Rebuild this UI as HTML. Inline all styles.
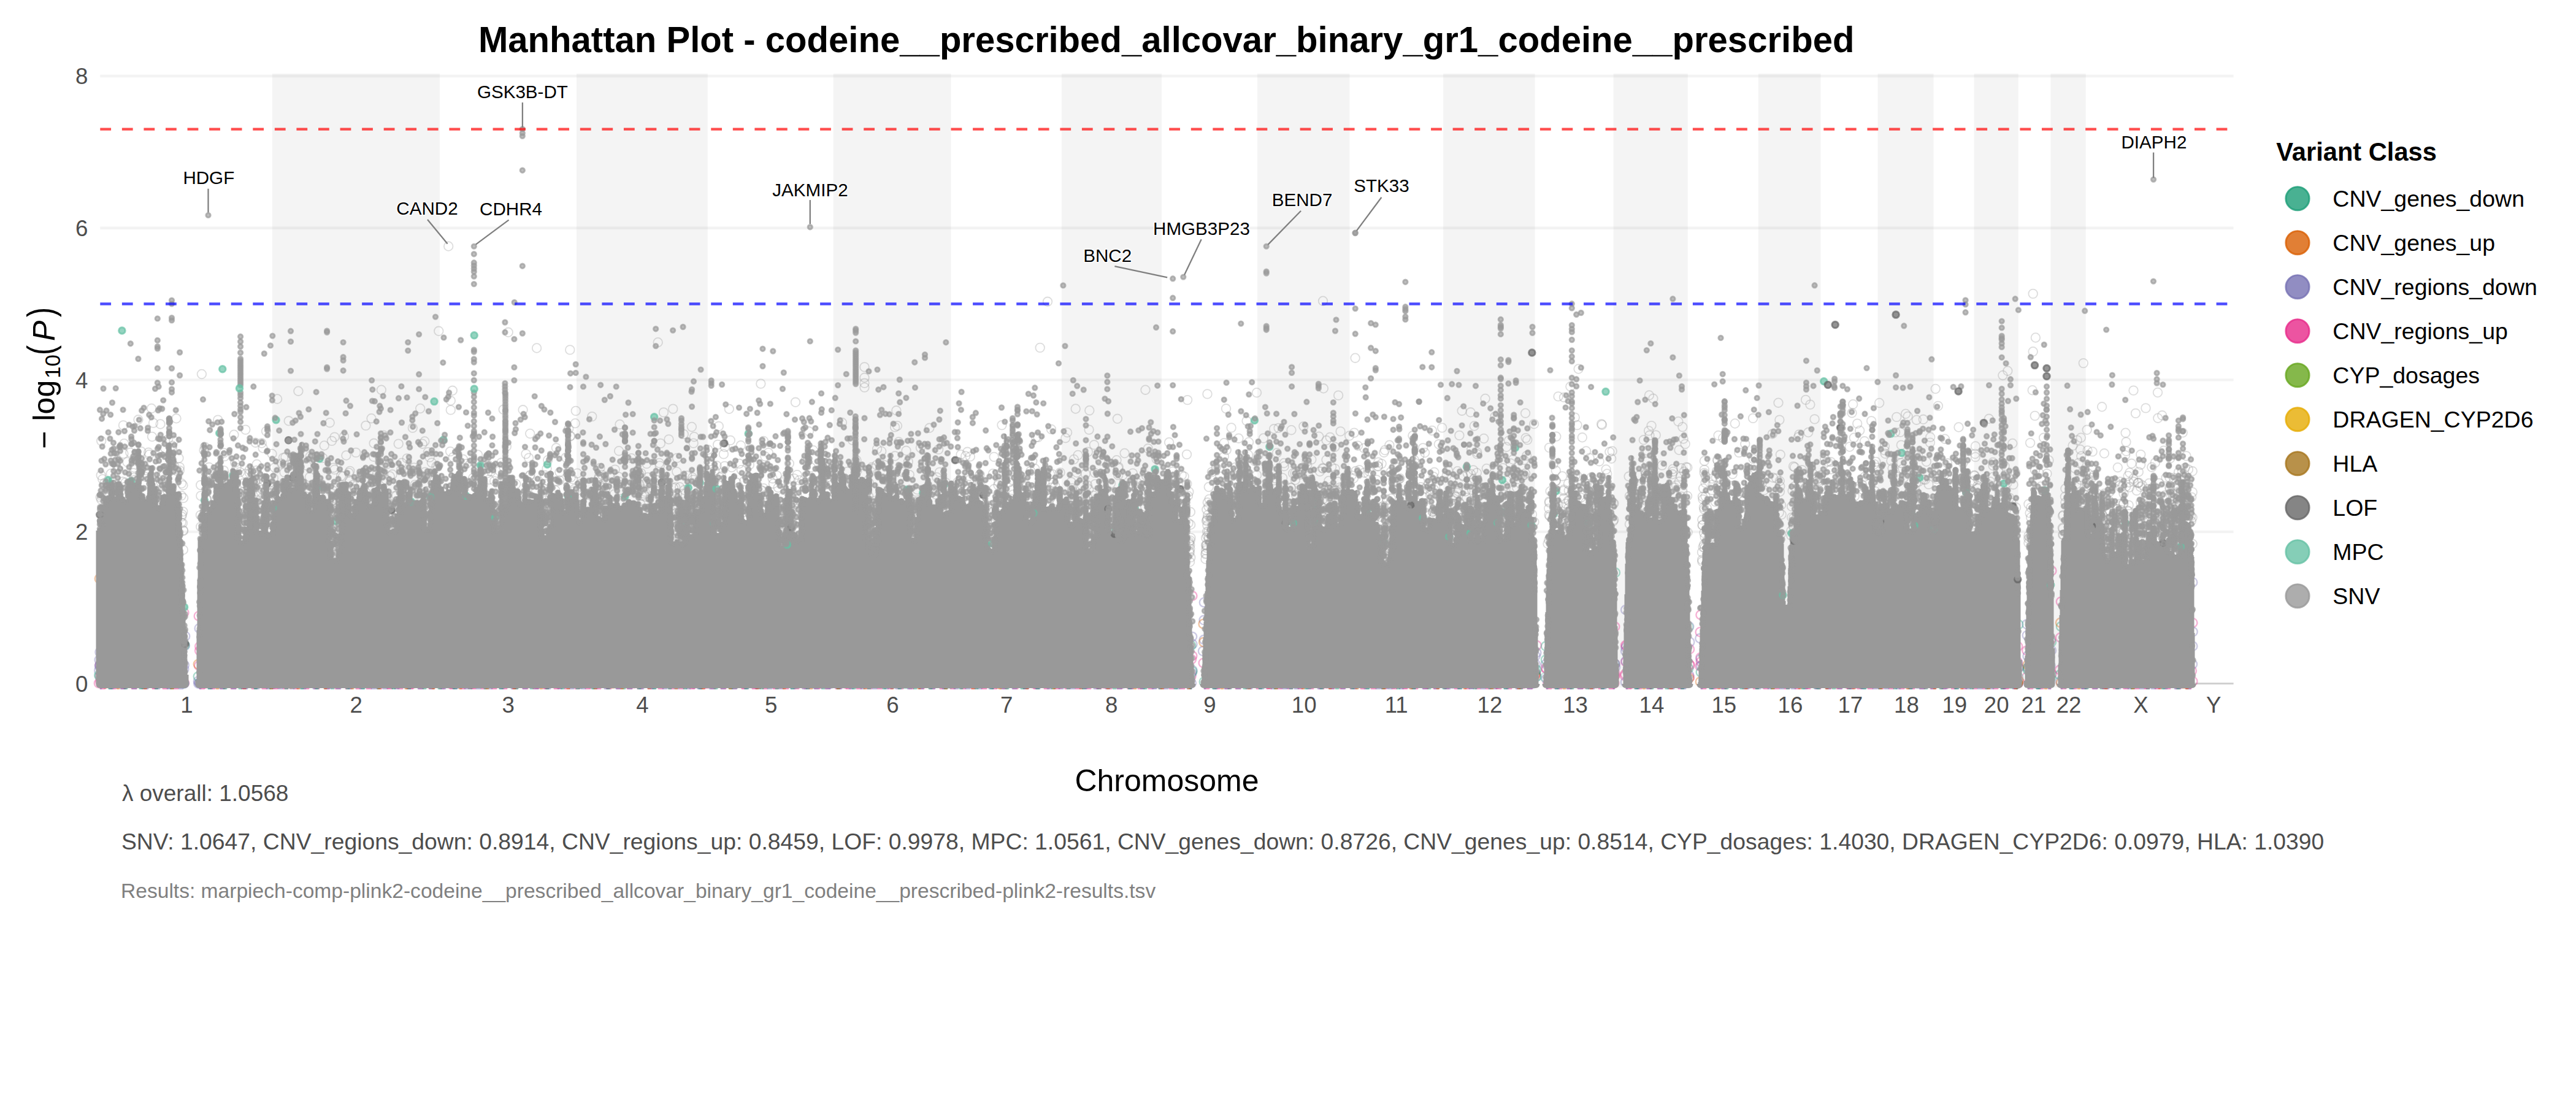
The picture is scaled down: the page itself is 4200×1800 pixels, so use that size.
<!DOCTYPE html>
<html lang="en"><head><meta charset="utf-8"><title>Manhattan Plot - codeine__prescribed_allcovar_binary_gr1_codeine__prescribed</title>
<style>
html,body{margin:0;padding:0;background:#fff}
body{width:4200px;height:1800px;overflow:hidden}
svg{display:block;font-family:"Liberation Sans",sans-serif}
.ax{font-size:36.67px;fill:#4d4d4d}
.gl{font-size:29.6px;fill:#000;text-anchor:middle;stroke:#fff;stroke-width:3px;paint-order:stroke;stroke-linejoin:round}
.lg{font-size:37.5px;fill:#000}
polyline{fill:none;stroke:none}
.s{marker:url(#mS)}.o{marker:url(#mO)}.m{marker:url(#mM)}.l{marker:url(#mL)}
.rp{marker:url(#rp)}.rv{marker:url(#rv)}.rt{marker:url(#rt)}.rg{marker:url(#rg)}.rq{marker:url(#rq)}
</style></head><body>
<svg width="4200" height="1800" viewBox="0 0 4200 1800">
<rect width="4200" height="1800" fill="#fff"/>
<defs><marker id="mS" markerUnits="userSpaceOnUse" markerWidth="24" markerHeight="24" refX="12" refY="12" viewBox="0 0 24 24"><circle cx="12" cy="12" r="3.7" fill="#999" stroke="#999" fill-opacity="0.65" stroke-opacity="0.65" stroke-width="2.95"/></marker><marker id="mO" markerUnits="userSpaceOnUse" markerWidth="24" markerHeight="24" refX="12" refY="12" viewBox="0 0 24 24"><circle cx="12" cy="12" r="7.3" fill="none" stroke="#999" fill-opacity="0" stroke-opacity="0.33" stroke-width="1.8"/></marker><marker id="mM" markerUnits="userSpaceOnUse" markerWidth="24" markerHeight="24" refX="12" refY="12" viewBox="0 0 24 24"><circle cx="12" cy="12" r="5.3" fill="#66C2A5" stroke="#66C2A5" fill-opacity="0.7" stroke-opacity="0.7" stroke-width="2.95"/></marker><marker id="mL" markerUnits="userSpaceOnUse" markerWidth="24" markerHeight="24" refX="12" refY="12" viewBox="0 0 24 24"><circle cx="12" cy="12" r="5.3" fill="#666" stroke="#666" fill-opacity="0.7" stroke-opacity="0.7" stroke-width="2.95"/></marker><marker id="rp" markerUnits="userSpaceOnUse" markerWidth="24" markerHeight="24" refX="12" refY="12" viewBox="0 0 24 24"><circle cx="12" cy="12" r="7.3" fill="none" stroke="#E7298A" fill-opacity="0" stroke-opacity="0.36" stroke-width="2.4"/></marker><marker id="rv" markerUnits="userSpaceOnUse" markerWidth="24" markerHeight="24" refX="12" refY="12" viewBox="0 0 24 24"><circle cx="12" cy="12" r="7.3" fill="none" stroke="#7570B3" fill-opacity="0" stroke-opacity="0.36" stroke-width="2.4"/></marker><marker id="rt" markerUnits="userSpaceOnUse" markerWidth="24" markerHeight="24" refX="12" refY="12" viewBox="0 0 24 24"><circle cx="12" cy="12" r="7.3" fill="none" stroke="#1B9E77" fill-opacity="0" stroke-opacity="0.36" stroke-width="2.4"/></marker><marker id="rg" markerUnits="userSpaceOnUse" markerWidth="24" markerHeight="24" refX="12" refY="12" viewBox="0 0 24 24"><circle cx="12" cy="12" r="7.3" fill="none" stroke="#D95F02" fill-opacity="0" stroke-opacity="0.36" stroke-width="2.4"/></marker><marker id="rq" markerUnits="userSpaceOnUse" markerWidth="24" markerHeight="24" refX="12" refY="12" viewBox="0 0 24 24"><circle cx="12" cy="12" r="7.3" fill="none" stroke="#66C2A5" fill-opacity="0" stroke-opacity="0.36" stroke-width="2.4"/></marker></defs>
<g stroke="#f3f3f3" stroke-width="4.4">
<line x1="163.3" x2="3641.6" y1="867.1" y2="867.1"/>
<line x1="163.3" x2="3641.6" y1="619.4" y2="619.4"/>
<line x1="163.3" x2="3641.6" y1="371.7" y2="371.7"/>
<line x1="163.3" x2="3641.6" y1="124.0" y2="124.0"/>
</g>
<line x1="3575" x2="3641.6" y1="1114.5" y2="1114.5" stroke="#d0d0d0" stroke-width="3.2"/>
<g fill="#808080" fill-opacity=".09">
<rect x="443.9" y="120.0" width="273.0" height="1001.0"/>
<rect x="940" y="120.0" width="213.8" height="1001.0"/>
<rect x="1358.7" y="120.0" width="191.9" height="1001.0"/>
<rect x="1730.9" y="120.0" width="163.0" height="1001.0"/>
<rect x="2050" y="120.0" width="150.4" height="1001.0"/>
<rect x="2353.2" y="120.0" width="149.4" height="1001.0"/>
<rect x="2630.7" y="120.0" width="121.1" height="1001.0"/>
<rect x="2866.9" y="120.0" width="101.5" height="1001.0"/>
<rect x="3061.6" y="120.0" width="90.8" height="1001.0"/>
<rect x="3218.6" y="120.0" width="72.2" height="1001.0"/>
<rect x="3343.4" y="120.0" width="57.3" height="1001.0"/>
</g>
<g stroke-width="3" stroke-opacity=".5" stroke-linecap="round"><line x1="164" x2="300" y1="1122.6" y2="1122.6" stroke="#E7298A" stroke-dasharray="7 10" stroke-dashoffset="0"/><line x1="164" x2="300" y1="1122.6" y2="1122.6" stroke="#7570B3" stroke-dasharray="6 13" stroke-dashoffset="5"/><line x1="164" x2="300" y1="1122.6" y2="1122.6" stroke="#1B9E77" stroke-dasharray="4 21" stroke-dashoffset="11"/><line x1="164" x2="300" y1="1122.6" y2="1122.6" stroke="#D95F02" stroke-dasharray="3 41" stroke-dashoffset="17"/><line x1="326" x2="1942" y1="1122.6" y2="1122.6" stroke="#E7298A" stroke-dasharray="7 10" stroke-dashoffset="0"/><line x1="326" x2="1942" y1="1122.6" y2="1122.6" stroke="#7570B3" stroke-dasharray="6 13" stroke-dashoffset="5"/><line x1="326" x2="1942" y1="1122.6" y2="1122.6" stroke="#1B9E77" stroke-dasharray="4 21" stroke-dashoffset="11"/><line x1="326" x2="1942" y1="1122.6" y2="1122.6" stroke="#D95F02" stroke-dasharray="3 41" stroke-dashoffset="17"/><line x1="1964" x2="2503" y1="1122.6" y2="1122.6" stroke="#E7298A" stroke-dasharray="7 10" stroke-dashoffset="0"/><line x1="1964" x2="2503" y1="1122.6" y2="1122.6" stroke="#7570B3" stroke-dasharray="6 13" stroke-dashoffset="5"/><line x1="1964" x2="2503" y1="1122.6" y2="1122.6" stroke="#1B9E77" stroke-dasharray="4 21" stroke-dashoffset="11"/><line x1="1964" x2="2503" y1="1122.6" y2="1122.6" stroke="#D95F02" stroke-dasharray="3 41" stroke-dashoffset="17"/><line x1="2522" x2="2632" y1="1122.6" y2="1122.6" stroke="#E7298A" stroke-dasharray="7 10" stroke-dashoffset="0"/><line x1="2522" x2="2632" y1="1122.6" y2="1122.6" stroke="#7570B3" stroke-dasharray="6 13" stroke-dashoffset="5"/><line x1="2522" x2="2632" y1="1122.6" y2="1122.6" stroke="#1B9E77" stroke-dasharray="4 21" stroke-dashoffset="11"/><line x1="2522" x2="2632" y1="1122.6" y2="1122.6" stroke="#D95F02" stroke-dasharray="3 41" stroke-dashoffset="17"/><line x1="2652" x2="2753" y1="1122.6" y2="1122.6" stroke="#E7298A" stroke-dasharray="7 10" stroke-dashoffset="0"/><line x1="2652" x2="2753" y1="1122.6" y2="1122.6" stroke="#7570B3" stroke-dasharray="6 13" stroke-dashoffset="5"/><line x1="2652" x2="2753" y1="1122.6" y2="1122.6" stroke="#1B9E77" stroke-dasharray="4 21" stroke-dashoffset="11"/><line x1="2652" x2="2753" y1="1122.6" y2="1122.6" stroke="#D95F02" stroke-dasharray="3 41" stroke-dashoffset="17"/><line x1="2774" x2="3289" y1="1122.6" y2="1122.6" stroke="#E7298A" stroke-dasharray="7 10" stroke-dashoffset="0"/><line x1="2774" x2="3289" y1="1122.6" y2="1122.6" stroke="#7570B3" stroke-dasharray="6 13" stroke-dashoffset="5"/><line x1="2774" x2="3289" y1="1122.6" y2="1122.6" stroke="#1B9E77" stroke-dasharray="4 21" stroke-dashoffset="11"/><line x1="2774" x2="3289" y1="1122.6" y2="1122.6" stroke="#D95F02" stroke-dasharray="3 41" stroke-dashoffset="17"/><line x1="3307" x2="3343" y1="1122.6" y2="1122.6" stroke="#E7298A" stroke-dasharray="7 10" stroke-dashoffset="0"/><line x1="3307" x2="3343" y1="1122.6" y2="1122.6" stroke="#7570B3" stroke-dasharray="6 13" stroke-dashoffset="5"/><line x1="3307" x2="3343" y1="1122.6" y2="1122.6" stroke="#1B9E77" stroke-dasharray="4 21" stroke-dashoffset="11"/><line x1="3307" x2="3343" y1="1122.6" y2="1122.6" stroke="#D95F02" stroke-dasharray="3 41" stroke-dashoffset="17"/><line x1="3361" x2="3573" y1="1122.6" y2="1122.6" stroke="#E7298A" stroke-dasharray="7 10" stroke-dashoffset="0"/><line x1="3361" x2="3573" y1="1122.6" y2="1122.6" stroke="#7570B3" stroke-dasharray="6 13" stroke-dashoffset="5"/><line x1="3361" x2="3573" y1="1122.6" y2="1122.6" stroke="#1B9E77" stroke-dasharray="4 21" stroke-dashoffset="11"/><line x1="3361" x2="3573" y1="1122.6" y2="1122.6" stroke="#D95F02" stroke-dasharray="3 41" stroke-dashoffset="17"/></g><polyline class="rp" points="251,1113.7 171.6,1114 251.1,1114.6 191,1114.2 192,1113.7 202,1114.3 251.4,1113.4 231.7,1113.4 162.7,1084.3 163.4,1111.4 161.1,1114 163,1102.4 300.9,1113.5 300.2,998.9 1435.3,1113.7 672,1114 991.7,1114.5 838.1,1114 1332.3,1113.8 868,1114.2 1801.1,1114.8 633.5,1114.8 910.7,1114.7 454.7,1114.4 396.9,1114.7 1408.9,1114 1703.5,1113.6 667,1114.3 913.9,1113.9 1211.3,1114.4 1152.6,1114.8 493.6,1113.5 1845.1,1114.6 1742.8,1114.1 912.3,1113.9 1262.7,1113.9 1375.6,1113.7 839.2,1114.1 1006,1113.7 344.9,1114.2 470.5,1113.4 975.1,1113.9 1554.8,1113.9 1620.1,1113.8 1033.8,1114.2 368.3,1113.6 1303.9,1113.8 1236.5,1114.1 1677.5,1114.1 1308.8,1114.2 890,1114.7 1601.4,1114 1379,1114.7 1130.5,1114.8 1272.4,1114.4 1726.8,1113.8 1907.8,1113.4 1836.8,1113.7 1261.5,1113.9 980,1113.6 1015.2,1113.8 765.8,1114.8 566.6,1113.7 396.9,1114.3 1606.1,1113.6 1843.6,1113.8 820.4,1113.6 513.2,1113.9 329.2,1113.7 805.6,1113.4 862.3,1113.4 1201.6,1113.9 771.2,1114.4 1670.8,1114.2 1338.1,1114.6 462.9,1113.8 1370.3,1114.5 1768.2,1114.3 445.5,1114.6 876.2,1114.7 425.2,1114.1 1316.6,1113.9 1440.7,1113.3 543.5,1114 1321.6,1113.4 1232.1,1114.7 334.6,1114.6 1207.9,1113.8 483.9,1114.1 961.9,1114.3 732.5,1114.5 1638.3,1113.7 640.3,1113.9 1625,1113.7 591.9,1113.3 1790.9,1114.7 1142.1,1114.2 672.8,1114.8 1010,1114 1685.1,1114.6 1234.7,1113.8 1365.4,1113.7 1318.5,1113.7 1859.1,1114.1 645.7,1114.5 1121.1,1113.9 361.9,1113.4 736.9,1114.4 1729,1114.7 1537.2,1114.1 324.4,1085.4 324,1004.4 325.4,1061.1 325.5,1053.9 1942.3,1102.4 1942.7,1075 1944.2,971.6 1944.1,1069.3 1972.8,1113.4 2005.6,1114.4 2116.3,1113.9 2163.6,1114.5 2297.1,1114 2067,1114.7 2291.9,1114.6 2327.1,1114.7 2272.6,1114.1 2430.1,1113.6 2484.3,1113.6 2068.2,1114.4 2186.4,1114 2251.7,1113.5 2483.6,1114.7 2357.2,1114 2337.7,1113.7 2117.7,1113.9 2439.2,1114.5 2256.7,1113.4 1987.3,1114.2 2288.9,1113.4 2300.7,1113.3 2400.4,1114.7 2383.8,1113.5 2213.8,1113.3 2281.5,1113.9 2004.4,1114.3 2170.5,1114.3 2176.3,1113.5 2441.5,1114.6 1961.9,1080.9 2503.8,1098 2504,1099.3 2505.5,1052.2 2533.2,1114.6 2523.6,1113.5 2586.1,1114.5 2558.2,1114.1 2630.5,1114.3 2602.6,1114.3 2581.6,1114.5 2520.1,1089.3 2521.5,1091.1 2632.2,1103.1 2632.2,1113.9 2632.8,1097 2633.4,1082.6 2633.1,1021.8 2632.9,1101.7 2707.1,1113.8 2694.4,1113.4 2657.4,1113.7 2750.7,1113.8 2659.9,1114.7 2690.6,1114.6 2676.5,1113.8 2651.4,1052.9 2649.5,1099.1 2649,1101.7 2650.3,1052 2650.6,1079 2755.5,1084.5 2754.4,1083 2754.9,1104.2 2754.8,1058.6 3016.8,1114.6 3265.8,1113.9 2832.3,1113.7 3015.5,1113.6 3284.6,1114.6 2870.2,1113.4 3275.4,1114.4 3168.9,1113.9 2997.2,1113.9 3175.4,1114.7 3214.8,1113.6 2967.3,1113.4 2803.3,1114.7 3210,1113.3 3001.8,1113.8 2947.3,1114.1 3268.2,1114.5 3106.8,1114.1 3024.6,1114.8 3140.5,1114.6 2956.9,1113.8 3266.9,1114.8 3104.1,1114.1 3008.7,1113.6 3011.9,1114.7 2902.2,1113.3 2946.4,1114.6 2772.7,1002.5 2772.6,1072.1 2771.9,1030.4 2771.7,1086.3 2773,1079 3289.4,1079 3291.3,1112.9 3290.8,1088.6 3290,1053.9 3304.5,1060.6 3306.2,1089.3 3304.6,1103.5 3345.4,1098.5 3345.2,930.6 3343.8,1042.4 3451.6,1114 3461.5,1114.1 3427.1,1114.7 3521.2,1114.4 3430.2,1114.3 3563.5,1114.3 3519.3,1113.3 3514.4,1114.1 3499.8,1114.8 3360.1,981 3359.3,1039.6 3358.2,1092.3 3575.2,1110.9 3573.7,1093.7 3575.1,1015.4"/><polyline class="rv" points="274.8,1114.5 185.8,1113.9 214.4,1113.6 166.3,1113.6 204.3,1114.4 162.7,1063.3 161.8,1075.9 162.7,1084.4 162.2,1086.2 161.4,1093.3 300.1,1090.7 300.6,1084.3 301.6,1052.8 302,1037.2 300.2,1114.4 1835.6,1113.4 325.6,1113.8 745.1,1114.7 436.4,1114.1 1138.2,1114.4 1356.1,1114.2 701.8,1114.1 934.4,1114.1 1841.5,1114 1926.6,1113.6 1237.6,1114.4 398.9,1114.7 1545.3,1114.3 1453,1114.8 579.4,1114 1652.7,1113.5 1224.1,1114 358.5,1114.1 1688.9,1114.4 1131.2,1114.6 1763.6,1114.7 1058.4,1114 1327.2,1114.6 1618.1,1113.9 1770.9,1114.8 1503.7,1114.1 1003.9,1114.2 1480.2,1113.5 1790.9,1113.5 1725.7,1113.5 1926.2,1114.6 754.6,1113.4 785.8,1113.5 1601.4,1113.5 1352.6,1114.7 1362,1114.1 1070.9,1113.6 1233.4,1114.3 539.8,1114.7 1671.4,1114.5 1886.6,1113.4 446.6,1114.4 1830,1114.7 1500.9,1113.6 1341.1,1114.3 1457,1114.7 1226.9,1113.9 601.9,1114 1862.6,1114.1 1887.9,1113.7 1882.7,1114.7 1862.6,1114.5 1553.5,1113.4 1059.7,1114.4 1572.3,1113.7 324.9,1024.4 324.8,1113.8 323.1,1110.5 323.4,1114.4 1944.3,1050.2 1943.2,1097.6 1943.9,1038 1944.3,1092.8 1942.7,1113.8 2448,1113.5 2252.2,1114.2 2400.3,1114.3 2097.7,1114.3 2036.9,1114.5 2269.6,1113.4 2281.5,1114 2070.3,1113.9 2088.5,1113.9 1998.7,1113.5 2375.1,1113.4 2499.5,1114.6 2093.4,1113.7 2355.4,1114.8 2100.8,1114.7 2485.2,1113.8 2106.1,1114.3 2486.5,1113.7 2368.4,1114.7 2120.7,1114.6 2397.2,1114.7 2261.8,1114.8 2089.1,1114.6 1962.9,1043 1962.8,1011.1 1963.1,982.2 1961.2,1061.6 2503.5,1069.5 2505.1,1102.7 2505.2,1064.3 2503.6,1083.1 2593.3,1113.5 2618.6,1113.5 2579.8,1113.6 2557.2,1113.4 2571.7,1114.1 2625.8,1113.3 2521,1106.8 2520.4,1082.7 2633.1,1082.5 2634,1087.5 2749.9,1113.5 2746.3,1114 2670.2,1113.8 2737.4,1114.6 2650.4,994.3 2650.6,1055.9 2650.1,1112.2 2650.3,1061.8 2650.6,1078.1 2754,1021.6 2755.1,1046.7 2753.9,1100.4 3120.1,1113.9 3205.4,1114.2 2837.6,1113.4 2836.3,1114 2914.7,1114.2 2846.5,1113.8 2890.5,1113.6 3174.7,1114 2904.6,1114.1 3139.3,1113.8 2842.7,1114.4 3091.2,1114.4 2853.4,1114.6 3202.2,1113.4 3204.7,1114.1 2978.7,1114.2 3284.5,1113.8 3276.8,1113.4 3062.6,1114 3268.5,1114.7 3273,1113.6 3290.5,1114.6 2874.5,1114.5 3126.2,1114.7 3035.6,1114.4 3083.8,1113.7 2940.6,1113.5 2773.5,1086.1 2771.6,1040.8 2772.7,1074.4 3290.4,1081.7 3291.5,1088.4 3317.9,1114.3 3305,1035.9 3305.7,1069.7 3304.4,1017.7 3344.8,1060.5 3343.3,1085.3 3416.7,1113.6 3466.3,1114.4 3386,1113.5 3465.2,1113.8 3401.1,1113.4 3541.9,1113.8 3420.1,1114 3556.3,1114.5 3432.7,1113.4 3402.5,1114.3 3395.7,1114.7 3359.3,1110.7 3574.8,1083 3575,949.4 3575.4,1030.1 3575.1,1053.6"/><polyline class="rt" points="242.8,1113.7 232.6,1114.8 229.1,1114.2 161.7,1102 300,1114 301.1,1051.9 739,1114.6 1299.1,1114.4 1363.7,1113.8 1514.2,1113.7 1636.6,1113.4 640,1114.8 1057.1,1113.8 946.5,1114.7 443.1,1113.5 632.7,1113.5 1319.6,1113.8 1476.9,1113.7 648.7,1113.5 1473.4,1114.4 740.9,1113.4 1477.5,1114.6 1746.6,1113.5 1189.6,1114.2 1556.3,1113.9 616.8,1113.4 416.1,1114.2 1670.8,1114.8 1549.9,1114.5 323,1103 1942.1,1052.5 1944.2,1094.7 2272.4,1114.3 2387.8,1113.4 2443.3,1114 1984.5,1113.9 2400,1114.1 2136.7,1114.7 1963,1111.6 2503,1095.2 2505.4,1092.1 2505.1,1103.5 2520.3,1053.6 2520.2,1075.5 2633.7,933.6 2670,1114.4 2753.1,1089.8 3034.9,1113.7 3279.9,1114.7 2960,1114.7 2782.5,1113.3 3034.3,1114.8 3188.9,1114 2984,1113.8 2773,1095.9 3290,1113.9 3291.1,1018.2 3324.5,1114 3321.4,1114.6 3306.3,1088.5 3306.1,1092.4 3344.7,1046.9 3343.3,1106 3367.1,1114.5 3432.9,1113.9 3360.2,1021.5 3358.1,1100.3"/><polyline class="rg" points="172.1,1114.4 162,943.6 701.1,1114.2 1626.6,1114.5 1189.6,1114 1416.3,1113.8 1352.1,1113.3 474.7,1114.7 999.2,1114.5 1238.1,1114.7 442.5,1113.3 593.7,1113.6 323,1083.1 2194.8,1113.6 2069.7,1114.4 2343.4,1113.5 1961.8,1017.2 1962.4,1047 2503,1102.1 2753.9,1106 2987,1114 3290,1114.1 2772.1,1111.6 3291.5,1109.9 3330,1113.7 3305.7,1083.9 3360.2,1113.3 3560.4,1114.5 3359.3,1015.2"/><polyline class="rq" points="161.6,1099.9 1253.3,1114.7 1451.4,1113.4 479.3,1114.7 1010.4,1114.1 977.9,1113.8 1029.5,1113.7 1845.9,1113.5 1916.1,1114.3 703.3,1114.2 1198.8,1114.8 489.7,1113.5 619.2,1113.6 718,1114.1 1741.4,1114.2 409.2,1114 1543.7,1114.3 1566,1114.1 1937.4,1113.4 2016.9,1113.4 2445.7,1113.9 2035.3,1114.8 2059,1114.6 2503.4,1092 2591.8,1114.6 2519.2,1104.2 2632.5,1081.9 2727.8,1113.7 2753.1,1022.3 2843.1,1114.5 3291.3,1104.5 3305,1089.6 3377.4,1113.7 3547,1113.8"/>
<polyline class="o" points="3224.1,792.2 204.5,786.7 2306,759.5 794.8,771.3 1996.4,786.3 1113.8,805 711.4,760.2 688.8,723.7 1966.9,849.3 2601.9,865.1 643.2,808.9 2552.6,821.2 2216.2,766.2 3389.3,754.7 2351.2,697.4 2828.8,690.5 2841.9,817.2 2019.5,714.7 1422.1,896.6 1714,699.9 3124.3,787.3 3550.9,874.8 1970.4,826 420.3,782.1 2403,780.8 3485.6,787.2 1775.9,881.2 2797.9,778.6 3548.5,874.7 3063.3,863.4 1619,852.2 3055.9,757 1127.2,855.4 3429,847.9 3366.9,809.8 2839.3,854.1 1683.3,751.8 2656.9,854.5 218.5,750.6 505.7,744 1051.4,801.6 2258,734 1297,655.8 1753.7,666.5 1757.6,742 366.2,744.1 1745.6,840.2 2182.1,644.6 3486.8,769.4 1969.2,839.7 820.7,667.8 3080.5,812.2 2835.4,737.9 1441.8,758.1 1176.2,776.7 1430.1,732.1 397.1,787.8 1104.2,804.8 3574.6,843.7 2176.6,764.1 1968.4,873.9 2111.4,771.7 2383.8,845 600.7,771.1 643.9,821.3 327.2,790.9 3215.4,786 3453.3,852.7 1597.6,773.8 2337.8,797.9 817.4,754.4 604,813.3 1044.4,822.3 2681.6,767.2 1912.5,791.3 461.9,746.4 3220.2,740 2392.6,771.8 1103.9,746.6 3036.6,798.3 2595.5,852.6 1939.5,901.5 393.6,877.1 906.9,730.3 908.3,784.6 3307.4,821.9 2592.3,873.9 459,755.7 1422,763.9 2267.9,812.8 1614.1,863.4 2176,799.3 2155.2,826.7 2792.9,877.4 1644.8,814.6 2155,834.4 3398.6,806.8 2111.9,782.5 1968.3,845.5 2921.1,825.8 1619.9,851.9 2592.7,838.3 703.8,754.3 3442.5,791.5 3538.1,888.6 2090.3,822.9 1008.8,777.5 3551,900.6 3454.8,792.4 3452.8,829.7 400.4,772.5 3057.9,808.1 2060,714.5 873.9,798.4 2776.6,892 3493.1,791.4 2679.8,717.3 1542.4,794.3 332.5,734.2 885.8,796.6 2571.5,693.1 3064.2,657 3496,852 1715.4,772.9 1775.4,821.2 1939,886.5 2935,787 1546.3,798.2 3214.8,833.4 3538.5,747.3 2282.6,780 3151.2,846 545.6,765.6 2256.8,871.4 2152,768.8 1421.4,761.7 2556.8,816.2 806.1,784.4 1179.9,740.4 1674,793 2525.5,839.6 3455,862.6 3469.6,776 3400.4,771.6 2611.1,691.4 3085.5,763.5 3090.1,704.9 1109.1,860 3115.4,832.7 2552,849.3 385.6,762.6 2169,811.6 1461.4,669.3 2386,851.1 676.3,790.5 3408.8,805.5 693,769.6 572,797.6 2591.7,746.8 3572.8,849.7 2049,640.2 545.1,901.7 3045.5,774.9 542.2,861.5 1737.3,714.2 1051,829.2 1534.4,800 2549.5,854.4 2775.4,915.8 1075.7,759.4 1130.3,782.1 2527,841.8 2501.1,691.3 1829.5,873.3 3435.5,878.9 948.1,812.4 2532.7,756.5 1277.5,834.8 1076.9,722.9 2489.2,743 1576.5,805.5 3379.5,726.6 242.1,737.8 2407.8,771 697.7,737.2 2424.3,799.7 446,779.6 1105.6,842.9 887.1,821.7 1616.9,850.6 981.5,774.2 1103.3,769.1 2014.2,770.9 326.9,839.9 2422,799.9 1611.1,832.9 2159.7,843.8 1321.9,762.1 605.7,812.9 3530.3,833.1 3022.8,713.7 809.8,829.5 2600.1,799.5 2398.1,772.7 1967.2,887.8 3438.5,816.4 2376.4,768.2 1906.1,721.2 1820.6,750.2 3317.8,677.9 429.7,782.9 1170.2,724.9 399.4,841.2 2876.2,799.1 212.3,738 1651.4,806.5 2252.7,832.7 3332.1,713.8 1940.1,916.3 427.9,798.4 2371.6,807.5 1103.2,835.9 1416.1,808.7 2265.4,725.7 2484.9,774.6 1968.5,642.4 639.6,773.5 1527.4,778.1 609.1,744.7 1935.4,788.7 2593.7,892.1 2340.3,794.3 2624.4,736.8 3110.6,678.8 1610.4,853.5 2161.6,838.4 2560.4,630.3 1574.2,743.5 1941.3,908.9 1617.2,852.1 2591.1,856.3 550.1,819.9 2747.6,723.9 2266.9,850.7 2706.7,837.2 2602.4,863.4 3311.2,843.7 1039.7,769 3392.6,821.6 1649.6,798.9 425.6,819.7 2446.8,861.2 542.5,839.3 499.9,759 2695.4,649.8 2594,818.1 2858.1,681.9 2790.8,876 1782.8,808 3068.1,816.9 3136.6,781.7 1348.6,778.4 2969,774.6 550.9,805.4 2183.6,827.3 1273.7,852.6 1811.9,804.3 2547.2,776.4 3121.9,797.6 2261.6,840.1 3147.2,712.7 2795.3,870.9 2224.3,770.7 2683.7,772.7 675.1,762.4 1853.7,840.1 400.3,700.6 2468.5,830.3 1190.8,717.9 1852.9,855.4 3257.6,767.4 2267.3,820.2 2451.6,852.8 3525.8,810.6 1968,848.4 3465.6,705.7 1566.4,787.9 1213,784.8 3503.9,788 425.6,845 3139,782.2 201.5,739.6 1525.9,806.2 3516.5,827.6 568.8,770.7 1240.6,799 672.8,697.6 1417.9,843.3 1678.3,831.4 1828.4,862.3 2799,768 2955.6,772.1 1043.4,796.6 3435.3,856 3527.6,734.7 1966.1,877 1221.9,758 3534.3,838.6 1459.1,696.4 1867.1,826.1 2620.3,772.5 391.4,769.7 1099.4,844.2 3478.5,636.6 734.8,653.3 2460.1,718.4 1565.3,784.5 3554.2,819.4 2775.1,912.7 204.2,793.5 2943.7,795.1 3126.9,741.2 1480.8,752.9 3102.3,764.4 2925.6,793.1 2603.7,887 2264.3,897 2263.3,847.3 1677.8,840.7 3402.5,792.3 1594.6,806.3 3451.8,830.1 578.6,797.3 2397.7,672.3 3475.4,755.8 2136,881.4 486.4,637.7 1970.8,879.4 760.4,756.2 1129.1,778.5 2552.1,853.4 574.8,797.3 2567.7,680.6 3436.5,907.5 2536.8,767.3 1930.7,776.9 862.2,746.6 2325.2,827.1 1423.5,826.7 2845.3,723.7 1966.3,902.5 2791.5,853.7 1299.6,774.1 2274.9,785.5 2156.6,814.2 2243.5,841.6 1760.8,842.6 3501.6,797.2 3066.8,808.5 2261,907.4 3491.3,864.6 2594.6,863.6 1389.9,717.6 564.4,742.5 700.6,745.6 1482.8,774.1 1173.5,778.3 810.7,851.6 3564.7,831.5 3218,783.7 1968.1,866.7 3015.7,728.5 1420.5,837.5 347.4,770.1 3505.8,806 1133.9,819.5 543.6,762.7 561,711.6 3406.8,790.6 3019.5,673.2 1597.3,788.1 1275.5,820.8 2165.1,816.4 237.8,777.6 2078.6,779.9 364.8,767.1 2685.9,752.3 2975.4,748.6 2776.5,814.3 3462.3,821.5 2250.4,842.6 2185.6,703.4 2168.6,712.9 292.9,767.1 3529.8,856.7 1541.7,786.6 1049.4,804.5 2968.1,776.2 2370.6,822 2736.4,687.2 912.2,783.1 596.4,693.9 463.6,770.3 3466.8,735.6 2778.9,751.5 1313.4,750.5 2556.5,836.4 1885.7,748.8 2413.7,864.1 3489.7,793.8 993.4,775.3 416.2,783.8 2257.2,885.4 2258.7,834 3473,867.8 3570.1,837.1 393.2,866.8 1274.6,877.8 2944.1,651.9 2124.7,762.7 1620.7,744.9 3557.9,768.9 1779,829.7 1763.6,791.3 2924,760.4 986.6,797.9 2487.7,714.1 2824.8,773 684.1,802.8 2265.6,841.2 1540,804.2 1620.9,797.1 3448.4,870 3508.4,761.7 1243.2,800.4 3402.7,700.8 2051.6,741.8 3399.5,814.5 2526,817.6 640,855 930.2,710.9 3279.1,819.8 892.4,852.9 3437.5,906.6 2842.7,803.5 3457.2,821.4 526.3,746.6 292.9,761.6 3564.5,743.4 341.3,780.7 2778.7,771.1 1823.3,774.8 635,824.3 2539.9,859.1 1609.7,823.7 1424.6,860.3 2539.2,844.3 3516.1,826.1 1037.1,798.8 2851.2,774.8 3394.9,819.2 3531.7,858 3482,673.9 2924.2,859.7 3216.5,847.6 1244.9,718.9 1723.5,816.4 1090.5,716.4 573.7,825.8 3113.3,807.8 2921.2,843.6 3364.2,871.7 1965.9,889 2176.4,728.7 1130.7,722.6 1011,799 3114.7,832.3 281,731.2 2049.1,774.5 2303.4,710.3 2537.2,828.1 2932,712.7 3462.5,804.9 3157.8,771.9 2484.6,749.9 437,841.5 400.8,849.9 2807.4,757.8 274.1,716 3471.1,906.8 3077.1,809 2985.2,765.2 2809.2,714.2 2791.1,780.4 922.7,745.9 2782.9,828.8 3547.6,874.1 2591.7,886.7 3428.3,840.3 3476.8,855.2 2157.4,763.8 3123.8,742.6 3309.6,836.5 1970.9,875.9 2525.2,880.5 3562.6,816.7 2833.3,806.1 3495.4,897.4 1822.9,762.6 1970.5,866.6 649.7,723.6 1416.7,846.8 298.4,834.1 3503.7,850.9 2673.8,789.8 1100.5,817.2 2779.6,875.8 1055.8,778.1 2778.4,830.5 2740.1,776.9 225.5,684.3 3427.1,663.3 2261.4,815.9 3040.2,777.3 3551.3,889.9 2473.4,795.5 3493.9,907.3 2419.3,715 548.1,903 2565.3,785.5 3502.2,863.8 2255.6,878.6 2398.6,820.1 1852.2,855.9 439.6,834.8 3062.5,812.1 1488.5,860.8 2335.5,784.5 543.8,904 2838.7,815.2 3169.6,774.6 548.9,828.8 1406.3,772.1 2901.4,684.6 3541,804 1680.3,768.1 3337.4,772.3 3487.4,787 1286.9,755.7 3287,827.4 1157.2,752 857.5,740.1 3552.1,840.4 2151.8,796.6 2546,837.6 2899.5,656.7 419.2,808.2 2741.2,809.4 1205.3,755.9 2778.9,765.9 1295.9,821.7 895.8,833.3 2276.7,786 3128.2,785.5 1975.8,769.6 2391.2,811.5 1564.4,785.2 2181.5,785.4 395.4,802 1970.8,794 888.3,775 978.4,763 1747.8,821 295.6,852.1 1212.8,834.5 544.5,839.5 3563.6,805.1 546.2,872.4 2501.5,851 2258.2,884.5 957.4,820.8 1097.2,835.1 1293,817.6 2280.6,781.4 2935.9,785.3 2684.1,792.1 2591.3,791.9 3522.1,878.6 544.2,883.7 3479,785.3 340.6,784.3 888.9,853.3 1773.7,811.4 2368,853 1417.2,870.4 3564.9,846.6 2595.1,892.7 3468.8,871.2 763.2,787 286.4,767.3 3518.4,861.3 2691,830.2 1437.2,735.7 1935,740.9 2470.6,768.8 1002.7,765.6 1356.2,773.4 1633.7,795.6 1785.4,789.5 3059.7,762.4 2378.9,819.4 636.8,841.9 1362.7,765.5 3385.7,789.1 3438.5,886.8 297,838.7 2595.1,892.5 1939.6,899 3392.8,713.6 559,776.7 2274,760.8 1982.8,762 1651,782.8 1101.9,850.1 2676.7,823.4 2577.4,811.4 2105.5,701.2 3056.8,800.8 570.5,767.9 821.1,806.2 552.7,882.7 503.1,795.9 685.2,666 2896.3,779.9 2890.8,778.8 2683,771.9 3494.2,816.9 2751.4,762.2 3123.8,821.8 2260.2,912 1686.8,795.5 2557.7,827.9 418.7,757 1751,749 393.6,863 1544,828.9 3447.7,895.2 2376.2,803.7 3441.5,854.3 556.2,775.9 296.1,788.3 2889.8,707.5 1421.1,866.5 243.2,741.2 2775.9,809.8 930.7,778.4 1097.3,666.6 437.4,854.7 2251.9,827 3318,766.9 2780.5,809.3 3437.8,904 2077.1,699.3 3242.9,682.8 1420.8,891.4 3414.2,775 821.2,808 3490.3,873.4 3364.1,839.8 2985,753.1 170.4,787.6 2525.3,829.1 3529.6,863.7 248,712 2541,822.6 3410.6,779.2 2265.1,875.6 3548.6,847.2 3539.4,895.9 2456.2,728.8 1633,799.5 3517.7,838.3 1001.6,805.8 941.3,771.7 2259.1,859.4 1471.9,769.7 2385.9,842.4 2971.2,797.2 2922.5,800.2 299.2,865.5 1181.5,759.9 2590.5,872 1278.7,782.7 2423.9,805.2 3249.5,759.2 1769.8,772.4 2668.3,807 3518.3,863 550.7,826.3 2558.1,816.7 3574.7,886.8 609.6,722.8 2470.3,848.1 814.5,767.7 2261,910.3 219.9,782.3 3486.6,834.7 1645,815.3 2174.8,800.4 3307.4,873.6 933.9,781.4 2688.1,702.4 443.1,804.7 1853.5,863.8 1298.1,858.9 2323.1,738 2335.9,834.5 1108.3,794.2 3449.4,785.8 2587.4,788.8 545.8,890.8 1221.5,778.2 3264.4,794.6 1381.6,769 2437.6,678.9 2259.6,859.6 2319.8,809.7 1271.8,838.2 2408.5,737.4 1689.3,713 893.2,750.3 1971.6,813.9 1747.8,795.9 2926.1,761.6 2451.9,872.6 2484.9,820.9 3382.8,763.5 1298.8,826.2 1793.8,751.3 542.9,812 1105.7,866.9 250,689.6 2780.5,787.3 1597.7,801.5 1728.5,770.4 1125,854.7 426,803 2133.4,775.4 2728,768.9 2400.1,798.6 2498,838.6 891.6,764.1 1630,827.8 2741.2,763.3 1775,848.7 797.6,782 2594.9,778.1 3496.2,897.4 3310.1,722.1 697.2,800.5 397,869.9 2379.4,709.9 2267.8,769.2 1995.9,744.3 2920.4,873.3 1102.5,865.1 230.3,736.2 2958.6,683.4 3548.4,872.6 2032.6,686.3 2089.9,792.6 738.8,745.4 3286.1,770.7 401.4,833.5 2218.6,825.4 3471.6,843.1 1617.7,881 3456.5,785.3 1821.9,682.8 2398.5,816.7 3225,781.6 3470.9,888.9 2549.7,798.2 570.4,783.3 2207.9,705.6 655,754.8 1867.5,635.7 438.9,865.9 1845.3,792 263.4,773.8 965.3,679.1 3531.6,778.8 2801.6,710 1812.9,846.5 3437.3,855.9 3403.9,780 1276.6,809.6 1301.1,833.2 2796.6,818 504.9,777.7 1989.3,777 2125.4,695.1 2014.1,824.3 2093.8,760.2 3546.7,825.5 2207.1,779.8 697.2,846.2 423.6,860.8 2745.7,768.8 3108.3,769 2369.3,876.7 2807.2,765.6 2257.7,867.3 287.5,682.3 1746.5,785.9 1493.8,831.9 2526,729.9 2366.4,780.8 2751.7,867.7 445.5,790.7 1967.1,889.6 283.5,718.4 2900.7,836 247,666 2489.1,804.8 2743.1,801.4 2090.8,815.9 1680,833.9 1526.2,800.1 889.1,850.6 1853.7,855.7 1054.8,785.2 3435,874.2 2630.1,820.6 202.4,723.2 2168.1,794.7 2805.3,781.4 2778.3,868.9 1165.3,767.5 658.8,802.9 2417.3,796.9 164.7,774.9 3157.5,781.3 3574.7,768.3 822.3,816.3 1616.5,882.9 1775,868.4 1709.5,798.6 3458.7,831.8 635.8,776.5 400.3,849.2 399.5,835.3 1940.4,894.6 2254.1,850.2 2466.7,749.3 1245,796.2 336.7,814.6 3363.8,861.6 895.2,851.1 1260.8,788.5 2153.7,826.3 1616.9,863.8 1273,818.7 2630.1,850 2177.1,803.9 2453.8,792.2 3470,892.7 2336.4,834.6 1940.4,888.5 1544.2,810.1 395,853.8 1519.7,799.5 2923.5,853.8 2744.7,715.5 734.8,668.4 3220.1,854.5 1064.4,817.9 2252.6,756.1 3567.4,812 2571.9,776.6 1101.2,794.4 771.2,779.3 912.4,770 2807.3,768.5 299.1,812 201,693.4 1139.3,823.1 1764.6,822.3 660.9,802.8 2178.2,799.8 1463,694.2 218.8,762.4 1811.1,788.1 1101,824.2 207.5,753.5 772.5,783.8 1830.5,775 3465.1,742.1 1823.8,761.3 3471,897.3 3402.9,787.4 1135,824.1 2591.6,883.8 3268.6,759.7 425.5,817.7 1628.4,786.8 551.2,890.2 1131.8,712.2 3505.3,858 3526.4,861.8 475.9,756.6 3219.7,775.6 2367.9,868.4 1632,826.6 1052.8,809.8 1936.1,652.1 2368.2,824.4 3438.5,889.6 2203.8,775.1 2699.7,709.4 2592.9,871.8 2247,837.2 1200.7,786.8 2692.6,694.1 2325,838.3 2178.1,807.4 2154.7,833.5 2329.4,788.5 2419.5,814.4 418.3,767 864.2,707 2306.1,750.2 812,828.9 2490.3,717.1 438.5,818.1 1303.2,783 2134.4,786.9 340.8,761.9 434,703.1 1999.7,733.7 3486.5,870.1 2962.9,819.4 1098.8,827.9 1070.4,782.5 2904.7,839 3550.1,887.5 3327.2,793.1 3438.9,846 2579.8,713.3 3393.3,743.7 3455.6,848.5 2402.9,841.4 2105.1,795.7 2945.6,777.4 1965.4,903.4 3471.2,786.6 3447.8,829.4 2689.5,709.8 426.6,812 3124.8,684.7 1074.9,755 1781.5,863.6 2938.1,766.3 3574.7,802.4 3552.2,840.4 3517.7,830 1713.5,808 2824.4,792.1 296.1,842.2 1530.2,732.9 2456.4,783.6 654,766.1 2370.2,821.5 2247.1,833 1416.7,787.1 3094.4,777.3 338.8,778.8 2104.4,794.8 2679.6,825.4 2413.4,851.8 3215.5,856.3 2399.1,732.4 3363,841.3 1925.8,815.6 1854.5,787.3 1168.9,852.3 3058.5,752.9 3562.8,762.6 3051.2,686.4 2258.4,866.9 3477.9,883.2 3411.6,736.4 1778.3,868.9 1299.7,864 3072.4,734.1 1266.7,775.4 3450.3,858.4 2413.8,876.9 3531.2,826.2 1926.8,774.6 336,813 3245,785.2 395.3,870.8 605.5,682.2 3135.8,683.8 987.3,782.5 267.4,800 1868.9,861.4 927.3,699.1 1941.4,876.9 1171.8,694.9 1867.4,867 1773.9,736.8 864.6,774.8 675.4,795.8 825.9,728 713.8,760.1 2256.4,737.7 1531.9,769.9 1869,775.8 1326,734.2 3197.5,806 938.8,669.9 3552.3,801.1 2255.5,874.4 1644.8,786.8 543.8,880.9 1846.9,771.6 1108,877.6 1205.1,794.2 3543.9,778.9 1911.8,769 3516.4,845.9 1014.2,802.6 1249,806.5 2924.3,844.5 1772.9,791.1 3492.8,827.9 1192.9,762 2331.8,806.6 2692.8,814.4 3200.6,754.8 1216.2,811 1067.2,786.6 1775.3,797.6 2261.1,898.1 3515.5,878.2 1208.7,766.1 3506.1,815.2 3171,715.7 2616.7,797.6 692.4,719.5 1869,865.1 2688.9,644.5 3546.5,841.7 2247.4,832.4 3462,820.7 1777.3,822.8 2737.8,785.1 3101.7,810.1 3520.3,787.8 694.6,814.2 3432.4,880.4 2247.2,753.6 1276.5,786.5 3461.3,851.2 2444.9,741.4 1747.1,804.5 3506.3,837.2 2101.6,821.2 3423.5,829.9 262.3,786.1 3546.2,858.9 1295.5,833 327.2,858.9 2181.4,802.8 2150.4,711.7 3311.3,827.6 1302.3,865.9 3073,727.6 3403.6,734.5 1593.4,782.6 1967.3,830.8 3449.2,863.3 630.9,756.7 1046.7,808.1 1477.5,734.8 2779.2,893.3 2421.6,650 2371.8,871.8 694.5,805.1 2924.1,857.4 199.9,785.3 1779,864.8 2334.9,702 1128.9,840.4 3363.3,871.9 2538.2,853 2487.1,673.7 2631.4,847.5 1168.6,759.3 1580,776.2 889.5,816 2468.7,798.7 3537.3,778.4 2735.4,821.6 2537.3,711.7 3438.9,898.3 3438.9,872.4 3470.1,895 3545.2,891.4 3549.3,823.1 2799.7,770.1 1294.6,780.1 575.1,790.8 1008.8,784.8 2743.3,696.1 2540.6,646.4 327.4,808.4 1922.1,824.6 2131.3,758.2 3452.8,762.2 2592,891 1995.8,722.2 3097.4,740.6 2452.7,841.4 1426,816.6 2337.2,777.2 2452.8,828.4 3568.5,782.6 548,840.3 1621.5,832.3 3276.6,811.7 2259.8,910.7 2679.8,828.4 1273.4,854.6 1488.8,866.6 3472.3,770.7 3199.8,780 640.9,835.8 1864.8,812.6 165.4,808.4 2486.4,802.7 1278.2,885.4 426.7,722.5 2414.4,826.3 1273,857.3 2604.2,825.8 1299.9,853.6 2274.9,798.7 1114.8,707.9 549.9,885.8 180.7,772.2 3147,721.6 1459.2,743.5 1937.6,852.9 543.5,896.4 1566.6,741.1 3117.1,854.1 3545.5,882 2902.3,792.9 2537.5,830.7 1769.3,812.1 297.9,852.9 3392.5,782.2 1633.5,693.1 2904,823.5 1069.6,800.9 3495,904.4 383.2,754.6 547.2,877.3 2552.9,844.3 862.9,786.5 2585.7,818.7 2966.9,779.2 2232.6,768.7 552.4,826.6 1674.3,815.9 2184.8,794.6 1422,876.9 407.2,771.8 734.1,736.1 3281.3,723 3461.1,843.8 1259.6,780.2 3439.9,801.6 2137.1,782.5 3063.3,848.8 1424.2,838.5 1940.7,881.2 1054.3,756.1 3431.2,804.6 975.6,780.9 1127.9,696 3340.6,750.5 163.6,810.6 2316.6,794.1 1415.9,852.1 3518.3,681.7 1120.4,775.5 936.8,797.4 3433.7,854.2 3454.1,848.7 2260,902.2 3539.3,889 1138.6,822.3 3063.7,858.9 663.7,747.4 550.1,885.2 368.1,775.4 641.6,839.8 546.5,890.6 3438.8,872.9 1745.5,828.1 3488.4,855.4 1775.6,700.6 2403.2,866.2 3573.2,810.6 2607.6,752.2 3100,754.9 2686,734.8 976.2,820.7 2675.8,812 381.5,708.7 218.1,778.7 2656.9,808.9 2119.9,773.9 3107.1,674.7 3448,865.4 1128.3,836.9 1869.8,794.8 3486,787.8 2370.9,873.2 2130.3,753.2 608.5,780.1 2246.5,759.7 1009.1,735.2 2604.2,802.7 2449.2,860.1 3309.4,876.1 2791.1,799 905.3,799.2 2775.3,847.3 2183.4,836.8 2337.9,833 3436.6,886 1098.1,795.7 3551.3,822.5 2345.8,724.3 452.1,650.5 167.2,781.2 946.3,841.5 3478.7,892.3 3436,906.9 2091.2,779.2 3104.3,778.7 887.8,797 3491.2,836.6 3572,841.7 3477.1,849.6 420.4,801.6 2590.7,885.2 2257.2,888.6 2258,906.2 897.3,810.5 3467.9,890.3 2046.3,752.1 2777.1,796.3 3029.1,793.6 2778.1,888 2377.2,796.5 3513.9,754.4 1622.7,846.9 3552.1,769.9 2162.6,718 3544.6,878.5 821.2,761.5 3126.3,808.7 465.4,745.3 298.8,896.4 2266.3,885.9 551.8,886.9 3152,817.1 2726.7,773.3 3537.2,795.5 1922.6,802.9 2423.8,764 443.5,740 3471,833.7 2325.5,836.3 1188.8,666.8 3447.5,895.9 895.5,852 2408.1,740.3 2527.6,801 3437.7,909.9 237.2,766.6 2979.7,752.9 3525.2,860.5 1618.9,772.2 2383.6,669.7 2138.4,749.2 3218.8,775 3471.2,858.3 2780.7,776.3 1941.2,855.5 1293,824.6 2523.5,886.5 642.8,855 797.1,759.2 470.7,686.3 2084.6,697.9 1999,666.3 1490.7,817.9 3434.5,903.5 3140.9,752.8 2709.9,758.6 1968.8,819.3 3495.8,844.6 1938.4,801.9 355.3,684.6 3505.8,855.9 2920.4,865.2 540.5,836.6 3538.3,796.8 2358.7,775.2 1717.5,786.7 2470.5,836.3 1397.7,767.3 1154.5,733.3 2007.6,697.4 3249.5,777.6 3513.3,844.5 2320.1,730.4 1613.4,829.5 3547.4,900 1207.8,726.2 541,718.9 3099.8,725.6 2001.7,764.1 1967.4,893.1 580.3,737.9 3023.9,808.9 2628.7,735.5 696.6,775.8 1611.3,843.5 1615.3,869.6 625.6,709.6 2223.9,730.6 3419.5,805 3224,796.4 1426,833.8 2463,755.4 280.9,726.7 3440.6,833.9 3466.5,720.6 3098.2,704.6 1426.1,872.1 1427,847.4 2156.1,763.5 1677.8,802.8 3532.1,849 1775.1,888.5 3433.6,894.3 3386.8,717.6 1580.9,782.2 2618.2,798.1 1465.3,720.5 165.2,718.9 2385.1,775.3 2256.3,873.9 547.5,882.5 2933.4,708.4 1564.8,797.4 2591.7,889.9 3501.1,804.8 929.4,711.2 2806.6,781.8 3521.8,868.4 2234.8,798.4 2601.5,880.3 2113.1,807.2 2036.1,721 2730.4,795 621.8,635.7 3028.2,690.6 2162.7,804.7 3568.5,827.5 2265.1,836 3496.3,904.4 295.7,808.1 3362.8,860.7 2166.4,784 2323.6,797.2 852.6,668.3 424.9,828.9 2800.7,751.1 2655.6,776.8 1833.6,739 1422.1,888.3 1500.9,730.1 2775.9,856.5 1099.5,873.1 2271.2,785.4 3476.9,895.2 1045.2,771.4 3073.7,739.8 623.8,773.4 2777.9,827.1 1136.4,817 1299,814.5 447.8,762.4 3540.2,822.6 1740.1,705.2 2264.3,881.5 2968.7,818.7 3534.9,829 1598.6,814 977.9,790.8 2402,766.4 2171.1,761.2 3437.6,900.7 2403.7,694.5 1373,689 3566.5,818.4 937.8,690.2 3486.7,874.1 2367,815.6 1493.6,801.6 1965.5,911.5 2792.2,790.2 2733,791.4 1515.4,697.8 2790.6,856.4 607,793.4 2901.8,784.3 1268.7,795 263.9,776.5 3545.5,827.2 2213.9,726.7 1871.8,731.3 2586.1,735.5 2775,900.4 2137,807.4 2081.9,738.5 3468.6,872.5 2592.4,855.9 1813.5,851.8 755,748.8 3144.5,789.6 2592.1,850.8 1676.1,797 2599.6,819.4 2526,819.5 3220.9,727.5 1940.9,834.8 2594.7,847.5 3498.5,665.4 1776.3,669.2 800.7,768.6 2389.5,801.2 2138.2,817.4 3439.9,833.8 1577.3,736.8 3195.4,801.6 267.5,772.6 1968.4,856.5 1711.9,772.9 2263.4,874 2901.9,801.8 2612,692.7 2035.1,741.5 2687.2,771.2 1764.5,826.5 440.6,816.2 3407.9,851.5 2230.8,772.8 2412.8,845.8 2751.1,808.8 3558.7,705.4 2602.4,872.1 2103.3,838.7 3478.5,906.4 2155.1,841.1 1862,791.2 1860.9,783 2971.8,792.5 1687.4,764.2 1252.8,738.1 3470.7,823.6 260.4,806.5 2187,796.4 3405.5,772.8 2385.5,776.7 1112.2,861.2 3498.4,847.5 283.7,759.4 3488.8,847.3 2258.3,891.5 2377.3,800.8 1042.8,789.5 416.5,721.7 1082,672.4 1776.3,866.1 1494.4,819.2 337.7,813.9 3430.9,739.3 810.4,825 823.9,812.3 2791.9,873.6 863.7,775.2 1042.7,773.5 1765.4,805.9 3567.9,765.5 3367.4,819.3 2244.5,782.3 1424.2,837.4 3496.5,873.4 551.3,807.9 2360.9,766.8 3021.2,659.2 3391.9,733 2599.3,818.6 1247.5,744.2 2210.6,767.9 2364.7,798.3 544,864.1 640.5,852.4 2415.1,876.4 977,776.7 3307.3,878.3 1273.6,841.9 2618.6,765.5 3479.1,903.7 3520.4,844.4 1561.6,785.9 2315.7,767.4 2924.1,869.9 3375,793.7 2382.6,844.4 165.1,814.5 3307.4,885.2 3438.1,884.5 2590.9,863.6 2549.5,812.9 3313.7,636.2 2999,767.5 1813.2,839.1 1973.6,843.8 1298.4,862.8 2260.4,867.4 2137.2,857.3 1299.4,808.9 547,791.6 3116.2,826.1 1881.4,778.1 3548.8,792.3 2338.5,770 2966.5,786.3 2553.6,861.4 1181.8,728.9 2596.1,816 3282.5,790.2 3472.1,794.5 1495.4,798.3 2089.7,799.2 3495.4,858.1 3468.9,902.6 2858.6,748.1 2237.3,823.7 3214.4,850.3 2183.8,807.2 1302.1,874.8 3092.3,679.9 1244.8,827.7 422.2,775.5 3159.9,661.9 3487.1,846.9 528.7,726.5 1129,861.8 2265.4,888.3 3468.2,832.4 1827.5,811 1396.5,750.4 3439.8,855.5 2749.2,761.7 1493.6,840.5 2108.1,771.8 1276.7,836.8 428.6,730.5 2568.6,775.7 2789.4,870.5 1172.1,847.1 3533.3,871.2 298.7,864.6 3272.4,787.8 1633.5,824.9 3545.9,814.9 1720.4,792.7 977.1,810.5 2331.9,797.5 1938.6,883.3 1103.1,857.9 2447,860.3 1627.4,791 2727.6,764.7 1010.5,692 2373.7,809.8 3032.2,702 2167,799.1 2402.8,864.2 2631.5,820.7 2482.1,776.2 1171.9,837.4 1029.5,747.1 1966,897.3 441.1,800.4 888.7,870.2 1936.9,808.5 3488,836.7 641.6,852.1 2948.3,705 3490.2,757.7 2265,857.8 2941.3,803.7 3436.3,910.2 3249.3,753.8 2951.4,659.6 417.3,783.1 3490.3,741.1 3215.4,851.5 2536.5,784.1 2200.1,710.5 2487.1,771.8 550.2,842.2 1748.4,799.8 537.7,689.2 2255.7,824.5 1783.9,725.3 1614,884.4 629,781.8 2673.3,774.9 3483.7,799.9 946.5,789.3 1785,770.9 2683.5,816.4 2556.9,788.6 364.9,738.5 826.1,796.2 3367.4,796.7 2557.8,799.9 936.6,800.6 2872.6,787.8 1581.8,744.4 646.2,808.2 2450.5,763.1 2448.8,844.5 2077.8,783.2 1429.1,758.2 1973.3,844.8 1614.6,854.1 3036.4,791 2537,784 1417,858.7 2737.5,733.8 1275.6,854.9 261.5,691.5 2903.9,870.8 3529.1,807.8 2598,856.2 3460.3,792.2 2134.7,792.1 1158,757.2 3456.4,790.6 3083.4,751.4 298.5,791.2 1115.8,798.9 3284.2,836.4 2093.5,755 3525.2,677.3 333.9,728.6 291.5,746.9 406.9,766 2014.2,761.9 841.2,789.1 3523.2,846.3 3193.5,696.5 1761.4,822.1 2902.8,741.3 3175,755.1 1272.9,859.3 3490.2,818.9 3478.7,900.5 541.9,820.3 2775.6,856.2 3434.8,908 2246.8,760.6 779.1,741.5 3488.9,855.5 423.5,806.5 2314.4,742.7 3451.8,834.8 545.5,712.6 3246.2,817.8 1692.5,712.9 1318.8,703.3 2552.6,869.2 269.3,731 3040,719.3 3478.3,780.5 1713.8,794.9 2162.5,749.7 448.4,798.1 3466.2,793.5 1755.6,770.5 2627.2,747.7 3150.1,823.3 2548.8,800.4 2403.9,817.1 2800,750 2592,844.4 2451.1,871.5 1287.5,780.4 542.1,799.3 2257.4,907 3214.2,799.7 1298.9,849.9 1713,812 1345.9,790.2 3220.8,745.1 2261.1,814.2 217.5,771.2 674.3,813.8 3324.9,771.5 2315.2,784.8 2550,647.9 192.4,765.4 3390.6,791.9 731.2,401.5 1708,491.8 2157,490.7 328.9,610 715.3,539.8 828.7,541.8 875.1,567.5 929.3,570.4 737.8,636.8 1072.7,558.2 1240.4,625.6 1409.5,598.4 1409.5,615.8 1409.5,624.6 1409.5,631.6 1695.7,566.9 2209.6,583.7 2573.6,601.5 2157.9,633.3 3155.7,634 3273.4,604.7 3265.4,612 3314.7,478.9 3318.9,550.5 3314.7,573.2 3396.8,592.1 3518,640"/>
<path fill="#999" d="M156.5 1115.0V865H158.5V862H159.5V861H161.5V860H162.5V845H163.5V823H168.5V807H169.5V808H171.5V809H174.5V808H177.5V779H180.5V783H185.5V810H188.5V786H191.5V785H196.5V786H197.5V789H198.5V790H199.5V791H200.5V810H202.5V811H203.5V814H206.5V781H210.5V780H211.5V779H216.5V780H217.5V787H221.5V786H222.5V776H223.5V732H228.5V733H229.5V791H230.5V792H231.5V804H232.5V805H234.5V806H235.5V811H236.5V814H239.5V808H240.5V807H241.5V771H242.5V770H243.5V759H250.5V779H251.5V788H252.5V793H256.5V824H260.5V820H261.5V807H265.5V806H271.5V779H272.5V777H273.5V722H278.5V733H279.5V789H285.5V802H291.5V818H294.5V851H295.5V862H296.5V879H297.5V904H298.5V917H299.5V947H300.5V952H301.5V1002H302.5V1026H303.5V1051H304.5V1075H305.5V1100H307.5V1115.0Q307.5 1122.0 300.5 1122.0H163.5Q156.5 1122.0 156.5 1115.0ZM318.5 1115.0V1109H320.5V1027H321.5V945H322.5V880H323.5V877H324.5V876H325.5V875H328.5V822H329.5V802H330.5V722H332.5V758H334.5V836H337.5V817H340.5V826H343.5V816H348.5V807H349.5V788H350.5V789H355.5V753H356.5V744H357.5V743H360.5V742H361.5V736H362.5V759H363.5V788H366.5V787H369.5V786H370.5V770H371.5V782H374.5V781H376.5V765H377.5V764H382.5V765H383.5V767H387.5V766H388.5V797H391.5V856H392.5V881H395.5V874H396.5V873H397.5V859H402.5V779H403.5V780H406.5V779H408.5V756H409.5V757H410.5V764H411.5V775H412.5V776H414.5V812H419.5V813H420.5V841H421.5V865H426.5V825H427.5V816H430.5V772H433.5V773H436.5V867H437.5V868H441.5V851H442.5V850H443.5V816H449.5V785H450.5V784H454.5V809H455.5V810H458.5V805H459.5V780H464.5V775H465.5V774H470.5V775H471.5V786H474.5V795H480.5V738H481.5V739H485.5V738H486.5V728H487.5V727H488.5V722H489.5V721H492.5V749H493.5V779H494.5V780H495.5V802H497.5V803H498.5V804H499.5V806H503.5V804H504.5V803H506.5V832H509.5V783H511.5V780H512.5V737H513.5V755H515.5V756H518.5V770H519.5V771H520.5V772H521.5V807H528.5V808H529.5V811H530.5V814H536.5V789H537.5V800H538.5V802H539.5V882H542.5V905H543.5V910H548.5V898H551.5V894H552.5V891H553.5V787H556.5V786H567.5V801H568.5V802H572.5V837H575.5V824H576.5V814H581.5V811H582.5V800H583.5V791H584.5V796H587.5V795H588.5V793H589.5V792H590.5V763H592.5V760H593.5V759H594.5V788H597.5V787H598.5V800H599.5V802H601.5V821H602.5V822H605.5V821H606.5V797H607.5V796H610.5V795H612.5V794H614.5V737H616.5V736H617.5V727H618.5V760H619.5V802H622.5V789H629.5V797H633.5V842H635.5V864H638.5V863H641.5V862H643.5V837H647.5V809H648.5V783H656.5V782H658.5V819H661.5V802H664.5V801H665.5V784H666.5V793H667.5V794H671.5V814H672.5V815H673.5V816H684.5V815H685.5V814H686.5V797H687.5V803H691.5V794H693.5V814H694.5V859H697.5V853H698.5V832H699.5V801H701.5V798H702.5V783H705.5V782H706.5V764H711.5V774H713.5V775H716.5V773H717.5V772H718.5V793H719.5V794H722.5V793H723.5V801H727.5V789H730.5V798H733.5V797H734.5V786H735.5V781H736.5V771H738.5V772H739.5V773H742.5V772H744.5V769H745.5V768H747.5V724H750.5V737H751.5V805H754.5V777H759.5V778H760.5V781H761.5V804H762.5V805H763.5V806H770.5V805H771.5V804H773.5V787H774.5V788H775.5V794H778.5V791H779.5V756H780.5V755H785.5V756H786.5V765H787.5V777H792.5V778H793.5V812H796.5V801H798.5V798H799.5V797H804.5V807H805.5V809H806.5V831H809.5V865H811.5V866H814.5V785H819.5V786H820.5V821H821.5V822H825.5V813H826.5V799H827.5V776H828.5V775H837.5V776H838.5V783H839.5V796H840.5V797H846.5V798H847.5V800H848.5V809H849.5V819H852.5V797H853.5V771H854.5V772H855.5V774H856.5V775H859.5V814H865.5V815H870.5V805H874.5V806H877.5V789H878.5V798H881.5V782H884.5V814H885.5V862H886.5V873H890.5V861H893.5V855H897.5V768H899.5V769H900.5V804H903.5V805H906.5V800H907.5V799H912.5V800H913.5V803H914.5V804H915.5V805H916.5V812H917.5V813H919.5V832H922.5V787H925.5V788H926.5V790H927.5V791H928.5V798H934.5V797H935.5V794H936.5V803H941.5V804H942.5V816H944.5V847H947.5V815H948.5V814H950.5V779H953.5V780H954.5V826H955.5V827H961.5V819H962.5V794H967.5V779H973.5V780H974.5V804H975.5V842H978.5V786H979.5V844H982.5V825H990.5V801H992.5V802H993.5V807H996.5V808H997.5V810H998.5V820H999.5V821H1002.5V807H1003.5V806H1008.5V820H1009.5V825H1013.5V824H1014.5V821H1015.5V820H1020.5V818H1021.5V794H1022.5V814H1027.5V815H1028.5V816H1035.5V817H1036.5V818H1043.5V827H1046.5V834H1047.5V837H1054.5V838H1057.5V822H1058.5V806H1061.5V801H1062.5V769H1063.5V821H1069.5V816H1070.5V832H1073.5V798H1075.5V782H1076.5V763H1081.5V764H1082.5V808H1085.5V790H1087.5V770H1089.5V780H1094.5V811H1095.5V812H1096.5V882H1097.5V883H1100.5V881H1101.5V880H1106.5V798H1107.5V883H1112.5V815H1113.5V855H1116.5V815H1117.5V795H1118.5V792H1119.5V791H1124.5V871H1129.5V799H1130.5V798H1131.5V797H1133.5V830H1136.5V831H1139.5V830H1140.5V758H1143.5V759H1144.5V809H1147.5V792H1148.5V786H1149.5V725H1151.5V768H1154.5V769H1155.5V772H1158.5V766H1159.5V765H1162.5V731H1163.5V730H1164.5V775H1165.5V776H1167.5V868H1168.5V869H1172.5V794H1173.5V792H1174.5V808H1175.5V851H1178.5V775H1182.5V776H1183.5V783H1184.5V784H1188.5V778H1189.5V777H1192.5V776H1193.5V773H1194.5V772H1197.5V797H1199.5V798H1200.5V801H1201.5V803H1202.5V814H1205.5V787H1207.5V788H1208.5V790H1209.5V791H1210.5V799H1211.5V800H1212.5V847H1214.5V848H1217.5V826H1218.5V781H1219.5V782H1222.5V770H1223.5V772H1224.5V773H1227.5V772H1230.5V771H1236.5V804H1240.5V803H1243.5V830H1244.5V836H1247.5V817H1250.5V816H1251.5V793H1254.5V794H1256.5V795H1257.5V798H1258.5V799H1259.5V800H1260.5V806H1263.5V805H1268.5V806H1269.5V811H1270.5V843H1271.5V863H1272.5V864H1273.5V890H1278.5V861H1279.5V811H1281.5V761H1282.5V742H1283.5V792H1284.5V797H1290.5V794H1291.5V830H1293.5V868H1298.5V867H1299.5V879H1302.5V864H1303.5V813H1304.5V810H1305.5V809H1310.5V810H1312.5V811H1315.5V812H1318.5V811H1319.5V810H1320.5V778H1321.5V773H1322.5V772H1326.5V797H1329.5V794H1330.5V777H1331.5V812H1334.5V809H1335.5V808H1337.5V719H1341.5V747H1345.5V802H1350.5V803H1352.5V812H1353.5V814H1356.5V789H1357.5V749H1358.5V739H1359.5V733H1360.5V772H1363.5V773H1364.5V785H1365.5V787H1368.5V767H1369.5V751H1372.5V761H1375.5V772H1377.5V773H1378.5V792H1379.5V794H1380.5V795H1381.5V797H1384.5V774H1387.5V773H1388.5V755H1389.5V761H1394.5V746H1395.5V781H1401.5V778H1407.5V779H1408.5V780H1409.5V781H1413.5V759H1414.5V808H1415.5V880H1416.5V883H1418.5V889H1420.5V900H1423.5V886H1426.5V883H1427.5V881H1428.5V788H1429.5V794H1434.5V795H1437.5V796H1438.5V797H1441.5V803H1443.5V804H1446.5V759H1448.5V748H1449.5V739H1453.5V808H1454.5V809H1457.5V808H1458.5V807H1459.5V767H1460.5V786H1461.5V789H1464.5V799H1465.5V813H1473.5V816H1476.5V794H1478.5V793H1479.5V792H1486.5V877H1490.5V840H1491.5V843H1494.5V812H1495.5V811H1498.5V810H1499.5V808H1500.5V805H1501.5V792H1503.5V791H1504.5V790H1507.5V789H1508.5V786H1509.5V761H1510.5V738H1513.5V739H1514.5V779H1515.5V780H1516.5V785H1517.5V814H1518.5V823H1525.5V814H1526.5V813H1529.5V779H1530.5V780H1531.5V804H1532.5V806H1535.5V805H1536.5V762H1537.5V835H1540.5V834H1541.5V833H1546.5V831H1547.5V785H1548.5V784H1553.5V793H1556.5V788H1557.5V783H1558.5V782H1559.5V776H1560.5V799H1561.5V808H1562.5V809H1565.5V810H1570.5V776H1572.5V809H1573.5V823H1576.5V822H1579.5V821H1580.5V808H1582.5V786H1585.5V787H1586.5V789H1589.5V790H1590.5V795H1593.5V792H1594.5V813H1595.5V815H1597.5V816H1598.5V817H1602.5V823H1605.5V791H1608.5V792H1609.5V881H1610.5V882H1611.5V884H1613.5V889H1614.5V893H1615.5V895H1618.5V876H1619.5V875H1620.5V851H1621.5V850H1623.5V799H1627.5V833H1631.5V831H1632.5V830H1634.5V754H1635.5V753H1636.5V751H1637.5V707H1639.5V708H1640.5V803H1641.5V819H1644.5V818H1645.5V808H1648.5V809H1649.5V814H1652.5V807H1653.5V752H1654.5V727H1656.5V705H1658.5V704H1659.5V752H1660.5V754H1661.5V755H1662.5V760H1663.5V761H1664.5V802H1665.5V803H1668.5V802H1669.5V792H1672.5V787H1673.5V818H1676.5V847H1680.5V818H1683.5V816H1684.5V800H1686.5V799H1687.5V790H1688.5V766H1689.5V765H1694.5V766H1695.5V768H1698.5V762H1699.5V761H1700.5V747H1703.5V746H1705.5V826H1709.5V825H1711.5V822H1712.5V821H1717.5V822H1718.5V825H1719.5V827H1722.5V824H1723.5V823H1724.5V794H1725.5V793H1730.5V794H1731.5V812H1732.5V813H1735.5V811H1736.5V810H1741.5V801H1742.5V817H1744.5V851H1749.5V817H1750.5V794H1751.5V795H1752.5V800H1757.5V810H1759.5V844H1760.5V845H1763.5V846H1766.5V816H1767.5V815H1771.5V825H1773.5V883H1774.5V894H1777.5V883H1778.5V881H1779.5V810H1781.5V871H1784.5V806H1785.5V805H1790.5V804H1791.5V781H1794.5V790H1795.5V791H1796.5V797H1799.5V766H1801.5V764H1802.5V774H1803.5V777H1804.5V779H1805.5V806H1806.5V809H1809.5V808H1810.5V865H1811.5V867H1814.5V807H1815.5V808H1818.5V807H1819.5V795H1822.5V794H1823.5V793H1826.5V877H1829.5V782H1832.5V783H1833.5V784H1834.5V815H1837.5V814H1844.5V811H1845.5V805H1846.5V804H1848.5V775H1850.5V783H1851.5V866H1854.5V829H1855.5V830H1861.5V831H1862.5V834H1863.5V835H1866.5V871H1869.5V798H1870.5V770H1875.5V771H1877.5V802H1882.5V800H1883.5V761H1885.5V762H1886.5V775H1889.5V776H1890.5V779H1891.5V781H1892.5V782H1898.5V768H1900.5V765H1906.5V766H1907.5V769H1908.5V770H1909.5V801H1910.5V802H1913.5V815H1916.5V767H1920.5V846H1923.5V824H1924.5V826H1927.5V825H1928.5V814H1929.5V813H1932.5V802H1933.5V803H1935.5V848H1937.5V900H1938.5V911H1939.5V936H1940.5V940H1941.5V941H1942.5V1011H1943.5V1036H1944.5V1061H1945.5V1085H1946.5V1110H1947.5V1115H1949.5V1115.0Q1949.5 1122.0 1942.5 1122.0H325.5Q318.5 1122.0 318.5 1115.0ZM1956.5 1115.0V1115H1958.5V1112H1959.5V1089H1960.5V1064H1961.5V1039H1962.5V1014H1963.5V989H1964.5V964H1965.5V939H1966.5V914H1967.5V889H1968.5V886H1969.5V885H1971.5V852H1974.5V851H1975.5V841H1976.5V817H1977.5V801H1980.5V793H1981.5V792H1986.5V793H1987.5V796H1993.5V797H1996.5V788H1998.5V807H2001.5V788H2002.5V765H2003.5V784H2007.5V794H2008.5V796H2009.5V803H2010.5V833H2011.5V844H2014.5V841H2015.5V787H2017.5V766H2018.5V733H2021.5V750H2023.5V785H2027.5V744H2028.5V743H2029.5V733H2033.5V741H2034.5V796H2037.5V760H2038.5V784H2041.5V774H2042.5V791H2045.5V793H2046.5V794H2049.5V780H2051.5V781H2052.5V792H2055.5V793H2056.5V820H2059.5V800H2060.5V799H2063.5V780H2064.5V752H2066.5V751H2067.5V738H2072.5V751H2073.5V790H2074.5V797H2077.5V796H2078.5V795H2081.5V757H2082.5V756H2087.5V824H2088.5V831H2091.5V830H2092.5V792H2093.5V783H2098.5V792H2099.5V858H2101.5V859H2104.5V824H2106.5V813H2113.5V825H2116.5V801H2119.5V790H2120.5V789H2125.5V790H2128.5V788H2129.5V777H2130.5V778H2131.5V799H2135.5V886H2138.5V774H2141.5V775H2142.5V785H2146.5V796H2147.5V797H2148.5V800H2153.5V839H2154.5V857H2155.5V859H2160.5V857H2161.5V841H2162.5V839H2163.5V838H2166.5V819H2172.5V817H2178.5V818H2179.5V853H2182.5V839H2185.5V807H2186.5V799H2187.5V772H2192.5V798H2195.5V760H2200.5V798H2206.5V799H2207.5V800H2210.5V799H2212.5V813H2213.5V818H2216.5V839H2219.5V838H2220.5V819H2221.5V810H2224.5V800H2225.5V793H2226.5V781H2232.5V814H2233.5V835H2237.5V814H2240.5V813H2241.5V851H2246.5V852H2247.5V855H2248.5V856H2249.5V871H2252.5V858H2253.5V893H2254.5V899H2255.5V907H2256.5V915H2258.5V918H2261.5V910H2262.5V904H2263.5V899H2264.5V896H2265.5V893H2266.5V857H2267.5V841H2268.5V811H2269.5V813H2271.5V814H2272.5V816H2277.5V789H2278.5V788H2283.5V789H2284.5V809H2285.5V810H2286.5V811H2287.5V816H2292.5V790H2293.5V823H2296.5V820H2297.5V748H2299.5V745H2300.5V809H2303.5V708H2304.5V707H2305.5V799H2309.5V768H2310.5V817H2314.5V814H2315.5V813H2324.5V860H2328.5V844H2333.5V845H2338.5V846H2341.5V845H2342.5V821H2343.5V798H2350.5V799H2351.5V838H2354.5V800H2357.5V794H2358.5V793H2361.5V829H2367.5V885H2370.5V876H2372.5V824H2373.5V818H2374.5V811H2375.5V835H2376.5V836H2377.5V837H2378.5V839H2379.5V840H2381.5V853H2382.5V854H2384.5V855H2387.5V819H2392.5V812H2393.5V825H2400.5V826H2401.5V882H2404.5V776H2408.5V807H2412.5V880H2415.5V850H2418.5V819H2423.5V818H2424.5V787H2426.5V796H2430.5V770H2431.5V769H2433.5V784H2434.5V787H2435.5V788H2436.5V789H2437.5V806H2438.5V808H2443.5V803H2444.5V802H2445.5V824H2446.5V879H2451.5V878H2453.5V850H2454.5V817H2457.5V801H2466.5V802H2468.5V852H2471.5V802H2472.5V801H2474.5V799H2475.5V798H2476.5V791H2477.5V790H2479.5V789H2481.5V809H2483.5V821H2484.5V830H2488.5V825H2489.5V824H2492.5V800H2493.5V795H2494.5V794H2496.5V843H2500.5V875H2501.5V876H2502.5V883H2503.5V884H2504.5V887H2505.5V948H2506.5V1019H2507.5V1080H2508.5V1115H2510.5V1115.0Q2510.5 1122.0 2503.5 1122.0H1963.5Q1956.5 1122.0 1956.5 1115.0ZM2514.5 1115.0V1115H2516.5V1104H2517.5V1069H2518.5V1034H2519.5V998H2520.5V963H2521.5V928H2522.5V893H2523.5V890H2524.5V889H2525.5V865H2526.5V864H2527.5V835H2528.5V786H2533.5V787H2534.5V788H2535.5V864H2540.5V845H2541.5V812H2542.5V827H2543.5V855H2547.5V852H2549.5V867H2550.5V873H2553.5V871H2554.5V858H2557.5V855H2558.5V793H2560.5V792H2561.5V791H2564.5V790H2566.5V800H2571.5V816H2572.5V817H2575.5V818H2576.5V821H2577.5V822H2586.5V806H2588.5V785H2590.5V897H2595.5V826H2596.5V875H2597.5V876H2600.5V779H2601.5V891H2604.5V783H2606.5V782H2607.5V791H2613.5V810H2619.5V798H2620.5V775H2625.5V830H2626.5V831H2628.5V852H2629.5V854H2630.5V880H2632.5V888H2633.5V891H2634.5V897H2635.5V959H2636.5V1021H2637.5V1082H2639.5V1115.0Q2639.5 1122.0 2632.5 1122.0H2521.5Q2514.5 1122.0 2514.5 1115.0ZM2644.5 1115.0V1115H2646.5V1068H2647.5V1018H2648.5V969H2649.5V919H2650.5V884H2651.5V881H2652.5V880H2653.5V876H2654.5V860H2656.5V857H2657.5V781H2658.5V780H2659.5V743H2662.5V752H2664.5V768H2665.5V770H2666.5V822H2669.5V798H2672.5V793H2673.5V832H2675.5V833H2678.5V834H2679.5V835H2682.5V824H2683.5V815H2684.5V814H2685.5V809H2686.5V808H2687.5V753H2689.5V844H2693.5V768H2694.5V715H2695.5V714H2698.5V743H2699.5V746H2700.5V748H2701.5V789H2703.5V847H2708.5V790H2713.5V789H2714.5V788H2715.5V787H2718.5V784H2719.5V783H2721.5V796H2722.5V797H2724.5V810H2725.5V811H2729.5V821H2730.5V822H2733.5V823H2734.5V831H2735.5V833H2738.5V832H2741.5V807H2743.5V806H2748.5V830H2749.5V858H2750.5V890H2751.5V891H2752.5V894H2753.5V928H2754.5V977H2755.5V1017H2756.5V1059H2757.5V1101H2758.5V1115H2760.5V1115.0Q2760.5 1122.0 2753.5 1122.0H2651.5Q2644.5 1122.0 2644.5 1115.0ZM2766.5 1115.0V1115H2768.5V1112H2769.5V1088H2770.5V1057H2771.5V1026H2772.5V995H2773.5V963H2774.5V932H2775.5V901H2776.5V898H2777.5V897H2778.5V896H2780.5V835H2781.5V834H2783.5V828H2784.5V829H2788.5V885H2795.5V832H2796.5V831H2797.5V830H2800.5V829H2802.5V792H2804.5V801H2808.5V749H2809.5V748H2811.5V747H2812.5V768H2815.5V803H2819.5V800H2820.5V815H2821.5V816H2825.5V810H2826.5V795H2827.5V784H2830.5V785H2832.5V812H2833.5V813H2834.5V814H2836.5V815H2837.5V857H2840.5V846H2843.5V843H2844.5V839H2845.5V783H2846.5V784H2847.5V790H2850.5V787H2851.5V756H2852.5V775H2856.5V772H2857.5V771H2860.5V770H2861.5V769H2864.5V760H2865.5V714H2866.5V713H2868.5V804H2870.5V805H2871.5V806H2872.5V807H2875.5V808H2876.5V809H2882.5V810H2883.5V812H2884.5V813H2885.5V816H2886.5V818H2891.5V804H2899.5V836H2900.5V864H2903.5V873H2905.5V874H2906.5V877H2907.5V887H2908.5V918H2909.5V949H2910.5V980H2911.5V986H2914.5V956H2915.5V926H2916.5V896H2917.5V888H2918.5V885H2919.5V884H2920.5V883H2925.5V801H2927.5V764H2929.5V762H2930.5V761H2931.5V790H2932.5V795H2935.5V796H2936.5V798H2938.5V812H2940.5V813H2943.5V811H2944.5V780H2945.5V781H2946.5V782H2949.5V721H2950.5V752H2951.5V753H2955.5V801H2960.5V839H2964.5V794H2966.5V820H2967.5V833H2971.5V808H2973.5V807H2975.5V801H2976.5V792H2984.5V782H2987.5V806H2993.5V807H2997.5V795H2999.5V794H3000.5V745H3001.5V744H3004.5V765H3005.5V766H3006.5V767H3007.5V806H3011.5V802H3015.5V769H3016.5V770H3017.5V777H3019.5V778H3020.5V784H3022.5V785H3023.5V813H3024.5V816H3025.5V818H3030.5V817H3031.5V816H3038.5V789H3041.5V790H3042.5V793H3044.5V794H3045.5V799H3048.5V774H3049.5V724H3053.5V750H3054.5V774H3055.5V797H3056.5V806H3057.5V817H3058.5V818H3061.5V867H3064.5V798H3065.5V819H3066.5V821H3069.5V797H3072.5V798H3073.5V799H3075.5V819H3078.5V799H3079.5V796H3080.5V829H3083.5V794H3085.5V756H3086.5V737H3089.5V736H3090.5V820H3091.5V821H3092.5V823H3095.5V822H3096.5V817H3097.5V816H3102.5V817H3105.5V818H3109.5V787H3112.5V862H3116.5V861H3117.5V728H3120.5V729H3121.5V837H3124.5V835H3125.5V834H3128.5V823H3130.5V799H3131.5V802H3132.5V803H3138.5V804H3140.5V805H3142.5V815H3148.5V828H3150.5V865H3153.5V805H3156.5V803H3157.5V792H3159.5V791H3162.5V767H3164.5V768H3167.5V766H3168.5V765H3169.5V779H3170.5V780H3173.5V781H3177.5V792H3180.5V793H3181.5V796H3184.5V763H3185.5V762H3190.5V763H3191.5V826H3193.5V827H3197.5V809H3202.5V712H3203.5V723H3204.5V764H3210.5V777H3211.5V804H3213.5V867H3218.5V866H3220.5V862H3221.5V838H3227.5V797H3230.5V789H3231.5V788H3232.5V773H3234.5V772H3235.5V770H3236.5V769H3238.5V779H3241.5V827H3243.5V828H3246.5V826H3247.5V817H3248.5V808H3249.5V810H3252.5V809H3253.5V789H3254.5V788H3255.5V750H3256.5V798H3259.5V812H3260.5V820H3263.5V812H3264.5V795H3273.5V835H3274.5V836H3275.5V837H3278.5V838H3280.5V839H3283.5V840H3284.5V841H3289.5V877H3291.5V878H3292.5V881H3293.5V943H3294.5V1076H3296.5V1115.0Q3296.5 1122.0 3289.5 1122.0H2773.5Q2766.5 1122.0 2766.5 1115.0ZM3299.5 1115.0V1110H3301.5V1069H3302.5V1028H3303.5V987H3304.5V946H3305.5V905H3306.5V892H3307.5V889H3308.5V888H3309.5V849H3311.5V824H3312.5V795H3318.5V799H3319.5V808H3325.5V809H3328.5V794H3333.5V795H3337.5V794H3338.5V778H3340.5V803H3341.5V804H3342.5V811H3343.5V852H3345.5V883H3346.5V899H3347.5V975H3348.5V1057H3350.5V1115.0Q3350.5 1122.0 3343.5 1122.0H3306.5Q3299.5 1122.0 3299.5 1115.0ZM3353.5 1115.0V1115H3355.5V1084H3356.5V1044H3357.5V1003H3358.5V962H3359.5V922H3360.5V881H3361.5V878H3362.5V877H3365.5V864H3366.5V832H3367.5V779H3368.5V755H3369.5V730H3374.5V804H3377.5V785H3378.5V780H3379.5V779H3382.5V792H3383.5V793H3384.5V799H3385.5V800H3389.5V827H3392.5V828H3397.5V826H3398.5V825H3400.5V804H3404.5V802H3405.5V801H3407.5V870H3410.5V784H3411.5V808H3415.5V789H3418.5V788H3419.5V819H3420.5V842H3424.5V803H3425.5V801H3426.5V800H3427.5V852H3428.5V854H3431.5V891H3432.5V903H3434.5V913H3439.5V861H3440.5V860H3442.5V859H3443.5V830H3447.5V899H3450.5V826H3451.5V870H3458.5V869H3459.5V868H3461.5V830H3466.5V831H3467.5V917H3468.5V920H3471.5V883H3472.5V881H3473.5V835H3476.5V912H3479.5V829H3482.5V828H3483.5V825H3484.5V824H3485.5V864H3486.5V881H3489.5V880H3492.5V913H3496.5V881H3499.5V850H3500.5V867H3506.5V818H3507.5V773H3508.5V857H3514.5V858H3515.5V882H3516.5V883H3519.5V884H3522.5V869H3523.5V868H3526.5V815H3527.5V817H3528.5V882H3531.5V881H3532.5V878H3533.5V877H3534.5V863H3535.5V812H3537.5V898H3540.5V822H3541.5V823H3544.5V903H3545.5V904H3548.5V903H3551.5V887H3552.5V825H3553.5V822H3554.5V772H3555.5V782H3562.5V820H3563.5V850H3565.5V851H3566.5V852H3569.5V851H3570.5V850H3571.5V862H3572.5V863H3573.5V864H3574.5V904H3575.5V905H3576.5V908H3577.5V1032H3578.5V1115H3580.5V1115.0Q3580.5 1122.0 3573.5 1122.0H3360.5Q3353.5 1122.0 3353.5 1115.0Z"/>
<polyline class="m" points="1504.8,803.3 176.6,782.6 2256.1,884.6 2590.1,853 1617.7,885.8 3129.7,778.9 2142.9,821.1 2441.6,852.8 2142,850.4 701.6,810 3555.3,891.4 1478.7,798.3 1539.1,789.9 3118.2,840.8 2391.4,761 2450.2,835.2 300.6,989.9 723,717.1 333.5,815.9 2536.8,801 925.8,808.1 2045.4,685.5 450.1,684.7 3153.1,862.6 2319.8,844.5 1220.2,707 379.8,775.4 1019,809.5 3121.2,857.1 521.1,748 3205.7,802.9 444.7,828.4 2397.6,869 1066.7,679.8 1164.1,853.1 357.8,706.3 547.9,849.4 2470.5,730.2 2497,856.2 1883.1,764.9 892.4,757.2 807.4,843.7 1122.3,795 2921,869.6 1818.7,862.5 2229.9,830.3 708,654.6 1283.4,888.1 1167.9,796.6 214.1,784.4 2362.8,874.9 3333.8,799.4 2069.9,728.4 3100.7,738.4 3465.2,853.1 783.4,758.6 1850.4,829.3 526.4,793.7 1829.9,791 2533.2,838.3 3343.7,953.7 670.4,817.9 2108.3,853 2449.5,782.7 759.9,808.3 3083,707.1 1141.2,787.1 2907,970.1 3267.1,788.4 1112.7,849.1 1685,836.6"/>
<polyline class="l" points="1290,860.3 470.4,717.7 1807.1,829.8 2924.8,881.4 162.8,839.3 1924.5,797.6 2300.4,822.7 476.6,779.3 1079.1,786.6 3065.5,849.8 3234.4,689.4 302,1049.9 1827.2,799 1831.2,807.2 2096.4,852.8 3410.6,857.7 3000.7,697.2 3289.8,944.7 1602.9,807 2601.7,842.6 436,788.1 1557.4,750.3 1817,870.4 1129.1,848.8 3526.5,884.8 638.2,832.2 3281.9,825.3 1180.9,722.7 1338.5,765.2"/>
<polyline class="s" points="853.6,675 961.7,808 442.1,829 1979.1,851.3 882.7,820.7 1911.1,805.8 1141.2,765.7 2929.4,782.1 1913.4,788.7 3370.9,849.8 1485.4,841.7 2316.9,803.5 1167.6,857.5 2563.2,815 1512.8,801.4 1468.2,741.3 816.9,793 3065.3,865.8 1087.3,740.4 3152.2,697.1 1145.4,815.2 3086.1,810.4 2228.7,797 431.3,825.9 3361.5,1059.5 2374,859.1 2690,784.3 3001.5,738.5 897.8,791.7 1969.4,982.9 2039,694.6 829.6,767.5 759.9,793.3 2678.4,809.7 3417.4,839.6 928.1,749.8 1623.9,875.9 2650.6,1096.7 1511.4,742.1 2319.8,848.7 3369.6,866.3 3497.4,828.4 3427.6,831.8 1115.3,778.5 2493.1,843.5 2095.1,845.1 1701.6,788.3 185.3,768 1128.1,843.6 2109.8,804.5 1430.2,814.6 444.7,825.1 1769.9,860.8 3343.7,923 1606.9,755 417.9,835.5 1827.7,830.5 802.2,800.6 3453.7,891.5 325.3,767.1 2831,788.7 2577.2,826 606.2,778.5 2101.2,846.5 1340.9,773.4 2153.1,791.7 515.3,770.4 1659,717.1 292.7,874.7 2359.8,649 194.2,728.8 2675.9,741.2 551.6,854.5 702.7,848.6 1512.8,814.5 1170.5,859.6 1682.8,670.4 1760.5,814 2490.9,815.9 1477.5,809.3 2051.4,754.4 2238.3,847.1 1182.9,837.2 1426.5,867.8 1066.7,696.4 3316.1,821.1 2009.2,771.9 3308.5,788.9 1973.9,822.4 3167.3,787.6 2478.3,804.8 1423.8,900.9 2668.5,679.9 3083,740.3 2351.4,830.3 2811.8,707.2 3081.7,819.3 2095,837.3 2176.2,852.8 3417.4,842.7 219.7,736.6 3546.7,846.6 755.2,792.7 239.8,762 2018.3,844.1 1374.9,789.6 804.8,854.8 443.9,748 561.5,705.4 2423.4,791.2 2412,853.9 1208.5,810.5 1152.5,788.7 1661.4,764.1 1609,796.3 3343.7,955.2 556.4,754.3 3454.4,829.3 2792.3,718.6 2281,805.8 2457.5,805 2404.9,802.3 2658.1,816.7 2052.9,811.5 1927.6,804.1 2828.9,812.8 2532.9,804.7 1268.2,837.4 1865.3,852.9 1490.3,847.7 2095.5,810.3 2459,836.7 540,851.4 203.5,728.3 1220.2,794.5 684.2,776.9 3083,776.9 1641.4,741 3208.1,768.4 2779.4,927.7 2622.6,822.8 2430,800.4 1873.5,697 2062.9,817.8 3239.1,783.2 1193.6,797.6 1272.6,814.7 2811.8,713.8 2229.9,817 2409.5,865.4 1659,717.5 1182.9,844.7 3100.1,781.7 330,860.2 1166.9,679.9 1496.8,816.4 3269.6,694.9 766.1,810.1 3551.9,775.6 3227.2,809.4 1597,786.4 3474.9,917.7 2318.1,817.1 268.4,760 3381.4,719.3 2745.8,884.8 2391.3,857.2 641.1,867 3343.7,818.7 1855.6,750.6 3267.1,731.8 2029.8,792.2 643,841.4 3224,816.3 2370.6,840.2 2176.4,835.8 1883.1,736.1 1133.5,822.1 1834.3,795.4 691.4,846 1222.9,824.1 499.5,750.6 2404.9,879.4 434.3,776.8 3286.5,764.8 3118.2,806.4 2427.2,805.3 1450.1,795.2 881.3,855.8 2209.2,808.9 796.4,815.7 2631.8,930.5 172.2,785.2 1628.1,837.2 300.7,1061.7 1605.3,876.3 333.5,818 1485.4,836.4 691.4,854.1 2457.5,864.1 1110.1,858.7 835.2,783.6 3523,814.6 658.4,800.2 1104.4,815.9 2139.1,784.6 2698.4,800.7 1608.7,824.2 2123,796.9 3109.9,739.5 208.1,801.9 2440.4,778.2 275.9,765.8 804,760.4 1674.4,833.5 1853.6,855.3 434.3,803.9 3372.8,798 3011.9,634.6 548.3,810.5 1975.7,866.9 3057,863.2 2992.3,777.6 1701.6,768.8 2622.6,810.2 3136.3,747.9 3076.8,827 1659,663.5 682.1,762 2612.9,775.9 926.2,805.2 719.8,775.9 388,789.2 1309.9,699.3 1822.9,861.7 699.2,841.7 620.9,714.5 1113.7,829.9 2085.1,801.1 3119.7,825.4 275.9,765.5 1484.6,845.4 3516.8,850.1 2138.4,861.7 3195.9,751.3 3415.8,792.6 616.5,741.9 1591.5,807.9 3108.5,859.8 883.3,844.7 1786.7,771 2319.8,836.2 3109.9,791.4 690.4,814.3 3565.6,835.8 1120.6,870.8 2664,783 1888.2,742 2349,726.6 2095.5,814.1 1822.9,850.5 2783.6,874.3 2010.7,778.5 1746.7,830.1 542.4,871.7 196.7,806.2 1608.7,730.8 2811.8,772.1 900.9,855.5 1078.4,816.5 1369.9,790.9 1018.7,806.8 1040.9,822 172.2,814.5 3153.1,866.9 390.5,859.8 481.8,783.7 620.9,666.2 2132.8,834.8 2929.4,873 1980.2,835 3253.9,772.4 1686.9,809.7 1124.1,864.3 2652.9,1010.2 2367.8,849.8 734.2,765.8 1715.4,811.5 2853.9,789.7 333.3,828.9 1906.5,795.7 264.2,666.5 2921,923.3 3108.5,726.6 384.7,794.2 1808.3,867.8 1873.5,804.9 2745.8,676.8 2561.3,802.1 268.4,809.9 581.6,708.1 1668.6,814.2 2561.3,817 2381.9,858.3 1638,809.1 1782.4,853.3 334.2,780.9 2377.5,820.7 783.4,784.9 2229.9,828.3 1920.5,829.6 490.5,769.1 1061.1,811 568.4,824 1886.6,752.7 478.2,782.8 183,656.5 2142.9,853.1 3571.2,843.8 2658.1,874 2113.2,739.6 3342.6,950.9 2593.1,882 3020.7,764.2 2789.3,795.4 1192.2,780.7 2229.9,762.5 3273.7,776.3 163.1,850.7 462,798.8 259.1,751.3 2593.1,841.6 2397.4,856.9 325,1096.3 1061.1,813.6 1876,774.9 2737.4,807.2 3136.3,807.2 1410.6,820.9 2445.6,844 2848.8,809.9 1608.5,864.4 2710.9,794.3 2137.1,875.8 1325,788.7 602.1,807.6 1477.5,756.9 388,870.3 3535.1,893.1 2797.3,792.7 1255.9,804.3 1570.2,822.7 2552.6,876.7 2660.8,763.2 2303.4,721.4 2318.8,735.3 1211.7,834.3 2919.5,893.2 2699.9,816.3 2347.3,838.8 3572.1,875.3 606.4,789.5 231.1,768.9 2348,841 1762.2,819.6 1416.8,798.8 1132.9,738.6 1683.9,746.1 2424.7,810.7 925.8,780.8 397.9,839.3 2397.4,842 3109.8,848.8 544.2,862.7 897,811.4 881.3,856.8 250.2,738.6 1399.3,766.1 3128.2,826.6 2213,767.3 668.2,806.6 3020.7,815.9 3344.9,967.2 2069.9,721.1 3065.3,778.3 283,709.5 508.5,736.6 655,789.2 662.9,793.2 2363.4,863.8 1599.1,779.3 2788.7,836.2 291.2,765.6 939,810.8 2179.4,770.5 3200.7,740.4 3308.5,929.5 2896.9,848.7 2990.5,629.6 1631.2,788.4 2150.2,822.9 1239.2,658.5 2243.9,824.4 2976.3,816.4 2811.8,701.5 1551.4,828.3 2873.3,776.2 691.2,848.5 2425.4,732.3 2176.4,826.2 1066.3,781.7 2521.3,1083.5 2375.1,738.9 430.5,852.4 1024.4,803 557.1,885.2 2466.1,783.6 2921,896.3 3200.7,743 1272,726.9 684.2,784.6 417.9,854.9 411,804.1 3305.2,1075.8 2216.3,772.3 2256.1,919 1416.8,782.6 897,772.5 2080.3,776 2409.5,842.2 1727.9,720.8 2504.7,1059 1727.9,805.8 2468.2,762.1 2700.2,780.9 3481.7,833 1935.7,915.2 3339.2,807.1 256.9,731.6 1023.7,729.8 1622.8,778.6 1360.9,758.7 1770.5,793.5 2873.3,795.6 2732.2,814.6 816.9,800.4 551.6,800.6 977.9,814.5 2133.7,750.5 3344.9,969.5 1858.2,856.4 1279.8,872.7 1275.5,855.1 795.9,672.8 2750.8,873.5 2209.9,815.7 1578.6,764.9 2783.6,890.5 1043.4,831.2 2302.7,776.2 627.8,709.6 1747.8,825.2 2069.9,774.6 3511.3,805.8 3217.6,870.6 2811.8,718.3 897,796 3065.5,807.8 889.5,852 2745.8,877.6 1344.7,728.1 1292.3,814.5 1110.1,868.8 540,855.1 3289.8,934.3 3211.7,808.2 641.7,823.9 1152.5,775.4 925.8,822.3 2503.4,1026.3 2972.8,812.4 3313.7,747.9 2085.1,780.6 481.8,757.6 704.1,734.2 2142.9,872.8 2502,933.6 2976.3,833.5 277.2,687.9 2902.9,853.1 1323.2,793.1 2449.6,855.2 1120.6,809.8 515.6,760.1 417.7,858.2 1480,780.5 2705.8,818.4 2197.5,779.8 3289.8,907.2 3395.2,798.6 2699.7,823.2 1040.9,748.3 2698.4,777.4 3109.8,842.4 1690.7,675.6 3523.8,818 3339.6,848.2 1019,706.8 430.5,837.3 3191.8,752.9 1338.5,740.6 2867.9,808.1 1973.3,830.9 3308.5,874.9 1940.1,1000.6 355.8,780.6 3443.4,781.2 3551.9,837.5 3054.9,665.4 1512.8,767.9 2476.3,848.8 1727.9,775.5 3188.3,800.7 1754.2,806.4 3492.5,857.4 1925.8,650.9 3224.4,826.1 1727.7,815.3 2347.1,817.8 1374.9,786.4 897,834.1 3564.7,835.4 895.7,842.4 2964.7,810.6 1241.4,837.5 3498,839.4 3309.9,859.9 208.1,818.2 1766.7,796.3 2062.9,759.1 2789.2,851.1 3404.2,861.1 3002.1,675.2 3540.9,852.8 1813.3,847 2438.6,674.8 1512.8,783.4 2753.2,1070 1422.4,893.6 3436.5,895 1692.1,798.7 1250.5,824.9 2399.7,835.4 655,807.7 1606.3,802.1 2571.3,805.1 2361.3,770.6 2069.9,796.8 2960.5,785.6 615.1,798.2 503.4,821.9 3148.8,731.5 2931,802.8 2586.8,889.9 1163.1,861.7 895.5,843.4 435,810.8 2130.4,655.3 3546.7,850.5 2726.3,682.2 1169.5,851.3 815.9,863.1 3210.1,738.3 1487.4,881.2 1918.4,782.1 417.9,859.7 3504.3,858.8 2956.6,841.8 3000.7,718 2266.4,845.3 1822.9,806.7 2525.4,956.8 3004.4,663.7 658.4,789.7 255.7,774 1772.1,848.9 1193.6,785.1 2256.1,788.1 668.2,729.4 2816.5,788.5 462,809.9 297.8,999.6 1865.3,864.5 2836.6,831.7 1333.4,789.1 1880,742.7 1426.5,880.9 2297,788.3 2480.4,794.1 2672.2,825.8 848.8,684.1 1078.4,789.9 565.9,805.7 3052.5,754.1 926.6,828.1 2380.9,791.3 2690.8,758.5 2780,893.3 855.7,815.2 2690.8,801.3 264.7,821.8 3526.5,827.4 3436.9,864.9 2926.5,807.1 3240.5,798.2 3417.4,756.2 1487.3,822.7 490.5,767.4 1220.2,716.3 1657,784.1 2309.2,805.9 595.3,801.4 3446.1,861.8 275.9,780.1 3410.6,811.8 1442.6,784.8 3343.4,928 3215.3,709.8 1678.4,831 404.3,807.1 2150.2,809.2 1664,776.8 3448.4,842.3 2799.7,872.9 2958.4,831.6 3536.2,733.2 298.6,1026.1 1770.5,742.7 2139.1,890.5 2983.2,804.6 1121.2,717.6 684.2,771.6 3109.9,746.5 471.4,796.9 2664,813.3 3132.5,829.1 431.3,849.7 3230.6,763.4 325,981.4 2099.7,848.6 1411.1,868.8 1657.2,812.2 1868,841 3537.1,888.3 2051.5,818.2 1284.6,720.5 2749.8,923.9 964.6,821.6 1858.7,810.8 472.2,790.3 1848.4,823 333.5,788.4 3544.2,883.7 548.2,887.2 1426.5,837.8 1347,789.7 1858.7,860.2 1681.2,769.5 1659,715.1 3263.3,823.9 2924.5,877.6 1093.3,862 2321.3,847.2 1112.7,832 2397.6,829.1 2902.9,770.3 1031.6,799.2 3337.3,798.5 2785.7,888.3 2831,795.1 620.9,751.4 816.9,851.2 1483.4,865.6 2069.9,776 1871.7,839.2 3483.5,914.8 675.8,793.6 2005.9,817 897.8,821.2 1515.2,823.9 789.4,768.5 2433.7,760.6 1870.5,835.9 3221,817.8 2313.5,654.6 557.3,813 1412.3,860.4 2347.1,839.9 3063.4,805.6 2848.6,759 3573.8,937.4 526.4,787.6 3404.1,867.1 1834.3,833.4 2474.3,749.8 887.4,667.6 3573.1,958 1051.2,828.2 941.9,788.2 1803.1,809.5 407.1,858.1 2934.3,812.7 3062.4,847.4 1110.1,818.7 1829.9,807.5 2443.4,839.7 618.9,775.9 1113.7,858.9 2848.8,842 3465.2,864.3 2658.1,821.9 783.4,794.3 2372.2,830.5 3544.3,864.8 1066.7,752.9 2173.9,774.1 388,785.9 1352.8,693 1165,846 1432.5,856.4 434.3,856.7 2240.2,817.9 1770.5,866.9 2753.5,1083.3 436.9,831.3 1668.6,795.9 3492.5,844.4 2271.6,782.2 2654.5,907.3 1161.2,774.8 162.9,668.3 3211.7,818.8 2290.1,820.2 2896.9,827.3 1391.7,775.8 3408.3,843.5 3121.7,747.6 1293.7,789.3 2749,897 2563.9,795.5 2481.4,803.4 1465.2,758.1 976.1,772.2 334.2,765.6 282.5,748.3 1354.6,760.5 3535.9,882.3 2657.8,829.8 1538.2,796.1 2062.9,755.8 2533.2,824.2 2712.7,826.4 2705.8,807 2782.7,863.4 2402.7,854.5 2329.8,723.5 2540.6,751.6 1852.7,820.5 1180.9,817.4 348.5,780.7 492.8,733.6 2882.6,771 2601.6,805.5 298.3,999 815.9,853.8 3057.4,861.5 2315.9,759.4 2051.5,811.8 1241.1,762.4 1063.9,773.1 777.7,778.9 3309.9,931.7 1873.5,714.6 3564.7,841.9 1416.8,769.8 3188.2,808.5 1769.9,893.3 1822.1,854.9 2561.3,803.3 857.5,778.9 2920.1,934.8 2413.1,811.3 1935.7,814.4 703.5,836.8 1092.6,831.5 2150.8,853.4 254.9,810.7 2896.9,847.2 3410.2,787.9 2745.8,833.4 1164.1,849.2 3370.9,812.5 275.9,689.2 972.7,792.8 3153.1,838.3 3512.2,871.7 1975.6,885.6 1502.6,795.8 3550.6,873.5 2799.7,851.7 3511.3,824.8 3371.9,828.1 618.5,793.7 616.5,747.5 1019,697.5 662.9,794.5 1290.4,854.1 277,772.1 3427.4,881.7 3461,731.8 3512.2,860.6 2224,813.6 3556.6,831.7 2306.7,811.2 3481.7,842.1 3004.4,660.5 753.8,788.1 3334.9,751.1 388,814.7 2269.4,780.6 551.6,781 3081.7,816.6 1341.8,808.7 808,737.4 1088.7,804.8 635.7,854.1 1515.2,798.3 2443.4,870.4 1873.5,856.3 3360.4,1106.9 3453.7,879.9 2592.2,869.3 2109.8,822.1 2947.5,801.8 2357.2,804.4 3463.6,904.2 3484.3,891.3 2975.9,785.2 430.5,854.2 2750.8,943 1802.3,803.2 2463,713.2 1584.3,776 3052.5,701.1 2745.8,863.1 1507.5,747.8 2531,760.1 3448.4,841.1 897,858.7 1085.8,777.7 3234.1,793.6 2501.2,927.7 3410.6,849.4 3533.4,828.5 1676.8,830.5 1770.5,757.5 2521.5,1074.8 1854.1,835.6 1782.4,861.4 2037.7,750 1177.8,802.4 433.4,829.2 1939,907.7 954,810.1 293.8,883.4 1826.7,872.4 246.6,764.9 1161.8,778.1 3224.6,847 910.3,732.1 3064.1,847.8 390.5,863.4 1040.9,738.3 2245.5,860.2 2873.4,811.4 1786,844.7 1885.1,747.8 741.5,777.2 2925.9,865.3 3566,790.8 2746.9,872.6 367.6,777.4 3310,909.9 1338.5,748.5 1990.3,781.7 985.7,844.2 3404.1,828.3 274.1,749.3 939.2,816 434.3,802.6 2583.8,779.2 2923,869.7 1962.4,1094 1681.2,835.8 1632.4,759.4 2457.5,878.2 3475.4,919.8 3570.8,901.6 1910.7,817.8 2840.2,850.5 2397.6,859.9 244.9,794 1608.5,828.8 2159.1,765.7 2490.3,760.9 1682.7,837.3 2593.1,868.6 1282.4,675.2 3343.7,953.7 578.8,828.2 2524.3,1008.2 3158.4,741.8 430.5,819.9 1406.5,783.2 2811.8,655.5 2627,835.2 483.6,793.4 3094.3,738.5 3497.7,797.4 411,798.1 244.9,805.3 701.1,823.3 1485.4,846.1 3322.7,812.1 2274.5,820.1 1702.3,778.2 3443.4,863.8 2012.7,716.5 979.2,823.3 3066.6,846.6 2414.6,826.4 478,741 407,719.5 1078.4,822 1411.5,833.1 1533.7,830.6 2433.7,778.2 2269.4,885.5 2131.6,814.7 1928,842.6 3523.3,818.3 701.6,837.5 3019.7,799 3211.7,858.3 1760.5,801.6 2967.9,800.6 3196.1,785.1 2859.9,735 489.8,769.7 1630.3,814.2 1142,731.1 903.8,809.1 2069.9,764.7 418.5,778.2 1177.2,826.8 333.3,742.5 2929.4,856.1 1935.7,807.4 388,837.3 246.6,788.7 275.9,786.4 1428.2,851.2 2264.8,728.6 2800.2,763.3 435.8,837.1 3162.1,799.1 1847.8,816.7 2833.9,819.7 2417.1,791.9 586.3,810.8 2551,856.1 3112.8,865.9 2166.5,824.9 970.5,808.7 1410,785.5 1461.6,809.8 1222.3,707.1 3438.5,878.8 1873.5,871.3 3536.2,747.9 3120.9,863.1 516.9,804.4 2367.3,837.2 3155.8,819.7 1477.5,757.8 698.3,863.3 1545.5,804.9 553.3,791.2 655,789.6 3386.3,770.4 1512.8,765.2 951,822.7 1873.5,801.8 846.5,820.6 2281.1,817.5 3556.6,847 434.3,837.8 2391.4,829.7 3308.5,893.2 3121.7,772.4 2433.7,775.1 939,797 282.7,793.2 3451.7,903.3 2616.6,814 3404.3,757.2 1034.3,773.5 2657.8,798 970.5,802.4 2921,896.1 586.3,804.9 1405.6,757.5 1835.7,808.4 1040.9,794.7 2377.5,874.7 1179.1,815.3 332.7,858.8 1221.9,826.2 3559.1,683.2 2690.8,780.5 1265.5,827.9 1692.1,705.2 1747,834.2 2869.2,796.7 2135.2,722.7 2929.4,838.7 2951.5,724.7 1827.7,879.2 2445.6,831.9 1740.8,826.9 2525.4,943 608.4,779.5 1113.7,867.9 390.5,841.3 3158.7,807.6 379.8,778.8 665,819.6 1220.2,743.4 641.3,784.2 3556.7,857.9 649.9,813.6 1349.1,764.8 2030.9,785.5 3118.2,833.6 163.9,854.4 359.5,703.7 1912.9,696.2 490.5,743.2 3235.6,692.3 990.3,828.7 889.5,821.2 214.6,724.2 1428.2,895.5 298.8,981.4 821.5,826.1 253.3,824.6 1682.7,835.1 1657,744.1 897,742.5 2131.6,825.8 2238.5,792.2 3267.1,688.1 2867.9,788 2847,715.6 3108.6,858.3 1541.3,823.7 2811.8,676.7 1416.8,816.4 3412.6,864.7 540,865.4 2601.7,818 1253.5,818.9 300.9,1036.9 1115.3,865.5 515.6,782.6 1421.8,881.6 1638.9,812.6 2779.6,866.9 268.4,796.5 2391.4,782.1 1207.9,822.3 1247,821.3 2688.9,756.7 1164.1,861.8 1822.9,869.8 2698.4,795 1910.2,816.8 1829.4,878.6 2272.3,823.9 2604.4,853.9 217.3,744 1786,860.8 2938.2,815.7 2228.7,801.5 563.7,792.2 1834.3,875.8 2409.5,832.1 2350.9,823.8 2650.2,1068.1 1432.3,808.7 1011.1,752.2 3574.1,995.5 3429.6,906.6 1141.2,769.5 672.3,685.2 1142.2,803.1 2816.5,815.2 2131.6,873.4 883.3,837.1 1193.6,795.4 1782.4,855.2 2972.8,753.9 3050.9,744.9 548.2,805 3424.9,854.5 431.3,776.4 2664,790.6 2457.4,843.7 2630.2,713.1 3118.2,709 3224,847.9 810.6,860.7 2563.2,837.5 3057.4,849.8 217.6,748.3 3369.6,840.1 3162.1,770.6 1141.2,764.5 3533.7,898.1 1561,714.3 2415.7,870 2071.2,798 1673.4,670.6 301.5,1055.2 3308.5,864.1 2698.1,838.5 3004,803.2 1181.4,764.9 2788.2,864.9 2358.1,825.6 1873.5,733.1 2089.7,836 3511.3,796.8 620.9,712.9 3073.2,810.4 1170.5,849.7 3510.2,761.6 2139.1,836.3 427.8,852.2 3314.6,812.1 491.7,761.2 3086.1,815.4 2454.2,823.3 702,826 1739.6,787.3 346.9,826.8 3308.5,956.4 951,829.7 2792.3,873.2 2017.7,830.9 332.7,784.1 2588.2,789.2 1539.1,713.3 2592.3,868.2 1797.9,741.6 1512.8,746.3 1801.9,758 2150.8,821.9 3526.5,837.4 887.4,838.3 165.8,791.2 2622.6,792.4 1550.3,809.6 2474.8,845.7 1935.7,786.5 2651.7,1018.1 3311.8,813.9 2783.6,813.8 1270.9,826.5 3065.5,835.3 616.5,802.1 1788,737.7 1232.8,791.4 3123.5,706.2 1583.8,822.4 388,819.9 1173.2,857.8 3566,785.6 3476.5,887 1591.5,803.4 2595,884.6 1532.9,832.7 2745.8,785.3 3086.1,802.7 2474.8,854.7 881.3,829.3 2406,716.6 2785.8,879.6 2062.9,790.5 1079.1,793.3 1811.6,752.7 1870.5,801.8 2601.7,793.3 2522,1031.2 964.6,725 1569.7,792.1 3427.6,822.4 1637.1,742.7 1606.3,795.4 3531.7,871.2 1786,743.8 1287.7,802.8 1040.9,794 1544.8,738.9 3057.4,856.7 2216.3,843.4 2686.8,818 3144.6,824.5 3270.8,808.8 1847,778.7 3504.3,855.8 3371.9,749.3 1611.1,878.4 2039,788 714.9,792.9 1532.9,669.7 2698.4,720.9 951,796 3256.9,780.7 3546.7,889.5 1450.1,675.4 691.2,860.9 2178.8,808.7 1507.5,764.6 1463.8,728 1129,845.6 3088.6,768.1 973.2,819.3 702.3,787.5 1578.7,761.5 2071.2,777.2 1807.1,833.6 2918.9,964.7 2051.5,817.2 2678.4,785.6 1078,801 2501.8,930.4 3344.8,972.2 3308.5,932.5 2443.4,857.2 1034.3,821.1 1701.6,829 1375.8,696.7 2030.9,764.5 1920,799.2 1550.3,793.5 925.8,815.8 2355.8,816 2263.7,912.5 691.4,842.6 3448.4,868.1 2440.8,729.6 1432.3,798.6 3511.3,777.9 1120.6,826.1 1689,809.9 3436.9,780.8 400.5,842.1 2449.8,828 531.9,794 1241.1,832.9 1827.2,865.8 629.7,747.8 1873.5,820.3 1120.6,853.3 2085.1,815.5 231.1,768.5 2744.7,790.7 2250.7,908.2 462,808 1090.7,808.3 1281.2,846.1 1873.1,873.1 2869.2,790.9 2271.6,844.3 1520.1,806.4 1274.1,885.8 2853.9,780.1 3487.7,749.3 2072.6,801.6 1232.7,775.4 2364.6,832.7 704.1,821.2 620.9,731.4 1783.5,827.1 341.6,729.2 3065.5,852.6 3466.9,923.7 783.4,775.7 1163.1,833.3 1005.8,822.6 2062.9,761 1220.2,819.2 1621.8,855.4 1777.7,888.2 1485.4,828 3052.5,755.2 679.2,807.8 1270.9,846.6 2095.5,810.7 2561.3,808.6 2315.1,795.2 325.6,1024.9 3482.3,855.4 243.9,748.8 1870.5,862.8 495.7,807.3 700.6,812.7 1237.2,807.7 3343.4,951.9 2660.8,783.9 1165.2,852.3 2077.3,711.6 2561.3,796.7 2501.2,908.5 1167.3,783.6 1606.3,881.4 397.9,842.3 3132.5,832.4 3551.9,813.3 3114.3,795.4 1496.8,706.5 1081.6,802.1 3001.5,727.7 2749.8,864.2 3065.5,813.3 503.3,814.1 411,806.2 1019,784.6 2754,1055.8 2433.7,806.5 886,842.4 3566,838.8 1128.1,864.1 3210.2,813 2907.4,965 1152.5,762.3 3556.6,826 3308.5,939.7 1220,851.4 1570.2,825.8 2138.4,803.8 3118.2,736.2 2921.4,821 3508.7,850.2 291.9,864.7 1659,669.5 690.8,860.3 2019.4,775.2 610.9,821.2 1073.3,825.8 2698.4,750.6 2409.5,881 400.5,881 3556.6,882.1 275.9,726.1 2095.5,854.5 684.2,807.3 2531.1,777.7 2306.7,733.4 1344.1,759.8 2692.9,834.2 1904.2,769.5 1484.6,863 301.7,1005.4 3187.4,822.6 2142.4,765.8 1120.6,802.4 1170.5,805.7 461.5,754.1 691.4,817.7 2375.1,742.5 1911.1,818.4 1037.3,798.8 3065.5,831 3118.2,816.4 170.1,748.3 3000.7,724.1 253.3,827.1 557.4,888.2 1799.5,777.2 3200.7,766 3253.9,753.8 1641.4,751.5 654.3,761.5 626.2,793.1 352.7,774.9 1078.3,831.2 857.5,780.8 2941.4,769.2 748.5,804.6 2968.3,827.1 2987.6,788.2 2228.7,805.3 385.5,744.3 2853.9,762 2779.6,846 1608.7,856.8 2686.9,820.1 2604,894.9 2468.2,699.9 3250,821.5 193.3,795.6 3226.8,815.1 1371.5,772.7 2973.6,706.1 1767.9,825.5 3000.7,788.2 1777.7,898 2499.1,862.3 225.8,743.1 2601.7,844.3 1110.1,869.2 3540.9,857.3 2869.9,762.4 1426.5,737.5 1147.1,765.4 1566.9,784.1 1556.8,704.5 335.4,797.6 1221.8,811.3 926.2,772 2869.2,730.4 3004.4,784.7 2138.4,879.7 3549.9,786.1 2407.1,837.4 3289.8,935.6 450.6,795.1 2750.9,933.2 1873.5,774 3546.7,837.3 3399.3,784.2 1416.8,873.1 2433.7,775.2 2663,801.7 2419.8,870.2 1935.7,837.5 2799.7,868 2593.1,853.6 2604.4,803.8 1873.5,781.3 893.3,798.2 1112.7,843 2002.1,793.8 1369.8,775.8 3088.6,784 2095.5,804.4 3001.5,799.7 1113.7,860.9 2445.6,865.9 987.4,724 436.2,810.9 400.5,832.1 599.5,825 3464.3,911.4 815.9,757.3 1973.5,856.2 2869.2,720.7 542.3,807.7 2780.1,893.9 2779.4,862.4 1596,759.7 1847.8,839.4 1491.5,881.7 401.1,790.1 2433.7,794.5 1397.8,759.5 1831.2,842.4 443.9,784.5 244.9,774.5 2306.7,727.2 876.5,745.1 1660.7,802 166,682.7 534.4,755.2 856,728.6 1179.5,833.1 2106.6,753.7 2216.8,794.6 2992,755.2 2622.6,785.1 1755.3,830.5 3441.7,876.8 2095.1,842.8 630,827.1 3057.7,855.3 2173.9,656.1 568.4,829.1 1511.9,789.4 3308.5,950.6 2444.1,815.8 526.4,812.3 3511.3,792.3 829.6,751.3 684.2,754.3 490.5,759.6 1939.5,1017.7 1134.3,833.8 450.6,790 551.6,848.5 2306.7,792.1 3118.2,713.6 2799.7,849.3 1243.9,758.5 444.7,820.9 3213.6,822.4 2168.6,813.4 2906.3,934.7 2445.6,814.3 3109.9,793.5 2811.8,774.2 434.3,822.6 3483,879 333.3,866.5 2224.8,822.2 168.3,817.1 2745.8,875.6 3410.6,845.9 1426.5,791.2 2833.6,827.2 1933,866.6 2660.8,855.3 2720.8,812 2525.6,887.1 1338.5,727.3 3572.1,815.2 2357.2,754.5 3004.4,698.1 3462.5,871.7 2533.2,814.5 517.5,809 2069.9,793 1538.2,769 1858.2,841 2956.2,818.9 3565.6,806.4 715.6,763 2173.9,731.6 951,783.9 1061.1,837.8 2881.6,815.8 1829.9,881.5 3408.1,852.2 2345.7,823.9 417.9,855.3 1224.7,785.2 3445.6,791.4 2837.1,832.9 740.1,778.2 1535.3,716 257.3,743.7 644.3,850.2 2069.9,789.8 2813.8,750.8 2398.2,832.1 2004.1,709.4 1973.4,889.2 2523,1036.2 2020.3,826.2 1541.3,806.8 2654.5,908.8 2593.1,820.6 444.7,820.3 1410.6,763.3 1829.9,806.6 1796.8,775.1 2563.2,855.1 2993.4,798.7 2271.6,700.7 1657,745.8 1873.5,716.9 2443.4,877.4 1507.5,723.8 2585.7,832.6 925.8,779 182.4,799.1 891.3,876.7 3330.8,677 2682.4,651.6 1417.1,871.6 478,799.3 2409.5,843.7 3200.7,756.8 3551.9,685.7 3002.8,787.2 3008.1,798.7 2848.8,810.1 953.4,801.5 340.2,686.9 1539.1,823.7 3539.2,864.6 1870.5,776.5 3119.7,808.5 2377.5,822.4 1512.8,800.3 359.5,762 503.5,794.5 2132.8,846 2967.3,824.5 2556.3,863.3 2718.4,795.6 576.6,841.7 2030.9,758 3545,881.4 2798.2,808.7 1856.3,851.3 3118.2,731.9 1659,710.4 2601.7,816.2 1831.2,829.9 3308.5,942 1439,758.9 1361.9,750.1 2698.6,830.6 932.9,804.3 396.1,745.8 2330.6,796.7 1166.1,859.6 2591.7,875.5 3004.4,736.2 2108.3,853.5 2604.4,809.9 1225.2,729.5 2422.2,832.8 1089.8,750.1 3404.2,849.8 2069.9,756.3 392,801.1 1617.1,839.7 2532.9,829.7 294.6,922.4 3158.2,745.1 352.7,809.5 401.1,826.4 1871.7,862.8 3289.8,865.6 2404.9,858.7 1853.6,755.8 1416.8,812.5 292.7,891.5 872.6,757.2 1341.8,803.3 1427.5,902.7 2190.3,827.7 1858.2,845.7 1244.7,726.3 3188.2,798.8 3224,855.9 3573.1,830.4 2123,792.7 1621.8,856.2 3541.7,889.3 1484.6,826.5 1181.4,829.8 336.1,823.4 3556.2,898.5 2156.3,830.1 1432.3,862.3 2706,841 2905.2,867.8 1657,762.6 1422.4,892.6 1918.4,788.4 2497,876.4 1935.7,885.1 750.2,797.9 1066.7,707.4 3494.1,872.3 2049,764.2 2092.8,812.2 2397.4,839.7 2847.7,817.9 1813.4,810.8 1469.5,817.1 407.1,858.7 1387.4,791.5 2269.4,879.4 712.8,756.3 1005.8,825.6 1583.8,821.3 3388,831.3 926.2,735 2588.2,873.8 1818,858.8 554.1,765.1 551.6,841.2 1459.2,813.2 2531.1,740.8 162.9,849 1391.7,780.8 3417.4,842.6 1870.5,856.9 1979.8,812.1 3453.8,901.6 893.1,867.8 1701.9,800.5 1165,822 3059.1,858.3 2500.5,824.8 1105,863.6 244.9,776.8 3423.6,846.1 2132.8,858.1 1164.5,742.2 2880.2,783.6 3066.4,783 2531.1,817.5 2887.4,822.1 3109.9,725 1539.1,808.4 1633.2,823.2 2085.1,793.5 638.2,845.8 3526.5,743.7 2013,776.9 554.7,899.2 3403.7,671.8 1689.2,806.6 1298.3,843 2281.1,658.8 2000.3,781 985.7,806.4 1893.9,754.5 1423.8,817.3 1302.2,803.2 1391.3,779.5 2466.9,837.4 1410.6,815 578.8,826.6 3188.2,812.6 1531.5,788.7 3573.4,928.7 1621.8,881.1 2418.2,657.9 2443.4,687.5 1369,691.2 2377.5,865.1 2011.2,823.4 1512.8,755.6 1622.8,770 2160.4,807.7 2421.1,808 401.1,825.4 611.1,784.1 1485.4,836.5 591.6,782.9 384.7,797 2588.2,794.9 3112.8,823.8 1585.9,689.7 433.4,851.2 2799.7,859.8 1319.6,737.8 766.7,738.7 183.7,803.7 1360.9,765.7 328.6,755.3 2377.5,872.8 951,772.7 1918.4,792 1676.4,789.6 534.4,796.5 2132.8,829.8 2139.1,781.7 2418.9,808.8 2173.9,673.1 571,790.1 1831.4,859.3 1437.6,801.1 1608.5,831.9 3118.2,783.5 1702.3,769.3 2142.9,840.4 756.9,781 1590.9,673.3 1432.3,635.2 828.6,806.6 2474.8,811.1 929.5,631.2 333.3,729.6 3555.3,858.3 2031.7,676.9 3109.9,725.4 2238.3,840.9 3118.2,843.1 897.8,795.5 3516.7,840 698.4,863.9 1858.2,854.7 1769.9,859.3 1040.9,770.8 1220.2,808.4 2139.1,819.2 1858.7,814.7 2729.2,716.7 2692.9,804.9 2660.8,756.1 260.6,716 1237.6,692.2 1478.7,818.8 2799.7,820.1 1006.1,800 909.5,807.1 2624.9,849.3 326.6,945.2 1024.4,798 1935.6,906.6 1690.4,793.7 1935.7,894.7 2482.3,792.7 1578.7,826.3 2186.4,854.1 1072.8,808.9 1296.7,874.9 3556.6,807.5 3536.2,837.2 3119.8,846.5 883.6,803.8 2139.1,792.3 401.5,663.8 2654.5,792 1838,789.5 1006.1,825.4 295.3,926 3551.9,761.8 3504.3,840.9 2272.5,833.8 881.3,862.4 1659,744.4 3289.8,942.5 2229.9,791.2 3476.8,862.4 2943.7,791.8 1787.6,817.9 2838.6,761.5 2240.6,841.9 1451,716.1 2005.9,787.7 965.1,808.9 162.8,806.7 502.8,748.1 2754,981.4 2496.3,863.6 1248.8,840 1374.9,788.5 209,809.1 2310.4,821.1 941.9,834.2 3054.9,691.2 816.9,818.2 1512.8,765.6 881.3,706.8 426.3,869.5 951,796.6 2101.2,863.8 1676.8,642.1 568.5,839.9 2085.1,829 2552.6,664.4 1019,718.2 355.2,758.1 1350,770.2 994.8,768.3 2385.3,830.8 3562.7,802.2 2631.8,897.7 3443.4,851.4 2698.1,821.2 2968.4,836.6 1100.8,816.3 3367.4,765.8 2525.4,938.3 3464.6,853.8 423,832.1 473.6,742.8 1847.5,866.8 2284.4,813.6 1831.2,837.4 1129,850 1370.6,781.7 897,789.9 2691.7,775.7 3146.6,681.1 3572.1,749 2472.5,779.7 352.7,797.8 3257.8,778.6 2698.4,843.2 783.4,782.9 2258.7,874.4 388,875.1 2666.4,686.2 299.3,1045.4 399.3,787.8 1141.2,820.2 2257.1,862.9 380.6,714.7 2397.4,841 942.1,711.4 3465.2,849.3 2882.6,753.8 264.7,820 246.7,680.4 2709,850.9 1822.1,844.7 1623.9,814.7 1182.9,816.9 1918.4,744.6 3200.7,726.3 165.5,854 1241.4,814.9 2304.2,765.1 1031.7,675.1 291.2,806.4 1360.9,742.7 1539.1,793.1 1031.6,796 1107.6,864.8 3068.2,833.9 1129.1,841.6 3200.7,728.6 2369.5,792.9 2749.6,890.3 1831.2,802.7 2740.8,824.6 544.7,884.7 1391.7,778.7 1424.5,867.5 328.6,847.1 3202,766.8 2684.6,771.7 244.9,805.2 1748.7,641.9 1141.7,772.1 2331.4,810.1 2620.4,790.7 265.9,779.3 1978.1,835.3 2095.5,821.4 2588.2,886.2 719.1,797.5 682.1,790.2 2139.1,781.4 2445.6,732.6 1107.6,813.2 1591.2,799.2 3443.4,839 1532.9,810.3 2347.3,819.2 2415,858.2 1064.8,725.5 2604.8,858.8 3495.1,886.3 3208.1,791.6 2593.1,849.7 1121.2,847.8 3267.1,685.4 329.1,825.7 193.3,704.7 882.8,661.9 1416.8,787.4 1306.9,847.5 3476.8,857.8 281.9,760.5 3395.2,772.6 884.7,785.6 3503.1,878.8 1920,824.2 1416.8,838 1121.2,844.1 2658.1,802.8 2956.6,629.2 592,778.2 1856.4,701.6 2779.4,882 2660.8,820.3 2593.1,841 1450.1,792 2779.4,862.5 2690,819.1 1164.1,742.3 3210.2,826.1 3311.6,864.5 2271.9,855 1673.7,834.1 859.3,792.9 628.7,842.7 3411.9,831.2 1871.7,845.4 1459.2,799.6 1641.4,751.4 3281.1,842.9 2010.4,811.5 2095.5,797.5 2690.8,807.8 2478.3,803.9 3546.7,840 1657,798.4 1360.9,753.1 1779.6,844.5 1702.3,804 597.7,769 3015.2,785.8 449.7,752.3 3446.9,852 2633.5,968.3 654.4,629.9 3319.7,739 1284.6,711.7 944.3,850.9 292.7,894.5 1608.5,821 3502.6,829.5 2097,811.1 2901.8,825.7 1522.5,692.5 1134.4,814.6 2597,775.9 987.3,818.8 620.9,706.6 1306.2,845.2 248.5,763.3 2137.2,815.6 970.5,790.9 3370.5,878.3 2096.4,849.1 2501.2,925.7 2467.5,806.3 1972,873.7 2601.7,884.3 434.3,820.4 239.8,780.8 1040.8,784.6 3178.8,785.1 1455.1,792.7 3407.8,854.4 367.6,778.8 1640.3,735.2 1282.4,782.6 3378.4,753.5 2869.2,735.3 2442.1,828 1831.2,787.5 2442.9,744.6 1274.1,888.1 3540.9,882 2306.7,736.2 246.6,771.9 2240.2,758.1 704.1,826.1 2698.4,717.7 1805.6,861 3556.6,864.8 275.9,711.1 3556.6,797.7 3454,873.9 1173.2,819.3 1935.7,792.8 1172.8,840.5 388,858.4 2029.6,797.3 1094.3,816.1 1727.9,818.7 3145.4,647.7 2699.9,829.5 2929.4,793 1356,717.7 2345.2,828.9 2468.2,727.5 1988.6,748.4 2445.6,771.2 2228.7,785.5 1040.9,788.1 1163.7,851.4 263.9,791.3 1849,824.9 1789.4,872.2 3521.9,854.9 1293.9,796.5 3057,855.7 1870.5,862.5 2229.9,834.5 2256.1,921.9 2062.9,764.6 2590.5,879.5 2690,781.9 881.3,791.7 450.6,809.8 3546.7,865.6 1935.7,814.6 2096.4,861.1 1757.8,768.4 1599.1,798.4 270.3,769.9 1931.7,817.3 3573.1,895.3 2698.4,737.1 2085.1,769.4 414.3,798.1 3087.2,787.3 930.6,766.1 1477.5,771.9 275.9,753.5 2139.1,841.2 748.5,743.1 1727.9,813.5 1588.3,798.5 2229.9,723.4 1769.7,735.2 750.2,762.9 2921,925.2 3511.3,788.6 2664,794 633.2,818 3086.1,812.8 2406,629.2 2238.3,743.8 2601.7,804.5 2777.2,977 2698.9,837.2 1622.7,809.6 965,805.7 897,816.5 291.9,871.3 1123.1,839.8 3197.4,630 3571.2,877.5 2699.9,835.3 196.7,798.7 2804.8,763.2 1501.6,727.2 1770.5,844.4 1849,789.9 2547.3,870 2069.9,797.7 3015.2,796.4 3200.1,830.9 2634,1034.7 1477.4,648.7 3427.1,817.8 3155.8,851.8 291.9,836.3 2660.8,846.3 214.3,716 691.4,825.8 2751.8,995.2 2483.6,814.3 830.7,779 430.4,835.6 3532.5,897.1 1557,797.2 759,797.9 2238.3,675.9 855.7,757.5 3175.8,766.8 2254.5,840.6 526.4,811.2 2445.6,749.8 3022.5,800.2 2135.2,872.4 2400.7,850.7 1360.3,808.8 185,775.7 2880.3,712.9 2698.4,732.1 1387.3,777.9 2923.2,816 3361.3,1065.5 1047.8,753.3 757.6,802.4 551.6,844.4 411,795 1107.6,842.4 1340.9,774.2 795.9,816.1 3176.4,720.1 2496.8,827.1 2468.2,676.4 346.4,790.4 2816.5,815.9 1456.6,783.1 1095.1,844.5 1754.1,836.1 3371.9,737.6 452.7,788.2 291.9,845.9 1643.6,822.8 3465.2,903.7 3573.1,926.3 3105.4,805.4 1824,815.6 3568.2,824.9 3089.1,702.4 616.5,773.5 2256.1,780.9 984.2,830.9 2745.8,848.3 1019,738.2 1825.7,838.5 1465.2,674.9 1770.5,746.9 2108.3,861.1 3344.1,926.1 2153.5,813.6 2777.9,994.2 2531.1,733.6 3086.1,823.3 390.5,842.6 218.3,721.7 2138.4,870.7 3066.8,843.1 1268.7,848.8 1426.5,870 3509.5,794.8 1461.3,798.8 1073.9,818.7 1397.8,785.4 1104.2,853.4 2783.6,840.3 333.3,765.1 635.2,868 2422.6,847.2 1770.5,818.7 2577.4,825.7 3445.6,847.6 3464.3,835.6 2531.1,709.2 3511.3,835.7 556.7,812.6 3234.1,794.6 1975,833.8 2364.6,806.2 3403.7,867.8 2281.1,762.8 2185.3,829.4 1755.3,836.4 3536.1,886.8 557.1,862.4 1565.1,814.1 2121,818.1 2561.9,847.4 2698.1,835.3 2607.3,869.8 397.1,864.4 3429,804.4 337.6,821.2 716.4,784.7 2213.1,840.5 2062.9,792.8 1165.8,709.8 333.5,789.1 1162.6,850.5 296.6,961.9 1478,810.3 2699.9,829.3 2699.9,826.9 2920.1,907.1 1979.2,809.5 2902.1,799 538.6,894.9 1801.7,782.2 1239.2,821.4 1515.2,796.6 3451.8,851.3 1777.7,886.7 2531.1,825.1 1130.9,810 2660.8,850.2 2306.7,782.6 3148.9,774.7 2832.6,791.8 1676.8,830.8 1783.5,818.8 556.7,835.8 2306.7,777.8 3118.2,801.9 2229.9,723.1 1541.3,818.9 3208.1,750.3 257.9,669 1862.2,863.5 1238.5,753.7 2753,994.3 1421.8,864.9 897.8,795.7 2245.5,839.3 2399.7,839.2 1638,773.3 748.5,727.5 1292.4,824.3 2131.6,865.5 478,754.7 1163.1,854.8 1769.9,871.6 2225,820.3 2745.8,850.1 556.7,850.6 1416.8,782.9 551.6,826.3 2869.2,726.8 3000.7,785.5 429.8,860.9 3559.1,850.9 3004.4,674.5 3187.4,815.5 926.2,813 817.4,828.2 1166.1,734.5 1066.7,784.2 219.4,737.5 876.5,711.8 2588.2,835.5 3153.5,759.8 696.4,838.2 3004.4,660.5 1674.4,842.3 2627.4,795.8 1826.8,842.1 3483.5,868 2929.4,878.5 2775.7,1055.1 1277.2,825.3 817.2,838.2 1355.6,796.1 3167.2,746.7 422.6,764.3 3544.3,860.7 1472.1,794.9 1904.2,757.6 2806.8,774.4 1984.1,799.3 2375,881.9 3395.6,770.4 2351.4,831.7 1492,851.3 3155.8,848.1 333.5,857 2017.7,797.7 226.8,684.4 2496.6,780.5 2918.2,986.8 2271.6,826.2 3118.2,791.3 1036.8,785.4 400.2,805.9 540,814.6 243.2,676.3 1881.8,782 2813.9,703 2838,861.1 1918.4,792.6 2255.6,771.2 2795.5,771.2 1830.6,871.5 2084.8,759.6 3208.1,785.3 2906.6,952.9 3536.2,738.2 926.2,754.5 333.3,773.2 551.6,905.3 1881.4,794.4 2712.9,842.2 1147.3,813.5 462,790.3 1361.8,648.8 477.1,689.2 540,792.9 332.7,725.8 3436.9,802.7 882.9,856.7 3004.4,659.6 3496.6,864 1621.8,831.6 1935.7,824.9 1232.7,744.2 444.7,860.9 2062.9,807.6 2754.1,1111.1 793.5,741.8 802.5,726.1 3370.9,820 3224,830.4 2336,778.7 2389.3,844.2 2216.3,771.2 3118.2,866.2 1116.4,846.1 1332.5,752.1 3504.3,871.1 1093.3,805 2921,716.6 3136.3,767.7 3052.5,777 974,821.8 2427.2,808.2 3404.7,738.5 926.2,730.9 2362.7,868 2845.1,731.3 3417.4,842.3 2496.8,874.9 3000.7,687.6 3157.6,840.3 3436.9,787.3 2502,938.7 1421.8,854.4 2585.7,696.5 1237.2,781.6 926.2,722.9 2457.4,750.9 1739.6,788.6 2779.4,918.1 2666.5,827 3266.5,806 3427.6,811.3 1751.7,841.6 970.5,838.6 816.9,771.2 3526.5,827 3371.9,780.1 846.5,821.1 2779.6,773.3 1902,774.2 419.8,794.5 3307,1031.7 2801.7,744.6 1360.9,779.8 2750.9,931 481.8,760.7 2712.7,810 896.2,774.3 3511.3,831.2 293.6,829.6 3119.7,846.6 436,698.5 3088.6,759.1 2729.7,826.7 2863.8,797.6 3039.2,792.8 1935.7,834.9 3219.6,841.9 2752.4,991.3 3211.4,840.1 397.7,862.7 3481.7,770.2 1769.9,878.6 1360.9,765.5 2712.7,811.2 690.4,773.5 1411.5,867.1 559.4,715.3 2502,950.3 3427.6,839.6 1491.6,832.4 1333.4,763.6 1121.2,833.2 757.8,788.5 1312.8,815.1 829.6,791.4 1339.1,641.4 562.7,792.8 1181.4,796.6 509.3,820.7 1487.4,815.4 503.3,826.8 1636.8,711.4 2417.1,828 576.9,828.9 2407.4,860.5 1252.6,820.8 1831.2,853.9 2245.5,832 2157.6,863.7 2923,777.5 163.1,807.5 3371.9,768.5 343.5,830.3 298.7,983.3 1006.7,784.3 976.2,846.6 2269.4,849.1 289.6,831 1512.8,811.1 3343.7,877.7 1834.4,873.4 1502.7,811 1143.9,832.2 3512.2,870.2 1827.2,857.1 1355.8,668.9 3417.2,833.3 292.6,881.7 1031.7,751.4 3029.2,823 2262.2,861.7 1648.7,818.7 926.2,709.3 1532.5,795.9 1911.1,808.7 2347.7,839.8 1728.9,798.7 2933.4,764.6 698.9,839.8 1019,751.7 926.2,751.2 514.5,783.1 2427.2,800.2 1924.5,850 1822.1,850.1 2887.2,775.5 2745.8,889.5 2297,755.1 700.7,856.2 393.3,864.3 2698.4,730.9 2296.1,813 1031.6,789.9 2673.1,809.5 1550.3,826.2 3152.2,839 2377.6,845.2 2249.4,860 3118.2,761.8 2952.4,801.9 2385.3,844.7 2297,810.6 3551.9,745.8 3544.3,895.6 773.9,808.1 182.4,807.3 3404.1,850 2164.5,852.2 1284.6,778.5 3403.7,856.9 2924.2,876.9 2062.9,817.3 2166.4,801.5 3466.5,901.8 1504.8,806.2 3188.2,809 1374.9,778.2 610.9,654.3 2780.1,841.5 2225,813.8 2240.6,845.2 2272.1,773 1878.5,781.9 2496.8,834.1 185.3,813.7 1238.2,797.4 1121.2,852.3 3369.9,859 1653.2,764.3 2664,781.8 2029.5,789.2 702.4,850.4 1828.5,822.9 3410.6,873.6 2660.8,785.8 1813.3,727.7 2256.1,823.4 1782.4,884.4 1241.4,810.9 3378.1,710.8 578.8,840.3 3056.7,861.5 281.3,742.9 3173.1,789.6 2118.7,794.8 2022,770.1 2138.4,868.4 2397.4,877.5 1110.1,850.2 2071.2,760 3086.1,817.7 333.5,808.1 1279.6,886.7 3004.4,752.8 1061.1,810 214.6,723.4 2404.9,812.1 3227,806.2 2586.8,793.7 2604.1,823.7 326.6,843.3 730.9,646.9 1498.4,814.7 2397.6,857.1 1512.8,803.5 3034.3,821.2 1477.5,779.3 1265.5,841.3 2152.2,804.3 2869.2,759.8 1967,715.1 3410.6,816 616.5,763.5 3004.4,691.2 1039.2,782.3 3200.7,782.9 874.9,793.8 2660.8,834 275.9,770.5 2493.1,827.9 668.2,809.5 1450.1,783.2 3318.7,777.5 2390.6,848.7 2067.3,772.5 2321.3,841.2 2811.8,752.1 3402.3,808.5 3361.5,990.2 3306.3,1075.6 2132.8,835.5 256.3,781.6 1849,808.1 3476.8,867.4 2951.5,785.1 3231,831.4 422.8,851.1 2397.6,872 3427.3,886.9 531.7,673.2 1253.7,745.3 1263,764.6 1769.9,834.1 3476,893.9 503.3,820.2 798.6,759.3 2240.6,839.2 1943.7,1052.1 3118.2,770.9 2811.8,664.5 2896.5,827.3 2224,833.7 2360.6,718 2312.5,793.7 3246.9,789.6 233.7,765.2 1972,863.7 3000.7,662.6 172.2,797.6 294.1,898.3 1214.1,810.4 3499.2,894.2 2655.4,893.2 1326,778.5 219,702.1 1209.5,815.4 1847.5,832.8 2411.4,877.8 3088.6,775.5 2303.4,714.4 1121.2,818.4 2811.8,711.5 1031.7,778 2150.2,824 3188.2,814.7 2127.7,692.4 3188.4,775.1 3531.2,868.2 1265.5,833.2 2010.4,848.5 2252.8,901.2 3129.6,826.8 1323.9,737.1 2100.1,751 2604,848.6 1333.4,817.1 2351.4,721.7 1818,755.7 430.5,856.6 3083,770.6 2281,809.3 2783.6,858 3256.6,822.1 3342.5,732.8 291.2,806.9 2744.7,857.5 444.7,854.4 2751.8,954.5 241,697.4 2531.1,710.3 1704.6,803.9 2448,848.5 2399.7,833.2 390.5,850.4 2848.6,841.2 2987.6,809.8 2503.5,1026.1 1297.7,876.8 1561.7,688.7 2631.8,953.9 3434.5,914.3 3509.8,867.2 1996.8,735.1 2859.9,762.6 434.3,796.4 3158.2,759 2303.4,771.8 3188.4,802.8 750.2,796.4 2710.1,798.6 1174.6,857.1 1689.4,656.2 2120.8,760.1 1655.9,809.7 551.6,814.9 2740.9,835.9 2245.5,865 2533.2,857.6 2418.9,797.2 2369.6,835.1 1005,812.3 2748.7,890.8 1253.3,810.5 1391.7,770.2 2037.7,769.7 352.7,773.6 1282.4,884 3063.4,871.3 1787.6,868.1 2138.4,839 2525.4,923.3 2407.7,824.5 1702.3,768.4 1847.5,779.3 397.6,852.7 2231.6,802.3 447.4,799.3 2245.5,814.1 601.1,789.7 419.8,857 1358.8,801.7 1016.5,791.7 1641.4,765.3 3088.6,823.8 2397.4,837.5 2011.2,823.2 3536.2,758.4 1281.2,844.6 895.1,710.1 1106.9,822.6 1338.5,799.8 1583.8,801.2 3343.4,814.6 2779.6,918.9 2811.8,684.2 2062.9,766.5 2364.6,871.1 2745.8,840.6 1177.2,795.5 1484.6,838.4 2412.1,742.8 3436.9,909.5 1881.4,794.1 2594.1,630.9 1416.8,787.4 1140,836 1279.1,872 354.7,688.6 3233.2,781.4 2669.7,816.3 2474.8,766.8 3556.6,825.3 1832.5,875.7 3062.7,833.7 1193.6,787.2 818.5,809.7 2852.2,742.5 1094.4,877.1 458.5,793.1 629.7,714.7 3144.6,824.4 2441.6,864.4 1181.4,845.3 3436.9,825.8 2447.2,880.6 2605.6,812 3541,878.8 3057.4,867.5 3564.7,855.7 3343.7,932.6 1793.1,794.3 1612.6,897.8 1089.4,691 283,796.9 2316.9,800.8 1512.8,807.7 2921,923.8 2811.8,686.1 3045.2,723.7 2101.6,846.6 557.4,826.2 426,760.1 3546.3,836.6 808,836.6 2848.8,844.2 2655.6,811 1831.2,857.1 301.1,1029.8 3066.6,835.6 2306.7,711.6 563.7,789.8 2133.4,791.8 3068.2,864.6 2306.7,813 397.9,814 1341.8,785.7 162.8,854.9 748.5,793.1 3272.7,799.4 1621.8,862.7 2087,811.6 970.5,834.7 2155.2,862.5 1485.4,841.4 3157.1,851.7 3188.4,813.5 2951.5,761.5 2692.9,830.6 2943.2,796.2 1019,713.5 691.4,835.4 1550,825.8 3559.1,841.1 2721.2,771.4 3040.5,674.8 557.4,825.6 2098,808.2 2722.5,719.6 2035.3,780.8 283,739.5 1112.7,860.6 987.9,774.3 3480.7,901.4 2978.1,701.8 3568.3,807.2 2828,716 2104,832.8 2345.7,837.6 3436.8,874 2252.5,899.6 1092.6,868.5 2457.4,838.2 2071.2,773.1 1066.7,718.9 3042.3,796.7 3040.6,799.6 3360.8,1069.4 808,755.9 2132.8,845.9 2441.6,858.7 2409.5,835.3 2651,1089.1 3370.9,801.7 913.5,808 2371.1,855.5 971.6,821.7 236.6,756.2 1141.2,813.8 517,748.3 1093.3,857.8 662.9,786.8 1857.2,819.9 3289.6,854.5 2532.9,808.1 2651.5,998.7 1141.2,785.1 2022,744.3 3268.4,756.2 1783.5,834.2 2750.9,775.4 293.8,771.4 645.8,814 430.5,851.8 1265.5,823 3129.6,731.7 3559.1,731.5 702.4,822.5 2226.7,647.8 551.6,801.3 1870.5,806.7 2656.7,881.3 3042.9,810.7 1519,772.3 1681.2,850.9 3188.2,796.4 2197.5,784.4 2225,828.4 1360.3,803.1 3119.7,820.2 330.5,839.1 544.7,785.6 2468.2,764.7 2501.2,927.7 1416.8,792.4 1133.8,868.6 2297,828 3511.3,818.4 1338.5,734.2 2468.2,682.4 2269.4,780.5 2929.4,807.2 1807.8,846.7 2433.2,684 1831.2,794.8 432.2,792.9 333.3,778.7 748.5,754.7 557.1,836.1 693.3,828.6 2660.1,852.1 739.4,783.6 1376.2,794.6 329.3,869.4 743,748.7 1107.6,818.1 2022.2,789.2 1781.8,762.7 1692.1,780.4 1539.1,794.8 3053,816.1 1110.1,842.8 2365.7,702.4 2474,855.2 468.3,766.5 1701.6,765.3 401.1,869.4 2269.4,870.6 2339.5,808.6 557.1,856.5 3554.3,900.7 297.6,980 2465.6,827.8 2696.7,790.6 1220.2,719.8 3371.9,739.4 253.3,820.8 3381.4,805.2 1277.1,707.1 1550.3,789 1583.8,818.7 542.4,867 164.5,848.7 1450.3,771.6 401.1,787 1152.5,807.9 1127.3,838.4 2918.9,970.5 2585.7,898.3 2960.5,811 1881.8,778.8 889.5,843.1 3322.7,793.3 1754.2,723 1933.2,876.8 1512.8,763.9 1171.2,778.5 436,841.9 2592.6,875 972.4,825.8 1216.3,783.9 1178.9,799.8 1819.4,846.1 1141.2,779.6 1079.1,801.8 515.8,762.7 297.1,985.5 2327.6,853.9 1777.7,856.9 1621.8,897.5 3032.2,726.5 2496.8,821.9 1225.2,731.5 2132.8,880.3 3308.5,952.5 540,831.5 302,1026.5 3418.6,813.5 2256.1,809.2 2848.8,839.9 3306.5,1018.3 407.4,714.3 2790.9,866.1 1481.5,809.3 2660.1,847.4 1416.1,815.3 2779.4,918.7 3155.8,852.8 3184,746 1852.4,870.1 331,841.4 2532.9,826 3108.8,810.9 2397.6,844.2 424.1,772.7 1092.6,844.4 926.2,690.5 2101.2,851 3114.3,830.4 1485.4,868.3 1152.5,780.7 897,836.2 2592.2,880.8 1851.6,822.1 163.1,826.9 2095.5,861.1 539.1,901.8 1939.5,1034.4 407.4,824.4 225.9,755.1 1121.7,846.3 3306.4,1079.8 591.8,768.1 492.3,725.3 2101.6,840.3 2634.2,1046.7 1284.6,772 1480.1,809.7 2246.1,831.7 3436.9,785.8 620.9,753.6 897.8,807.5 2233.8,758.5 2411.6,858.9 1220,829.8 490.5,742.3 1115.3,864.7 1773.6,898.6 2168.6,832.7 450.6,791.4 982.1,837.6 1541.3,827 1766.4,830.3 2622.6,811.3 1738.6,814.3 3573.1,854.4 976.1,795.3 1965.4,1068.9 2216.3,822.3 2245.5,824.8 1985.5,786.2 2445.6,848.7 2013.6,822.4 534.4,750.8 1858.2,853.5 3566,779.3 1840,798.3 655,689 1425.1,865.3 3542.9,877.3 334.2,803.8 1964.5,1109 1937.1,893 3429.2,898.5 3008.1,789.9 2604.4,844.2 228.8,773.6 2054.6,736.1 2532.9,795.1 1358.8,794.4 1748.8,856 1833.3,824 3118.2,810.7 1538.2,799.5 286.7,668.7 1241.1,774.4 3524.7,735.8 2034.6,780 1308,826.1 604.4,785.2 2409.5,846.5 3224,809.7 1827.2,866.3 1826.5,849.9 1818.6,853.1 2792.3,873 3483.5,912.9 2256.1,870.7 2163.6,861 300.3,1068 1760.5,820.2 3555.2,905.8 2692.4,814.3 804.3,758.8 228.8,768.6 1809.2,847.6 333.6,818.1 1211.5,824.7 1531.4,684 1941.2,1055.6 3316.1,811.8 348.5,761.9 1340.9,801.9 2030.9,777.6 1181.4,853.8 985.7,846.2 1348.6,764.2 3437.4,907.2 1794.5,768.9 1306.9,863.9 268.4,723.7 757.8,805.2 2734.3,797.6 2239,771.8 3492.5,833.3 2271.6,752.1 3415.2,820 2611,799.1 341,785.1 1887.2,628.7 2399.7,844 756.1,781.3 3103.9,754.4 411,813.2 1168.2,704.9 2527.2,887.6 1606.3,838.1 719.1,784.7 2250.2,884.3 1544.5,836.6 3464.3,906.6 2690,847.7 1432.5,762.3 3519.8,817.1 1432.3,778.3 1756.5,841.3 3121.7,844.1 1106.3,855.7 1535.4,749 3395.7,748.7 3237.4,828.3 1531.5,795.2 2752,844 1659,692.6 1428.6,879 2601.7,846 3073.2,824 3551.9,713.4 2864.1,773.3 1559.7,791.5 750.2,773.4 1128.2,748.2 3546.7,892.5 1134.5,801.3 1181.7,848.5 1829.9,786 2972.8,785.3 3200.7,777.1 2627.9,857.8 1280.3,870.4 2881.6,816.3 3546.7,867.5 3188.4,816.4 434.3,797.1 1087.3,753.1 3314.8,846.9 3464.3,884.5 401.3,852.2 3410.6,861.6 3360.4,1103.7 2030.9,756.6 3305.1,1042 1827.7,847.1 172.3,757.1 3109.9,827.8 1657,772.7 2377.5,745.5 1432.3,751.7 2095.5,786.7 1305.8,823.8 1273.7,875.7 3270.9,838.1 231.1,770.1 953.8,784.5 2566.7,807.1 435.9,822 669.5,797.6 3066.5,832.9 3427,862.3 2142.9,848.1 638.1,740.3 1503.4,736.3 2533.2,824.2 499.2,791.1 3199.8,812.8 2085.1,789.9 629.7,817.3 1822.9,872.8 3188.2,815.8 1094.4,867.6 1128.1,766.2 1415.3,855.6 1675.4,778.5 2690.8,786.3 3571.9,896.5 3462.2,813.6 2710.1,835.3 3513.1,778.9 1450.1,768.1 871.3,808.7 1265.5,808.9 1597,795.2 2811.8,683.7 2848.6,763.7 1175.3,864.7 3364.4,911.1 3453.1,881.7 2531.1,735.3 2732.4,834.1 3224.9,861.9 3153.1,832 1411.4,789.2 1483.2,821.4 3144.6,828.6 3316.1,788.8 2164.4,740 3015.2,794.1 2554.3,876.8 3114.3,818.6 564.5,653.3 231.1,747.4 3211.7,825.3 2705.8,810.5 2139.1,789.3 3153.1,846.4 1110.1,838.8 3241.2,820.6 1120.6,824.9 2799.1,880.6 881.3,811.8 2153.4,819.5 2357.6,811.3 3188.2,809.2 2404.9,800.4 3481.7,836.7 2398.2,793.4 2095.5,808.1 2531.1,779.8 1867.7,852.4 294.1,884.1 2404.9,806.7 2632.8,935.3 3342.6,856.4 1935.7,831.2 808,785 548.2,838.4 266.8,716 2533.2,856 2399.7,841.5 1807.4,797.5 2345.7,836.9 985.7,804.7 2213.1,803.5 2345.7,846.5 445.5,775.6 789.4,749.2 3153.1,843.3 401.1,818.8 1623.9,854.2 1016.5,813.2 470.3,790.4 2345.2,832.5 3509.5,810.8 776.9,798.9 1113.7,831.7 1482.1,815.1 881.3,826 1812.7,857.4 490.5,778.6 193.7,788.9 2905.2,921.6 2698.4,723.8 660.9,712.5 2213.1,839.1 2656.7,879.8 3233.1,741.3 1483.4,842.2 2348,801.5 1349.1,769.3 1621.8,841.2 3370.9,790.7 2984.1,807.7 2929.4,884.5 2538.7,823.6 747.9,663.6 3089.1,823.5 1313.8,786.4 3540.9,841.4 2869.2,718.2 2558.2,866.4 1515.2,817.5 2567.1,753 1657,793.8 1432.3,855 1343.3,782.7 2501.2,775.9 1744.5,826.9 2782.1,888.6 2530.2,839.2 3344.1,835.2 2374.7,839.8 1020.1,676.1 517.5,803.8 1193.6,782.5 2483.6,833.8 889.5,816.6 2300.4,812.8 166.7,855.8 1181.4,815 182.4,808.4 2131.6,848.3 1789.4,795.7 3152.2,850 1627.2,805 2899.4,702.9 3456,848.2 2323.1,697.7 1056.4,784.6 1205.8,807.5 3544.3,834.8 611.1,788.2 3118.2,811.4 1113.7,822.2 2774.2,1090.8 2420.9,823 830.6,810.6 1268.3,859.2 301.3,1038.8 2391.3,855.8 1143.8,822.7 1834.3,855.2 365.1,739 2397.6,834.3 2979,769.7 2417.7,803.9 2696.3,827.2 1606.7,782.7 2238.5,840.8 2468.2,680.7 3375.8,793 911.9,766.2 862.6,817.7 428.8,800 2522.4,950.3 2427.2,810.7 2278.7,717.9 643.5,744.6 1214.8,778.4 1910.7,819 3388.9,830.6 2303.4,748.1 3200.7,817.5 1128.6,811.1 1847.5,863.1 225.6,745 1110.1,830.9 2238.4,826.1 2229.9,757.5 1170.5,832.7 2095.1,858.7 2281.5,699.8 1512.8,811.5 2445.6,881.1 2658.1,825.5 3316.1,843.4 1858.7,820.5 3546.7,859.9 1817.6,799.3 1659,722.5 875.1,809.7 1149.3,742.4 1426.5,838.8 596.9,820.2 2753.2,1060.3 1061.1,815.8 3520.8,855.7 881.1,857 2178.8,832.7 1980.3,826.1 1684.1,745.6 1221.9,794.5 1416.8,794.2 2018.3,834.8 3417.4,774.9 1120.6,824.3 1338.5,735.3 2348,824.2 1873.5,863.2 2416.3,876.8 1107.6,870.3 1024.4,820.6 3221.7,825.7 3230.6,734 3120.9,816.4 2588.2,873.4 3448.4,861.4 568.4,828.1 1116.4,873.1 816.9,793.8 3399.5,772.4 2224,840.8 3466.5,870.8 2409,837.6 1122.9,828.4 809.5,862.2 1611.9,860.6 2811.8,710.5 2443.4,853 1903.2,739 2359.7,731.7 883.3,870.3 1638,824.7 478.2,788.6 2241.5,802.1 3572.1,908.3 3108.6,821.7 2896.9,860.1 2498.1,863.2 2556.9,830.5 3568.2,861.5 512.3,759.3 1291.3,842.8 2750.9,920 2095.5,796.4 3007.4,781.8 210.2,772.5 807,862 2600.5,737.1 3370.9,825.5 1783.5,860 3125,784 1090.7,812.2 586.3,804.2 176.5,812.3 2095.1,856.1 1398.4,756.4 2203.9,790.7 2095.1,838.1 986.7,843.1 1754.2,840.1 883.3,850.7 2005.9,798.9 3031.6,736.6 2481.4,783.5 2540.4,867.7 3164,740.8 508.4,787.3 3555.2,876.2 2655.1,911.6 1432.3,828 1804.7,759.2 586.3,773.2 2132.8,843.9 2807.8,767 1803.1,798.7 2085.1,770.4 2020.3,795.9 1170.1,838.9 2604,829.3 3119.7,817 1248.7,805.1 1075.2,835.8 3504.3,821.7 2173.9,728.6 960.9,683.5 3523.8,854.5 3008.1,785.9 1852.4,831.8 2445.6,840.5 3489.4,869.1 1608.5,845.1 672.2,819.5 3256.9,807.5 3277,728.8 2925.9,829.7 3556.6,836.8 2399.7,870.6 3109.9,763.2 973.4,808.9 1166.7,820.1 2718.4,796.5 1180.9,809.8 1918.4,748.2 694,798.1 1805.6,850.9 551.6,820.7 957.5,747.2 2229.9,788.6 534.4,817.7 3483.5,833.1 1374.9,778.6 2848.6,770.4 407.1,841.8 1805.6,712 1416.3,892.5 2419.8,858.3 925.1,794.2 3112.8,833.3 1676,806.2 2022,772.2 2604.4,843.1 2533.2,839.2 927.1,729 684.2,769.5 387.1,770.7 923.5,791.1 1452.8,709.3 2601.7,861.4 2364.9,875.2 3259,788.5 2132.8,865.3 1599.1,793.9 2472.5,817 3068.1,760.7 1445.8,797.1 1061.1,831 413.3,768.3 1870.5,785.4 551.6,829 1643.7,716.1 1305.3,816.6 850.9,775.6 357,793.4 231.1,796.4 2779.4,820.3 806.1,860.8 1115.3,847.1 2069.9,728.1 1858.2,841 1412.3,859.9 3103.2,821 3446.9,855.5 973.8,822.6 2684.5,839.7 3343.7,915.9 1120.6,811.1 333.5,788.1 3316.1,815.5 1092.6,784 1281.2,841.5 3129.9,747.1 2943.1,784.2 1451.7,790.5 1550.3,834 783.4,765.3 2532,822.7 3064.2,850.4 2788,855.9 3121.7,847.5 2608,774.9 2374.4,838.7 3307.6,999.2 1441.2,781.7 699.2,845.3 300.7,1019.7 3188.4,827.1 2593.1,804.9 2835.4,842.5 748.5,788.5 1734.6,746.9 1360.9,783.1 3556.6,881 3109.9,724.6 2532.9,805 480,716.9 668.2,815.5 1605.7,847.9 3341.7,839.8 2686.9,837.5 2951.5,757.7 3392.6,676 3308.5,949.6 1284.6,720.6 3156.9,747.9 609.8,800.1 1701.6,777.2 2306.7,738.7 1550.3,804.8 1199.1,751.1 1016.5,748.6 780.9,712 3526.5,844.6 2889.4,807.5 420,856.2 3048.1,802.8 1308,711.8 2465.6,715.8 2136.4,876 2131.6,836.5 1423.8,889.1 977.9,826 354.2,765.3 1858.2,867.3 3288.7,844.5 1243.3,806.5 2459.6,765 2213.1,830.2 1311.5,743.2 2590.1,824.4 1397.8,763.5 187.8,749.8 3118.2,716.6 862.6,804.7 790,798.9 2141.6,701.1 3364.2,925.9 2807.8,776 970.5,830.9 2046.7,754 1220.2,839.9 3403.7,867.3 401.1,783.1 1133.8,787.2 3208.5,734.5 1380.9,800.5 2503.8,1027.9 576.6,799.7 1788,773.9 1464,802.9 2258.7,860.1 2554.6,848.3 3052.5,736.4 325.1,1038.6 2236.2,719.1 2308.8,803.1 923.5,774.2 1852.8,819 402.6,828 1076.2,685.7 1093.3,816.7 691.4,841.8 2779.8,917.1 1244.4,738.6 1437.4,668.2 2085.1,784.3 481.8,743.7 808,838.2 557.4,841.3 812.5,832 1360.9,794.9 702,834.9 1740.7,848.2 1051.2,797.6 436.9,818 219.7,752 2679.3,796 1282.4,887.2 557.1,840.8 1753,842.5 3057.4,859 3453,886.4 3314.6,815 2321.3,828.3 2632.1,903.9 1623.9,878.1 1816.3,839 1570.2,754.7 997.7,783.2 268.4,744.8 1128.1,845.2 1918.7,770.8 2062.9,758.8 2590.1,815.1 352.7,806.9 3015.2,784.5 1128.1,842.2 893.5,839.4 2409.5,880.4 2745.8,871.8 3464.3,856.9 1807.1,866.7 3110,775.5 1770.5,807.2 1360.9,788.5 3370.9,785.3 1659,675.3 388,828.9 3487.6,899.5 3498,906.2 444.7,832.7 1660.7,800.3 2110.4,675 2835.4,841.3 1416.8,762.3 259.2,802.4 3187.4,814.5 436,764.6 1770.5,779.3 1662.7,736.2 2380.1,768.7 926.2,743.3 2451.5,839.6 1940.4,1003.7 1550.3,798.3 3464.3,902.8 1873.5,803.3 926.2,745.1 1150.5,801 2119.1,724.1 3463.2,890.3 1110.1,824.7 1887.5,795.2 3065.5,804.7 1770.5,744.5 1104.4,873.4 3188.4,800.7 2143.1,808.8 3317.6,770.1 2708.6,775.1 1851.6,801.7 618.9,792.7 2366.4,833.6 325.5,1003.3 2872.3,787.8 1829.9,791 1849,850.6 1194.1,732.9 2447.2,814.3 1710.3,816.3 1966.3,1009.6 2483.6,801.7 2745.8,866 3052.5,733.7 3240.7,791.6 926.2,780.7 1306.1,824.3 2631.8,943.7 815.5,828.9 2085.1,777.1 2397.6,845.3 1279.5,817.2 1177.8,723.3 2745.8,824.7 1674.6,824.4 3546.7,833.4 629.7,826.7 3468.2,904.1 2678.4,782.1 2331.8,848.8 407.4,760.2 2831,805.4 2622.6,747.9 1782.4,833.8 3239.5,733.1 548.2,874.3 2258.7,838.6 2773.2,990.7 2496.8,866.2 2929.4,847.1 3531.2,838 3427.6,819.5 2115.7,765 1454.6,771.3 3476.8,841.6 3145.8,741.6 2956,762.7 1410.6,859.8 1475,804.8 3118.2,801.7 1162.6,694.6 1234.7,673 1859.4,860.6 2246.3,863.9 3308.5,949.1 1255.9,760 193,793.9 556.7,820.3 3206,809.3 2724.9,820.1 1529.2,816.9 2142.9,846.8 2795.2,626.6 2848.6,771.9 431.3,858.2 735.9,774.9 1631.9,731.7 990.3,809.1 2434,757.4 1591.5,814.1 300.5,1063.4 2445.6,836.6 1755.3,826.1 1653.3,734.9 2427.2,802.6 2191,759.8 3069.9,757.6 923.5,825.6 296.7,972.4 885,839.4 3146.9,836.9 430.7,831.4 1918.4,742.3 1862.5,856.6 681.9,720.8 1452.1,753.9 1173.4,857 881.3,856.8 1327.8,781 2138.4,828 1459.7,795.4 1064.8,803.6 2745.8,869.6 658.4,792.2 1818.7,852.2 1570.8,780.2 1551.3,788.4 2031.8,798.9 2585.7,865 2000.3,793.4 434.3,854.1 2457.4,821.4 1782.4,844.6 2474.4,826.8 636.6,668.4 225.9,787.3 2783.6,884.7 2271.6,770.2 916.6,835.2 2319.8,819.6 1066.3,803.1 2228.9,795.6 1340.9,762.2 3559.1,768 1448.7,792.2 943.8,840.6 3244.4,832.3 1853.6,776.8 3566,810.2 1306.9,852.3 1410.6,792.3 2537,778.5 1815,829.8 980.6,804.7 951,800 3404.2,823.1 3334.9,685.9 556.7,880.3 1834.3,863.6 2071.2,797.4 2049,787.1 3224.4,777.7 3316.1,830.4 1208.5,816.6 2962.9,773.5 2581.7,826.2 2256.1,875.1 461.5,798.9 3571.2,906.9 1450.2,778.9 2825.6,804.2 3188.4,792.6 2929.4,806.2 835.2,778.6 2493.1,812 2377.3,852.7 1613,844.9 1482.4,848.1 3561.1,829.6 3446.6,877.9 515.6,639.2 2284.2,680.7 3069.2,865 2222.6,830.6 547.9,879.7 2139.1,807.8 162.9,849 1079.1,798.8 616.5,804.7 3239.1,806.1 3427.6,805.9 1856.2,837.5 764.3,790.5 2872.3,797.3 1633,807.3 2173.9,743 3371.9,807.2 855.7,680.1 1040.9,738.9 3000.7,806.9 993.2,793 1176.6,841.5 2196.9,744.1 1141.8,833.7 2560.2,776 1319.6,681.8 2315.9,803.9 1169.5,843.5 1896.8,761.8 2686.1,770.4 3566,808.4 2345.7,827.7 2417.1,862.6 1463.8,765 2701.9,836.8 970.5,821.4 1349.5,713.7 852.4,774.6 2125.6,769.2 748.5,794.2 1770.5,805.3 1110.1,886.8 2502,859.5 180.7,803.9 2804.2,816.8 292.3,840.7 2586.1,809.6 1544.5,837.4 1818.6,864.5 2627.9,810.6 3448.4,817.1 793.4,758.7 1438.8,784.6 2139.1,783.2 3004.4,782.7 796.7,746.3 2496.8,820 3499.2,892 2652.1,1028.4 431.3,852 1361.8,788.6 2750.9,958.2 2101.2,838.9 3536.2,759.9 2875,773.1 3306.5,1062.6 634.3,807.9 1265.5,763 2457.5,871.6 2943.1,816.8 643.9,855.5 2099.2,731.6 576.6,804.1 1370.1,754.7 1579,825.7 3308.5,912.8 3088.6,768.5 2807.8,786 928.2,769.8 2145.8,789.3 2213.1,833.5 1479.3,756.2 2668.5,802.2 3404.1,845.9 986.1,837.2 3248.8,685.5 1539.1,821.3 1880.4,702.9 1338.5,732.2 511.4,759.3 3343.7,886.9 297.3,886 1609.8,805.5 1873.4,867.2 804.4,834.1 3004.4,736.2 2524.2,1013 1701.6,770.5 2774.2,1108.3 816.9,774.6 2746.9,791.1 1932.2,841.9 3559.1,703.2 3121.7,782.9 1563.4,750.4 881.3,826 1306.9,707.8 3289.8,956.2 1225.2,731.9 182.4,802.6 836.1,797 2930.5,858.4 225.6,757 2203.2,782.8 2532.9,852.2 244.9,782.9 1825.1,854.3 1586.7,735.6 3493.6,883.9 2699.9,832.6 3065.5,859.5 2178,832.2 1716.6,809.6 3164.7,779.5 3134.8,735.1 3572.7,915.5 225.6,725.5 233,813.8 1450.3,722.7 882,825.8 2593.9,754.5 401.1,794.9 1110.1,830.7 2166.4,831.7 1416.1,791.3 2814.7,708.9 2935.3,808.1 909.7,784.6 3200.7,738.4 1539.1,773.5 749.8,713.7 2531.1,859 477.1,749.8 1655.9,815 1515.2,818.1 1037.4,750.7 2592.6,809.7 1269.9,866.9 3559.1,810.7 3208.1,793 2843.6,799.1 1443.6,674.7 1284.6,807.7 2628.8,840.8 1261.7,743.3 1646,812.4 1541.3,757.1 2303.4,722.3 2331.1,751 3369.6,742 1687.6,816.6 2303.4,790.2 400.5,867.6 1662.2,717.4 3427.6,888 1462.9,772.5 3178.4,759.7 650.3,813.1 3234.1,777.4 1883.1,786.9 3536.2,818.5 2935.3,771.8 1976.1,787 276.7,686.4 359.5,708.7 3158.4,758.5 1374.9,795.2 2804.9,769.7 953.1,762.8 1299.8,855.2 2245.5,867.5 2346.2,684.9 925.8,830.2 3343.4,898.1 1428.2,864 3210.1,810.2 1143.7,796.4 3542.1,874 430,828.2 445.4,843.9 2011.7,807 897,799.2 2721.5,786.5 542.3,876.4 3144.6,818.9 3410.6,848.5 2864.7,648.9 1066.7,719 655.1,814.2 432.6,850.1 3371.9,758.3 208.1,797.6 2811.8,720 880.6,827.7 2102.1,817.4 3100.4,805.5 2173.9,715.7 1504.8,804.8 3340.7,827.3 3105.1,769.9 1104.4,860.1 2037.7,776.5 1769.9,865.2 434.3,815.7 3306.3,983.6 2106.2,834.1 478,789.5 2531.1,755.6 2197.5,793.1 856.9,793.9 2150.2,820.7 760,672.4 636.5,752 2811.8,758.8 3488.6,898.6 1164.5,861.3 2922.2,847.1 2905.2,912.9 3252.4,816.5 568.2,834 912.7,809.7 783.4,795.2 881.3,835.1 2131.6,831.2 757.8,790.5 1870.5,802.2 2779.4,946.6 2502,958.6 3512.2,866.2 2833.9,853.9 1241.1,824 3068.2,866.3 1599.1,794.5 3211.7,850.7 1964.5,1025.4 3543.4,778.1 2664,796.5 2525.4,950.3 1237.2,730.7 1747,842.7 1873.5,838 1504.8,795.9 573.2,841.1 427,720.8 3001.8,771.6 1920,822.5 2101.2,826.9 2869.2,769.5 1634.9,807.5 3155.8,840 2811.8,719.9 3114.3,842.9 3504.3,878.3 1412.3,795.8 3546.7,816 1984.1,766.5 326.3,955.6 481.8,769.4 2159.1,863.6 3085.4,798.3 2502,890.4 3342.4,790.1 2216.3,775.3 2799.7,763.6 2563.2,852.6 1360.9,751.5 527.4,690 2479.9,770.8 2190.3,836.7 1665.3,782.5 351.5,771.5 481.8,748.1 1340.9,779.8 3153.1,848.8 1777.7,819.4 1416.8,768 517.1,799.8 2815.7,806.7 962.7,808.5 1432.3,813.7 1420.8,846.4 1099.7,844.3 1827.2,805.3 1858.2,861.4 3038.5,808.7 1692.1,771.3 2132.5,870.8 691.4,855.5 432.6,867.1 1971.3,938 2238.3,820.7 3464.6,877.3 1514.8,789.4 2085.1,800.6 2599.3,782.6 1997.2,750.5 468.3,781.8 2096.4,840.7 2811.8,800.7 2069.9,755.8 1270.4,869.1 3274,783.4 3431.4,864.1 1822.9,842.9 951.8,817.5 3326.2,761.2 2601.7,752.2 691.4,837.6 1927.2,831 1641.4,809.1 1340.9,807.9 1477.5,780.2 970.5,784.6 283,754.2 2779.4,926.3 897,811.1 1659,715.5 3287.3,769.7 1161.8,769.4 3224,829 2922.2,849.6 2404.9,880.4 2130.5,782.4 3131.9,816.5 3042.3,766.9 1432.8,831.1 2355.8,767.7 2459,828.9 2062.9,762 2229.9,722.3 808,847.5 2975.4,835 3371.9,771.9 2142.9,843.7 1701.6,803 2497.8,878.7 1657,745.4 2399.7,843.7 3135.3,699 1687.8,741.8 616.5,772.7 2065.8,790.4 2712.7,840.2 3512.2,869.1 2347.5,736.6 3571.9,874.9 1450.3,809.9 524.2,740.4 2896.5,851 2131.6,817.5 3542.1,888.5 2833.6,839.6 1624.3,725.6 1881.8,806.2 829.6,802.9 3088.6,743.6 2695.8,737.6 3153.6,822.1 2303.4,761 3505.4,871.7 1062.7,753.3 2445.6,846 2132.8,823.2 2474,842.7 1939.9,1021.5 765,784.6 1134.3,788.9 2588.2,799.1 1561.3,704.6 261.4,784.7 2373.7,868.9 2020.3,792.8 2391.4,761.9 3464.6,879.6 3040.5,806.3 1976.7,769.4 2523.4,1021 1313.1,696.9 275.9,703.7 1726.8,740.3 2109.8,743.6 1290.5,848.3 1827.2,843.7 2607.6,888.5 3035,792.5 2799.7,776 2176.4,820.9 2972.4,742.3 2228.7,800.1 2652.1,991.8 3463.4,791.7 1920,837 3556.6,835 951.8,792.9 3341.7,884.8 3524.8,789.6 2164.5,830.9 1822.9,818.3 715.6,761.4 1512.8,767.5 1220.2,808.1 3465.2,858 2166.4,841.9 3410.6,812 2049,783.6 556.7,842.5 1805.6,860.2 2705.8,827.1 3006.8,716.7 1112.7,868.3 261.8,709 3000.7,674.2 652.2,837 2545.2,834.6 3343.7,947.9 2984.3,724.4 1777.7,839.8 3133.6,767.3 333.5,866.5 1312.8,795.4 1178.3,822.7 1870.5,836.9 2388.9,827.7 3287.3,834.3 1110.1,873.4 1111.8,874.3 1606.3,853 1606.3,853.9 2240.6,842.4 3520.8,888.9 3453.1,855.5 1849,787.2 2790.3,844.4 3259.1,724.8 3137.2,808.7 2533.2,855.2 2690.8,794.3 540.4,810 3276.9,825.5 2399.7,848.9 432.6,845.2 3547.6,809.2 1660.7,795.8 2531.1,732 1078.4,815.8 1349.5,765.4 3403.7,848 922.8,759.2 643.1,867 683,788 244.9,806.8 1709.4,775.6 1499,820.6 1803.1,791.9 2474.8,851.7 2783.6,847.3 432.6,852.1 2595,865.5 2842.5,715.2 3375.8,737.3 2979,785.5 3077.5,824.6 2397.4,852.3 925.8,812.7 539.7,847.4 3404.1,842 1151.8,729.4 3551.9,832 1941.2,1045.7 3141.1,809 3413,823 3489.4,901.6 1093.3,840.3 3481.7,890.3 1822.9,808.6 559.4,790.1 503.3,829.3 2266.4,915.8 2415.6,835.5 3462.5,783.7 390.5,841.4 1943.6,973.8 2178.8,844.4 3389.1,812.3 548.2,832.4 2698.8,780.1 535.6,884 1087.3,812.2 333.5,786.2 3343.6,957.1 1093.3,877.4 1827.2,831.9 244.9,796.7 752.5,751.2 1110.1,844.1 2186.4,843 2533.2,857 3109.9,700 3210.2,818.3 2357.6,837.7 802.8,811.5 3464.3,910.6 2549.9,836.5 2459,834.5 2037.7,777.8 2303.4,765.4 1120.6,800.1 182.4,792.3 1847.5,864.4 1920,826.3 979.2,627.7 1211.7,850.7 406.9,786.3 219.7,694.7 2586.2,854.2 1290,858.2 1621.8,834.4 3370.4,826.2 275.9,682.8 1337.6,745.4 1623.9,824.5 273.7,791.8 3443.4,796.5 1428.2,845.5 3200.7,717.9 1412.3,791 2871.6,811.3 2256.1,831.4 1939.1,954.6 3544.3,885.2 1308,833.8 2880.2,813.3 1834.3,804.1 2749.3,861.6 2531.1,692.4 430.5,825.9 2723.5,730 3573.1,942.8 3316.1,824.1 2245,835.9 2282.6,799.3 537.5,829.9 2256.9,679.5 2290.8,749.1 1628,756.2 1847.5,854.2 2979,807.2 3369.6,821.2 2704.2,800.7 3546.7,876.5 748.5,742.5 1281.2,828.3 949.6,833.6 1963.3,1100.7 1284.6,702.8 3411.8,797.4 548.2,809.1 563.7,801.7 333.3,849.8 614.2,728.5 1682.6,708.9 2698.4,799.2 2542.4,830.5 1141.2,782.3 1692.1,774.2 1494.3,874.4 2491.8,839.7 904.9,742.2 616.5,741.5 3499.7,910.9 2406,783.2 3322.7,776.5 3109.9,847.1 1747,809.5 1087.4,754.2 3511.3,868.5 2531.1,718.5 2271.6,840.8 2608.2,876.5 2219.8,705.4 557.4,821.7 1777.7,845.5 3492.5,858.7 2392.2,835.2 2357.1,782.2 1775.1,874.3 1425.9,900 3210.2,832.3 2504.2,1027.4 1159.4,711.7 1132.4,850.3 2269.4,891.7 1043.4,832.2 1416.8,884.7 166.7,728 1246.2,766.9 2229.6,836.4 3360.2,986.7 3511.3,812.3 461.5,784.1 1078.4,739.5 2777.9,926.4 2409.9,785.9 217.1,791.6 196,764.2 172.2,800.3 2348,806.8 2271.6,683.1 297.4,941.7 3573.1,953.1 1756.2,629.3 1338.5,749.5 2799.7,863.3 1439.5,777.1 3316.1,834.6 2698.4,754.9 1658.6,757.9 3343.7,866.2 2828,788 2377.5,869.1 3153.4,771.3 1834.3,836.7 845.2,816.3 1682.7,832.9 1942.7,960.6 2150.2,807.7 3543.4,847 1391.7,765 1783.5,880.7 1744.3,774 854,800.7 1911.1,818.6 3511.3,845.2 2593.1,843.1 2991,810.3 2303.4,778.8 2628.8,792.2 2376.5,824.2 1831.2,824.2 1451.7,761.9 2853.9,780.5 1865.4,815.2 2293.5,799.1 3176.6,759.8 2963.6,843.1 1432.3,802.5 2480.4,822.4 2600.9,844.4 1872.4,825.3 1132.4,804.4 265,812.1 1410,805.9 203,702.8 2783.5,817.7 2843.6,740 1432.3,753.5 1305.9,836.9 2049.7,798.6 2501.2,801.7 2319.8,852.7 3052.5,736.2 1030.5,774.1 2391.4,764.6 2391.4,843.4 1041,811.3 234.5,664.9 2201.3,788.6 672.4,768.3 1689.4,817.1 267.6,789.7 3443.4,789.3 3188.2,824.4 1867.8,820.5 2345.7,830.5 1087.3,683.7 2444.5,881.3 2391.4,831.9 1485.9,864.2 3573.9,937.1 2395.5,814.6 680,820.5 2441.6,851.1 3536.2,815.8 1621.8,865.2 855.7,808.8 2962,753.1 1132.9,824.4 2271.6,852.9 334.2,808.9 431.3,856.3 1674.4,840.4 897.8,848.3 291.9,862.2 2698.4,769.8 259.8,828.2 3403.7,839.2 1164.1,838.4 3561.1,774.4 2139.1,840.4 1659,743 556.2,873.1 1302,869.9 2755,1109.6 3531.2,850.2 1104.4,843.9 2825.6,819.7 845.8,811.8 1931.8,839.8 1831.2,839 1324.5,804 1113.7,839.4 885,834.2 2948.9,733.4 3269.6,829.8 2750.9,959.8 3185.2,799.6 460.7,790.7 1980.9,829.3 3068.2,835.4 1629.7,792.7 691.4,840.8 1175.4,834.6 214.1,711.8 1873.5,848.3 2698.1,807.7 629.9,838.4 1941.1,1055.8 885.2,876.7 694,838 757.8,801.1 3476.5,839.1 1727.9,808.4 2631.8,913 2397.4,876.9 1019,761 2433.7,773 926.2,701.6 1128.1,739.3 2096.4,859.3 1066.3,798.3 1281.2,834.4 3526.7,845.7 1864.4,765.9 2020.3,828.1 2342.3,835 651,831.3 2127.7,762.6 655,790.4 429.2,843.5 2906.1,961.9 1275.1,880 247.7,789.4 1969.1,944 3108.5,840.9 2241.5,800.7 1120.6,828.6 2745.1,793.8 2173.9,690.2 921.8,836.2 1104.5,819.6 2157.6,832 1450.1,796.2 2132.8,825.2 2269.4,834.7 1411.1,878.4 3210.6,815.9 3118.2,735.7 1939.5,1016.1 3029.5,709.1 674,772 3487.7,858.4 3222.6,805.1 2586.1,847.7 2501,923.8 1281.2,818.6 941.9,828 2142.1,795.3 1870.5,787.8 3364.9,825.2 2031.8,798.7 2521.8,1032.9 2378.5,813.9 3538.3,878.6 326.6,898.2 1209.5,771.2 3208.8,867.3 691.4,807.5 2700.2,815.3 1220.2,765.4 3152.2,838.5 1599.1,791.8 1091.8,792.1 1220.2,797.1 1623.9,844.5 1642.8,784.1 2776.3,1010.7 3000.7,761.6 196,727.1 1347.9,805.6 3118.2,789.3 984.2,795.7 2604,822 1932.2,848.5 2779.6,930.1 556.3,790.8 1092.6,856.6 407.4,844.9 2753.4,1037 2142.9,867.3 1177.8,837.7 3464.6,750 2660.8,774.4 3526.5,850.6 2976.3,817.1 889.1,835 619.2,661.8 1822.9,846.9 2792.3,841.3 3308.5,933.2 3417.4,821.8 361.3,687.7 1682.7,841.2 3286.1,830.2 1776.3,850.9 2799.7,744.3 3493.7,889.5 1485.9,718.1 3370.9,811.7 810.4,842.9 2209.2,809.7 897,745.9 1827.2,826.4 2135.2,793.2 2063,785.1 2783.6,881.5 3135.3,823 1482.5,813.8 3566,814.4 925.8,776.8 542.3,903 1160.8,747.9 2283.9,779.7 3371.9,820.5 168.6,812 3052.5,793.7 2539.3,797 1702.3,770.6 1606.3,799.6 2976.3,820.5 450.6,803.9 1984.1,723 557.1,874.7 1451.9,743.1 3341.9,856.6 2297,776 291.9,866.7 3118.2,780.2 2712.7,805 1830.3,824.9 326.6,878.2 3083,805.2 594.1,737.3 862.1,782.1 436,831 1450.1,776.3 1822.9,774.8 1727.7,825 3068.2,831.4 892.1,774.9 1676.8,771 1338.5,747.9 2465.6,811.4 2133.4,833 3308.9,981 2081.1,798.8 2532.9,801.3 196,751.2 1417.7,828.4 1887.2,779.3 1583.8,802.4 578.8,818.2 1019,696.9 970.5,823.7 1134.3,841.9 1881.4,720.4 3526.5,875.9 3066.8,808.3 994.9,646 450.6,724.2 1805.6,836.7 522.5,779.5 450.6,820 2071.2,800.3 2776.3,1050.5 2493.1,835.6 1720.6,805.4 2947.5,804.7 3307.2,1026.5 1170.5,862.4 3531.2,838 3530.7,681.5 2132.8,860.5 3057.4,844.9 2555,839.4 2190.3,822.2 348.5,823 3544.3,832.5 1282.4,775.5 897.8,791.7 1524.7,733.9 2520.4,1104.2 2574,792.2 1209.3,848.4 2445.6,827.8 2049,745 556.7,890.6 3288.7,934.6 3094.9,808.8 881.3,852.1 534.4,765.9 2269.4,761.6 2988.9,680 2439.3,775.4 3343.9,947.9 548.2,874.8 2256.1,894.7 1935.7,851.7 2224.1,744.3 2406.5,692.4 867.8,769.4 1128.1,635 2629.4,883.9 1383.5,783.6 2131.6,790.6 2631.8,844.5 1931.7,825.2 3334.9,799.7 2450.1,856.3 1874.4,858.4 2952.7,774.2 2531.1,790.3 2792.3,868.2 1829.9,801.7 1429.9,773.6 2321.3,767.8 1621.8,855.8 510.3,823.4 2531.1,709.1 2698.1,836.1 1964.7,1088.5 400.4,825 3287.1,812 793.6,816.1 2660.8,804.9 2866.9,676.4 2952.4,767.4 1979.9,843.8 490.5,779.1 1484.6,847.1 333.5,812.6 1829.9,856.6 2238.5,784.2 352.4,817.7 782.7,791.7 1770.9,854.1 2256.9,906.7 2409.5,878.4 2565.5,780.9 1786,838.6 1281.2,795 804,766.9 2807.8,762.9 1477.5,773.9 1822.1,802 2496.8,822.4 3491.8,907.9 1705.7,749.6 257.1,814.2 1829.9,839.7 3065.5,829.1 2531.1,738.9 3483.5,907 2338.7,849.6 2699.1,792.2 2921,793.2 3118.2,796.4 2068.4,744.4 1416.8,857.3 925.8,803.1 3526.7,874.5 2605.2,877 1561.3,786.2 3531.2,846.3 2774.4,1111.6 695.8,804 352.7,793.5 1432.3,868.4 1386.1,714.9 951,847.4 2456.6,822.7 1141.2,792.6 2229.9,825.1 1614.3,869.6 1685,837.3 1787.6,813.8 3200.7,746.6 2288.8,824.1 638.2,823.8 1416.8,852.4 1853.6,840.2 2242.8,680.1 2150.2,829.2 2139.1,868.1 3129.9,809.9 514.4,800.9 3019.1,671.7 1873.5,808.2 889.5,829.8 1865.3,853.1 2846.3,636.3 1066.7,685.4 568.5,805.7 2468.5,855.6 1818.6,855.1 1256.6,803.5 540,890.6 2622.6,804 646.3,795.2 2522.8,1042.7 3014.2,773.3 1559.3,811.4 1482.8,759.1 860.8,794.6 1052,841.2 432.5,862.6 906.2,716.4 297.6,998.8 2373.7,838.7 3403.7,859.6 2897.8,693.2 3105.4,806.8 390.5,846.4 606.9,653.6 3118.2,754.1 2705.8,812.2 2150.2,834.9 1770.5,683.2 2465.6,837.4 3474.1,906.1 2834,834.5 3572.6,896.4 3422.8,833.5 1944,1095 274.7,728.9 1681.2,851.3 2292.6,726.3 1225.2,737.4 951,792.5 2905.5,952.4 3118.2,818.6 2901,850.4 1482.5,854.3 274.2,740.3 3153.1,849.8 693.3,647.4 583.8,781.7 2652.2,1026.5 196.7,811.1 1871.6,816.9 1268.2,750.1 1428.2,887.6 801.1,807.3 1106.1,837 2899.6,750.2 1822.9,832.2 3290.1,863.5 2178.8,828.4 2099.2,863.1 1449.7,766.9 1550.3,818.7 1881.8,786.7 1966.6,971.5 3504.2,851.7 540,829.5 3289.8,873.5 3572.9,895.7 359.5,701.2 2561.3,840.7 331.9,863.4 3211.7,833 209,809.4 3531.2,866.8 1563.3,779.2 281.3,800 1291.3,871.8 417.9,862.5 1208.5,842.1 373.7,737.5 2680.6,759.8 2987.6,794.4 1685,720.8 513.3,832.5 1575.8,754.7 388,870.9 1906.6,804.9 1512.8,796.2 3536.2,774.9 2804.9,806.2 2665.4,789.7 1870.5,822.9 1428.2,864 806.2,867.9 2109.4,831.8 3516.8,834.9 1166.9,851.7 1657,730.8 2213,834.3 3161.4,803.3 3369.6,839.5 2869.2,740.8 2075.6,777.4 1410.6,858.2 1465.2,641.4 2069.9,790.9 2409.5,862.6 1416.8,851.1 3120.8,861.2 710.1,725.7 2705.8,800.6 439.3,844.5 790,806 1858.7,803.8 346.2,692.1 3033.8,789.5 2732.9,795.6 1410.6,852.9 2020.3,827.8 3563.9,838.8 1432.3,873.5 2390,849 333.5,846.1 1821.9,861.5 568.2,833.4 1521,755.3 1208.5,806.7 504.5,834.7 3531.2,869.5 2118.7,774.8 2859.8,667.9 1920,824.7 2062.9,757.5 966.4,815.2 3476.8,847.4 2131.6,858.9 1141.2,806.5 2062.9,802.6 3071,813 1935.7,819.2 1736.2,802.7 3078.3,706.3 302.1,1044.6 1939,930.5 2190.3,806.7 1861.9,796.5 2533.2,858.9 3188.2,782.6 2504.2,1061.6 3484,884.4 1485.3,831.8 1633,739.9 1507.5,747.3 1139.6,824.5 1867.2,759.3 1221.9,746.8 1370.3,745.2 1230.4,776.3 3003,806.6 1621.8,829.1 503.3,817.9 578.8,837.1 2921,918.9 1811.9,813.1 506.7,823.5 242.7,812 352.8,737.1 2095.8,814.7 1410.6,823.5 2131.6,838.8 240.9,702.4 3157.6,863 538.5,862.6 1141.2,810.4 3063.6,802.4 1428.2,874.6 1069.2,705.9 592,746.3 2664.3,683.8 1078.4,786.2 1308,813.4 1284.6,808.1 3343.7,958.9 1087.4,783.8 388,856.8 434.3,787.9 2020.3,792.8 2540.6,815.6 3109.8,838 490.5,744.2 1927.2,836.2 2749.6,768.8 1822.1,843.8 359.5,721.6 1456.7,779 2005.9,814.3 3464.3,850.4 3121.7,815.8 3523.8,878.1 2531.1,815.4 655,816.5 2690,837.8 3153.1,847.9 538.6,824.3 1529.2,823.6 1220.2,696.9 2955.8,757.4 867.8,757.7 2656.7,830.4 2929.4,784.1 2531.1,736.1 767.5,788.1 1727.7,823.1 1853.6,859.7 3572.9,872.2 3536.2,717.5 1906.6,795.6 3516.8,871.2 253.9,752.4 2433.7,777.6 407.4,843.1 2000.3,800.3 1657,734.5 2245.9,786.2 1220.2,699.2 2807.8,764.7 974,768.9 3057,827.7 1446.5,777.5 1786,848.5 1268.5,883.6 3463.6,917.1 1391.7,783.1 3211.4,858 1984.1,698.1 441.8,806.9 1873.5,862.2 2153.8,832.5 2811.8,775.1 2660.1,860.1 2360.8,819 3000.7,706.3 3517.1,886.9 579.6,835.2 3410.2,838.2 167.4,836.1 2779.3,860.9 1736.2,817.3 2345.7,804.8 2975.4,829.4 1190.6,755.9 1019,718.9 3521.6,857.5 1856.2,834.6 2030.9,791 3550,848.4 3021.7,724.8 2593.1,832 1830.4,768.8 3402.2,791.5 3465.2,817.8 1339.1,672.9 2062.9,810.5 359.5,779.7 2406,853.5 1125.9,838.9 1060.6,707.4 1803.1,801.1 897.8,814.5 2069.9,779.6 734.5,756.7 164.5,799.8 867.8,818.9 1829.9,810.1 2496.8,806.1 1969.7,954 1881.4,789.1 1115.3,772.4 2338.8,830.2 1281.2,854.9 2705.6,809 2345.7,826.6 1865.8,845.8 1163.1,850.9 1850.2,820.2 591.2,783.7 867.8,754.6 572.3,812.7 228.2,774.9 1770.5,878.6 3210.2,848 3211.7,837.1 1863.4,839.4 2524,977.3 1918.4,802.2 1412.3,800.9 926.2,734.7 2979.9,783.5 3114.3,830.2 274.2,769.2 3370.9,831.8 2698.7,658.8 683.3,771.6 1474.9,774 1711.5,763.5 226.8,783.3 2843.6,820 2478.5,754.1 3144.6,821 2968.4,797.9 2243.6,757.5 427.8,848.2 1709.2,767.7 2348,821.1 3361,1039.5 2062.9,810.9 3276.4,823.1 3086.1,783.5 1606.3,853.2 1450.1,796.3 2660.8,827.4 1358.8,816.7 2448.4,795.8 3027,800.7 2573.1,820.6 3311,892.2 2336,848.6 1482.5,807.3 538.5,826.7 3188.4,787.6 1916.4,835.3 1674.4,850.7 275.9,705.5 1110.1,851.1 2269.1,885.6 1967.3,1028.2 951,630.4 3160.9,805.5 1322.5,790.8 1599.1,823.1 2553.6,644.6 2229.9,753.3 2634.2,1031.5 2700.2,809.6 346.2,788.3 2306.7,733.1 2929.2,856.3 3333.5,807.5 3155.8,846.1 804.4,820.1 3492.8,816.1 1638.3,687.6 797.2,739.4 490.5,754.6 1667.8,782 866.8,787.2 1659,744.7 867.8,761 3308.5,910.3 2317.9,775.4 3427.6,823.7 1531.5,727.8 2369.5,858.3 3186.5,782.9 2391.4,782 2833.9,797.5 1180.9,785.6 802.3,743 3504.3,713 1129.1,818.6 951,844.7 2601.7,813.1 3370.9,796.8 2301.7,799.1 3052.5,804.9 1505.6,778.2 2604.4,808.4 1421.8,883.4 815.9,838.5 3403.7,850.9 1450.1,795.9 2708.4,836.7 2319.8,819.6 2656.1,879.7 3371.9,761.6 883.3,855.6 2227.2,813.6 3016.9,699.1 2745.1,847.5 567.9,811.7 2493.1,829.2 3066.8,732.3 944.8,851.4 831.2,798.5 185.3,756.8 352.7,793.1 2533.2,815 2947,726.9 2297,753.4 1827.3,836.9 450.6,802.8 2256.1,882.3 2395.5,829.1 2890.4,709.1 411,799.6 2222.6,840.8 3443.9,833.9 2138.4,810 2523,1062.2 2867.9,772.2 328.6,839.7 3339.9,827.4 3443.4,820.6 417.9,853.2 3536.2,802.1 352.7,801.3 3427.6,845.8 3546.7,843 3200.7,778.6 3052.5,700.9 3371.9,779.5 2269.4,797.6 3253.9,793.4 2022,761.3 2848.8,807.6 1129,816.7 629,758.4 2586.6,844.3 1129,826.3 3540.9,904.1 3318.9,639.6 541.4,888.1 2501,943 3267.1,726.7 3152.4,843.5 2269.4,860.5 1807.1,654.2 3141.1,779.5 2534.8,853 1422.4,875.3 1700.7,807.3 835.2,786.3 1410,806.6 2468.2,776.5 506.7,806.8 620.9,766 1782.4,845.6 3335.4,774.2 2622.6,819.9 2678.7,803.5 1911.1,791.9 355.8,782 162.8,862.1 897,740.2 2034.9,763.3 3526.7,855.9 2922.8,875.5 2224,829.9 1638,726.5 772.5,790.6 757.3,764.9 2468.2,710.4 1212.1,827.6 1308,682.3 704.1,739.1 3188.4,749.2 3418.6,704.4 3395.6,817.6 3369.9,844.6 812.5,860.3 1550.3,820.6 3551.9,838.1 2258.7,833.3 411,792.1 3306.6,910.4 2533.2,849.6 1777.7,852.3 1051.2,826.1 3404.8,852.6 897.8,825.6 766.7,750.9 1573.2,812.8 339.9,838.7 3155.8,859.7 2089.7,695.1 2650.9,1061.7 2859.9,734.8 3427.6,814.6 1863.4,848.8 3059.3,781.2 208.1,804.5 495.7,793 3118.2,746.9 1539.1,819.9 3511.3,865 690.3,820.5 3119.6,803.2 2115.7,818.2 1487.3,871.1 2699.5,841.1 1171.3,838 1450.2,800.2 1783.5,839.8 1439.3,744.6 2037.3,729 2256.1,848.8 1428.2,879.2 2194.1,741.1 2869.2,762.2 790.4,786.3 2306.7,771.1 2561.3,825.5 3195.4,726.4 2410.1,798.2 2173.9,678.9 3464.3,900.7 2303.4,754.7 629.7,835.6 2321.3,842.5 1818,865.5 2661.2,851.1 2621.7,828.2 333.3,862 2674.9,817.3 2745.1,813 1280.6,824.5 1020.8,805.5 478,773.4 1791,753.6 359.5,770 2303.4,760.1 1591.5,813.8 2921,923.2 618.9,805.9 1196.8,758.7 1570.2,804.2 2168.6,826.7 1306.9,876.4 3563.1,829.7 3307,1020.2 1093.3,870.6 1410,807.8 2726.5,722.3 296.9,969.6 3427.6,842 1873.5,868.9 999.8,824.9 2081.1,674.7 623,731.1 2604.4,843.3 2629.7,819.5 596.9,812.9 2597.8,891.9 1255.9,723.4 3068.2,802.5 1152.5,804.8 702.4,844.2 1338.5,769.4 2131.6,850.8 2687.6,730.5 2258.7,875 3517.4,865.4 2884.7,734.4 3311.8,706.6 3464.3,834.2 2608.1,850.5 658.4,793.1 2597,862.7 3551.9,799.9 3546.3,827.2 1216,812 452.6,813.1 2833.6,801.1 1915.6,709.4 2746.9,881.5 3253.9,762.6 2357.6,830.6 2492.2,827.8 3073.2,823.8 526.4,813.2 1689.4,817.3 3314.6,842.3 1854.8,816.7 1979.9,844.6 2269.4,829.3 2750.9,955.7 3476.8,851 1013.2,828.9 2190.3,801.6 291.9,845.2 3033.6,736.4 1747,795.8 2867.6,808.4 3369.6,835.5 1847.5,843.9 2242.8,817.3 288.4,816.1 897,821.5 2269.4,818 374.3,733.9 1107.6,852 993.6,810.7 1566.9,800.2 2417.2,836.1 634.5,781.2 1139.3,791.9 668.2,772.2 295.3,925.9 1870.5,866.3 915.1,816 2129.1,757.9 1221.9,833.8 1995.5,808 976.2,809.3 672.4,679.4 1338.5,811.6 1873.5,827.3 333.3,872.2 2975.8,695.6 3555.9,860.3 1635.5,833.7 1783.5,823.8 2789.2,813.6 2337.3,833.2 1787.6,809.3 2285.2,755 3364.9,922.4 2585.7,865.6 1562.2,769.5 3556.6,800.1 2019.3,756.5 504.5,766.9 234.5,795.6 2180.3,846.9 3492.5,858.1 2080.3,748.9 2630.4,888.6 2705.5,797.7 2000.3,793.2 2848.8,839.4 333.5,809.6 2468.2,826.2 2443.4,795.2 3208.1,805.1 3324.9,776.1 3565.7,827.2 2521.8,962.9 3573.1,813.3 1421.8,904.3 855.7,790.8 1487.3,817.6 2328,784.2 430.5,840.5 495.7,806.7 2593.1,798.4 3308.5,866.4 1935.6,878.6 2101.2,834.2 2531.1,709.3 1822.9,807.5 3004.4,732.1 3389.6,821.4 2777.3,1000 2600.5,833.5 2690,816.1 1271.6,829.6 3453.8,834.2 748.5,730 1536.6,810.4 3245.5,811.4 1413.1,857.3 2813,781.7 2094.6,811.1 2409.5,868.5 3401,829.2 684.2,800.8 2245.5,813.4 2525.4,920.4 1115.3,834.9 3002.8,785.2 275.9,683.5 1232.5,790.1 2158.4,850.2 2186.4,821.6 1623.9,814 3162.1,758.6 2905.2,945.9 2591.7,875.6 1107.1,743.4 2238.4,845 231.1,669.4 2700.2,782.1 258.6,630.3 3157.1,817.4 2004.5,797 3559.1,817.2 3540.9,854 2799.7,876.5 3464.3,909.2 3476.3,861.6 3345.5,1071.2 1251.2,756.1 2601.7,837.8 2360.6,797.1 1079.1,776.9 451.4,766.4 1623.9,867.9 889.5,845.5 1421.2,826.6 927.6,782 1426.5,897.7 295.9,934.9 490.5,764.9 2698.4,721.2 2923,870.5 1980.2,849.6 1859.8,793.5 2663,823.7 291.9,861.7 3109.9,711.2 3309.9,909.1 3511.2,843.5 3153.1,853.7 3546.6,882.3 757.8,789.5 333.5,785.7 3393,831.9 846.5,819.7 2465.6,844.7 1746.9,835.4 1599.1,796 2085.1,771.5 3464.3,862.6 2698.4,736 489.8,730.7 2457.5,835 2630.4,891 515.6,773.5 3256.6,815.5 2952.4,802.5 2524,875.8 3453.5,891.3 662.9,791.1 1128.1,746.2 958.5,830.9 2816.5,793.4 734.1,791.4 2929.4,777 2848.8,811.1 3171.3,769.3 333.3,806.1 2339.5,801 1701.6,796 3188.4,779.1 794.2,804.7 1193.6,791.5 2532.9,778 1988.9,728.4 1005.8,813.7 1116.4,860.6 2037.7,799.8 1066.3,794.4 2684.5,842.6 1974.2,770.9 383.5,791.7 1582.7,770.4 643.9,819.1 3236.8,816.4 1847.7,861.1 3327.7,798.3 3026.3,821.8 3360.9,1083.3 1361.9,744.6 3533.4,849.4 2920.1,911.4 1932.2,850.8 2686.9,823.9 434.3,852.6 2465.6,855.4 2269.4,865 2789.2,870.7 3154.4,796.3 3121.7,754.9 1087.3,738.3 1770.5,865.4 1918.4,787.4 1527.9,804.1 1479.9,718.7 2628.8,885.7 2975.4,830.2 828.9,721.6 2387,724.7 3308.5,916.1 762.7,694.1 1816,856.6 431.3,863 284.2,725.6 2142.9,800 2355.6,828.5 3114.3,802.7 173.5,669.5 2700.2,797.3 3119.7,810.7 2497,809 800.6,764.7 1313.8,799.5 2011.2,763.7 597.7,769.6 676.7,790.1 951,752.9 1827.2,851.3 1237.2,652.9 2457.5,792.5 3062.7,809.8 2890.4,822.7 2750.9,955.8 816.9,788.7 2409,715.5 3490.9,821.4 649.9,755.3 2421.8,847.2 1641.4,727.9 2783.6,851.8 925.8,770.8 3220.1,853.4 1911.1,810.2 1428.2,873.8 2929.4,768.1 3200.7,733.3 650.8,787.9 359.5,779.2 2705.8,809.3 1493.5,792.7 3239.1,804.1 2361.3,813.7 3250.2,795.3 1079.1,800.6 1671.6,805.3 3231,830.9 3344.6,887 1416.8,790.5 2293.9,793.7 3568.1,858.6 2018.6,833.9 1657,745.8 3178.3,796.1 3036.1,761.2 857.5,818.6 2925.9,882.1 3371.9,797.1 905,688 3389.6,804 3534.6,829.1 2865.1,799.7 2142.9,835.9 789.8,794.2 1043.6,802.8 923.5,816 1386.2,672.7 1672,796.7 2271.6,800.6 2802.3,803.8 1873.5,826.3 2322.8,821.7 2754.3,1077.7 2447.4,806.3 1024.4,803.4 2133.4,788.8 3100.4,808.7 3465.2,911.1 1567.6,639 2474.8,838.1 1120.6,802.1 1928.7,802.2 3124.5,841.6 3197.7,788.4 2445.6,863 1599.1,795.8 2051.5,720 1621.8,881.2 627.6,769.4 1024.4,799.3 2929.4,819.2 2190.3,792.8 2923,743.3 1416.8,785.3 2297,761 1110.1,834.6 1507.5,768.2 2698.4,785.9 2363.4,840.1 2651.4,1068.4 754.1,809.2 745.5,733.4 1272.5,880.7 3408.3,804.9 2487.5,834.9 650.8,787.5 1628.1,807.4 1936,831.7 405.9,828.3 1511,775.5 333.3,815.8 2377.5,875.4 2366.5,846.5 1884.8,768.8 3412.6,846.9 555.5,880.9 1870.5,827 1119.9,852 2972.8,817.5 1769.9,808.8 1469.7,817.3 1017.2,787.3 2956.6,826.3 2323.7,817.2 1674.6,807.1 3057.4,864.9 1120.6,856.8 2373.1,733.6 1886.6,800.2 2586.1,891.9 950.2,840.1 2798.2,872.1 2096.4,847 3137.9,718.4 1478,768.7 1016.5,749.8 1940.1,991.4 2173.9,809.1 2150.2,693.9 3536.2,789.8 412.8,780.2 2299.4,802.8 577.8,778 2256.1,861.9 291.9,777.5 2951.5,791.3 2240.6,831.9 1662.7,789.2 1854.5,742.4 2794.1,867.4 2347.5,822.4 1241.4,766.8 831.8,762.4 3279.2,842.6 293.6,901.7 1421.8,856.1 1432.3,853.7 897,799.5 1416.8,824.8 2212.4,728.1 2745.1,853.1 1169.2,855.2 180.2,676.1 1942.9,1062.2 2558.3,871.2 829.6,784.5 3559.1,785.6 602.1,827 1421.8,852.9 1308,820.1 2207.7,749.1 1663,719.5 3052.5,783.1 481.8,771.5 1827.2,880.5 3208.1,785.2 3394.2,816.2 3308.5,889.6 2591.7,867.3 1727.9,808.4 3052.5,694.7 1582.8,771.1 1773.8,886.5 1726.2,830.2 1701.6,772.2 824.8,721.5 1623.9,866.2 1872.3,845.5 3343.4,936.5 748.5,758.9 539.1,805.7 655.1,813.7 1112.7,832.9 1606.3,870.4 3231,814.5 1423.8,830.4 3448.4,891.2 2238.4,823.1 2929.4,833.3 551.6,894.9 3559.1,680.7 3236,788.4 1641.4,807.3 3000.7,770.8 3495.6,806.8 1834.3,825.1 2979,738.5 693.3,806.9 3211.4,860.6 2387.1,823.9 970.5,822.1 3098.8,786.7 1868.2,841.7 1181.4,767.3 2979,795.5 1199.1,731.5 3477.5,916.1 2504.5,1022 3575.2,1101.2 1066.3,804.5 504.5,810.4 2899.3,858.4 2095.5,859.8 593.5,792 831.8,792.9 1623.9,834.3 3546.3,876.7 3538.3,824.8 1870.5,827.1 401.1,833.1 393.5,885.7 185.3,813.6 1745.4,820.6 1920.6,818.1 430.5,842.4 214.1,782.5 3149.7,866.8 516.9,740.6 649.9,831.9 3200.7,761.3 2345.7,844.8 3533.6,899 300.8,1036.7 2146.1,721.5 2140.8,857.7 3118.2,746.6 1141.2,781.3 1152.5,734.2 2300.4,812.7 513.3,816 2935.3,770.5 1416.8,885.7 2297,791.2 1293.6,860.9 3267.1,702.6 2256.1,801.6 3164,713.7 3263.3,824.1 207.8,785.5 3316.1,827.3 2904.5,924.5 2045.4,751.5 3086.1,801.5 835.2,786.4 1792.2,732.8 2582.4,778.3 2778.2,926.9 1777.7,868.9 3086.1,831.5 297.2,993.7 1333.4,781.3 2948.3,756 2269.4,797 1428.2,849.9 1288.3,803.4 3564.7,856.4 985.8,652 2779.6,927.2 1616.2,869.1 568.2,832.7 1867.7,871.4 1819.1,766.6 680.9,787.7 3066.8,833.9 2902.9,827.5 3200.7,781.2 3276.1,827.4 1019,786.5 1316.3,797.5 2391.4,791.4 2745.8,865.6 1308,853.8 3204,803.3 881.3,842.1 2458,827 3267.1,705.2 444.7,870 231.9,812.5 2160.5,789.3 1412.3,802.4 1682.2,758.1 3572.7,823.9 3210.2,823.5 2022,754.9 1294.3,872.1 2461.9,813.8 359.5,747.1 1796.8,744.9 2238.4,827.1 1813.7,818.5 3291,1029.3 1579.3,758.5 1120.6,807 2781.7,899.1 2377.5,843.1 2173.9,805.3 1283.6,836.8 1031.6,800.5 2056.6,824.1 3453.7,889.8 1777.7,857.5 1067.3,832 2135.2,823.2 2378.5,627.6 2452.3,836.8 3511.2,882.8 1702.3,775.4 2344,782 436.4,814.9 3129.5,763.9 2533.2,867.4 291.2,779.5 2604,877.2 413.3,630.3 658.7,805.2 702.8,810.6 964.6,783 3417.2,838 2496.8,797.9 3506.2,793.8 2601.7,817.4 922.2,702.5 515.6,741.1 2030.9,747.3 631,856.1 1340.9,759.8 506.7,796.3 923.8,797.7 1409.5,681.7 3526.5,861.7 1196.6,800.9 1525.3,747.1 291.9,870.8 2754.8,1078 2478.3,801.9 1369.8,685.3 1442.6,763.5 960.1,803.3 1964.9,1046.7 3436.9,817.6 3120.9,825 781.9,794.3 3188.2,813.3 1829.9,858.9 2186.4,810.9 3332.3,658.2 3065.5,840.2 3288.8,772.8 2270.4,895.2 2962.9,817 3121.9,814.5 1606.3,799.9 655.9,769.3 390.5,821.1 3464.6,835.9 2262.6,920.7 3498,903.9 808,801.5 897,782.7 210.5,761.5 2272.1,855.9 2255.7,906.3 2445.6,872.6 2997.1,773.6 2921.2,917.8 1412.3,803.3 1760.5,848.6 2717.5,796 2397.4,706.4 3287.3,869.2 2399.9,819.3 526.4,790.7 1638,820 1116.5,873.8 901,808.2 1498.4,829.1 2531.1,805.9 2081.1,720.1 2582.4,777.5 2454.9,876 2501.2,924.6 578.8,832.3 489.8,751.8 1873.5,865.1 3151.4,832.4 2859.9,749.6 2139.1,841.2 2604.4,876.3 1873.5,836.8 3328.4,802.7 2660.8,767.6 2657.8,822 790.4,791.1 2011.2,827 1054.3,781.4 2751.7,974.4 551.6,806.9 2228.7,822.7 2471.9,844.2 1323.7,807.5 926.2,726.4 3561.1,844.7 2929.4,856.8 1137.5,835 1657,793 1488.1,782.5 1107.6,840.5 1689.4,806.3 2781.2,799.6 2351.4,814.2 3546.3,895.2 2269.4,794.2 294.4,887.7 2142.9,806.3 1692.1,780.4 1345.5,751.4 926.2,720.1 3573,836.4 2779.3,770.5 926.2,703 2805.6,827.5 2848.8,835.2 2712.7,755.9 1308,830.5 1426.5,894.6 1243,723.1 1657,790 1101.2,814.6 1397.8,774.2 2634.4,1055.8 513.8,764.5 1054.9,750.1 2690,742.5 2229.9,826.1 1052.7,738.9 535,819.3 2601.7,867.4 3042.3,755.5 987.9,794.5 2224,840.6 3512.2,869.8 436,695.1 1448.2,763.5 172.2,816.9 2140.6,854.1 1208.5,844.2 1034.3,806.6 330.7,833.6 1865.3,861.4 270.5,797.1 3068.2,836.7 2366.5,845.2 2143.1,710.2 3114.3,808.5 1918.4,820.6 3057.4,846.1 2168.6,829.6 3052.1,766.4 1019,746.5 2827.8,768.8 2601.7,800.7 3162.3,795.2 1895.4,786.9 3004.4,769.5 2109.8,780.7 3085.4,806.5 748.5,771.6 1674.4,832.7 1221.5,843.1 2595.3,901.4 2256.1,868.6 3511.3,781 2848.8,826.2 1321.3,710.6 1727.6,750.9 1111.8,873.2 624.6,645.8 1818.7,753.1 359.5,716.7 1863.1,770.9 3053,800.2 2457.5,864.4 644.7,866.1 1040.9,755.4 1485.4,856.4 695.8,818.3 2672.2,764.1 1040.9,807.4 748.5,789.3 3014.8,755 364.4,782.1 2271.6,782.8 925.8,804.1 214.1,790.2 1134.3,864.5 3172.4,754.1 3290.1,959 283,768.8 1040.9,746.9 2176.4,850.6 3551.9,738.5 1993.5,788.4 1426.5,872.8 2504.8,1096.8 2132.3,886.7 1137.5,782.2 1116.4,885.1 883.3,837.4 1512.8,812.7 2135.2,725.5 1623.9,813.8 1093.3,857.5 3487.7,868.4 2306.7,734.8 725.1,709 866.4,771 1889.5,743.5 2129.1,761 2751.5,979.3 1141.2,776.2 1410.6,787.7 1338.5,733 1282.4,863.6 3386.3,803.8 2843.6,857.5 3059.7,865 1220.2,773.4 3222.2,778.8 2029.5,722.4 3060.7,770.7 897.8,789.8 1093.3,818.7 1372.6,724.8 2445.6,778.2 2844.6,807.4 1127.2,822.3 1072.4,802.3 1411.1,839.9 452.6,801 244.9,809.7 2404.9,839.2 2315.3,695 1113.7,836.9 1770.1,887.8 2196.4,768.7 3324.2,760.5 897.8,819.9 416.8,815.8 2306.7,788.5 2532.9,804.4 2338.6,784.3 3516.7,887.9 3491.7,892.9 2683.2,839.2 3286.1,832.4 1249.3,763.2 3306.2,1046.8 2357,822.6 1159.4,686.5 1284.6,768.6 1807.1,829.3 489.5,774.9 1112.7,819.1 1338.5,787.8 2698.4,773.1 2303.4,768.7 1849.4,828.5 2296.2,796.7 3530.4,866.5 3546.7,837.6 3410.6,860 1980.2,834.8 1115.2,871.8 598.6,775.2 1871.2,871.3 1657,777.3 3389.6,810.8 2209.2,724.6 1467.7,759.4 644.3,854.6 640.8,848.7 275.9,770.4 3448.4,848.2 382.3,675 1781.5,892.2 3402.3,809.6 731.2,802.4 2256.1,880.1 2532.9,813.3 889.1,802 3121.7,827.2 2445.6,796 3394.2,801.7 3364.9,913 2633.2,944.6 2799.7,843.6 2491.1,737.9 1943,1114.5 2661,772.9 258.6,728.7 243.2,788.8 2922.3,878.4 3188.4,766.8 2126.5,777.1 1411.5,848.7 1805.6,853 1512.8,790.1 3566,823.8 3105.1,765.7 2017.7,822.7 2811.8,668.9 415.9,785.8 2131.3,883.3 2135.2,724 3512.2,878 3033.8,820.3 3462.2,858.5 2238.5,795.7 690.8,807.5 2018.3,750.1 852.4,823.9 2287.6,803 2351.4,780.6 655.1,766.9 2453,810.1 1321.6,813.7 1152.5,747.9 2019.4,809.2 1416.8,777.2 2433.7,792.4 1005.8,790 578.8,828.7 2173.9,775 2545.3,842.2 629.7,839.3 407.4,824.9 777.7,772.4 2269.4,769.8 2234.5,826.9 2409.5,837.9 515.3,747.1 294.1,867.4 1858.7,834.1 1935.7,807.8 3464.3,912.2 3544.3,865.7 1755.3,829 1686.3,803.9 1164.1,856.5 3188.2,789.6 1920,808.2 2248,797.7 2818.7,745.2 443.9,831.5 3474.3,901 1239.5,765 1021.7,799.6 2972.8,764.9 1207.1,793.7 3109.9,722 1924.2,817.9 2115.7,817.3 333.5,804.7 1834.3,807.9 2020.3,770.4 2269.1,866.7 3201.8,769.9 1204.7,791.4 1490,833.6 2836.3,826 544.7,871.6 1570.2,822.8 2150.2,819.2 2501,938.2 2952.4,796.9 2660.8,797.9 950.5,705.1 1714.9,826 2934.8,803.9 436.2,855.6 1608.5,865.3 1571.6,827.3 2306.7,715.2 1834.3,789 1166.8,788.2 225.6,771.1 1019,711.6 1911.1,817.7 3270.7,830.1 360.2,725.6 1451.7,751.3 1181.4,820.9 3343.7,904.5 1432.3,847.4 1688.4,817.1 2726.5,816 1110.1,874.1 1918.4,775.1 970.5,813 3226.5,831.3 1870.5,849.5 3091.8,799.3 2532.9,792.5 2593.1,813.1 2265.6,832.3 1595.1,818.7 1623.9,830.1 468.3,787.3 2601.7,840.6 1659,691.9 2811.8,800.9 634.1,833.9 3033,778.7 274.2,786 3369.9,788.5 3053,815.2 3369.6,827.3 3144.6,820.9 492.4,799.5 182.4,733.4 1306.9,860.6 2442.1,750.7 327.9,862.7 3267.1,715.4 3510.2,826.7 3345.2,1048.1 1550.3,728 2430.2,665.7 2531.6,834.8 926.2,716.2 3224,812.7 228.8,698.3 274.2,800.5 2661.1,799.4 1902,778.5 2799.7,886.3 513.3,818.9 1054.9,843 1550.3,790.7 926.2,774.6 2496.6,818.4 434.3,792.8 192.9,769 2923,867.6 1966.4,1008.4 978.2,832.7 1416.1,843.8 3280.6,747 3276,841.3 1938.9,944.2 897.4,672.7 2930.6,661.5 2650.1,1066.2 1635.9,807.9 1531.5,716.2 1888.7,784.9 3486.7,828 1834.3,825.8 3052.5,712 3371.9,785.5 2345.7,836.4 3308.5,760.1 1391.7,780.8 2593.1,829.4 2745.8,839.6 3088.6,782.8 1306.9,786 2496.8,854 360.2,791 1941.1,965.3 742,736.6 359.5,726.6 2823.3,803 572.1,829.5 881.3,839 2833.6,796.1 3551.1,860 2468.2,775.2 1539.1,799.9 1512.8,743.1 2956.2,815.6 2593.1,875.1 1938.8,996.3 3499.5,831.8 275.9,803.5 889.5,819.1 2900.3,824.5 2947,747.7 2414.6,841 2468.2,819.7 1847.5,834 2375,869.9 882.5,854 1278.7,850.3 2896.9,825.6 3118.2,805.7 3500.2,822.1 897.8,822.8 2155.5,848.1 3320.2,753 695.8,739.9 2531.1,817.3 1268.2,864.9 1319.8,753.1 297.1,988.9 1469.7,721.8 2832.6,733.7 1638.3,825.7 680.7,807.6 185.3,803.6 3288.6,927.8 994.7,821.6 2595.8,889.4 2833.9,804.4 3155.8,850.6 225.6,724.6 557.4,874.2 3479.4,874.3 1599.1,821.3 2750.9,940.2 1873.5,846.4 2923,805.1 3287.3,850.6 1104.4,883.6 1079.1,771.1 829.6,819.6 400.9,801.6 444.7,839.9 1807,867.2 3312.3,782.5 3417.2,838.2 3369.6,810.1 3542.1,807.2 1066.7,824.6 2561.3,820.6 1834.3,851.7 3146.4,864.3 2453.6,807.9 1120.6,797.9 1992.2,731.9 275.9,736.4 2772.1,991.4 2736.6,809 1591.9,803.5 1704.2,758 2274.5,655.9 1924.5,783.4 248,783.8 401.1,868.4 2745.6,875.8 1770.5,890.9 443.9,804.3 2832.5,856.3 592,766.8 1220.2,756.6 2131.6,857.2 2387.1,839.6 2379.4,826.5 3511.3,800.7 1128.1,815.7 3572.1,888 2778.9,952.6 2376.5,860.3 1964.3,1089 1040.9,807.4 1674.4,811.5 2256.1,875.5 333.5,819.8 1229.2,748.8 2490.3,698.4 1622.8,838.9 3118.2,760 340.5,768.7 596.3,762.7 2925.9,837.8 275.9,706.2 3443.4,816.9 429.1,869.2 3088.6,740.7 3095.5,788.9 2468.2,830 2281.1,792.4 345.5,820 2108.7,845.4 2178.8,809.5 2604.4,792.8 2360.3,819.2 300.5,1073.3 3210.2,865.4 658.4,800 1148.7,774.6 2129.1,781.9 926.2,710.9 2357.6,809.5 1275.5,846.1 3417.4,777.8 2561.3,799.3 423,858 1720.6,785.5 1783.5,837.6 3494.7,869.3 2457.5,861.5 2095.5,851.9 3289.8,902.4 1360.9,776.3 2095.5,844.3 3004.4,669.3 301.8,1095.1 1541.3,786.6 2604,859.2 2271.6,736.3 2133.4,871.7 2308.5,760.9 3126.6,743.5 2528.8,875 2094.2,834.3 1641.4,759.1 2904.3,817.3 1641.4,823 2173.9,786.7 2030.9,781.1 1313.8,799 3473.7,855 2135.2,823 433.4,807.8 3324.5,813.1 1700.5,751.2 2987.6,712.6 1304.8,883 1786,862.7 1208.5,832.4 1432.3,819.1 3343.7,833 1327.1,781.8 1032.9,820.4 1164.1,868.1 1270.9,868.4 1042.7,767.7 1093.3,865.2 1842.5,783.2 1873.5,843.2 2775.7,1009.1 291.7,839.9 3276,747 1747,808.3 1414.2,874.6 2531.1,694.6 214.1,788.7 1962.5,1112.1 3060.1,860.7 3208.1,770.6 2037.1,790.1 1313.8,762.2 2523.9,1011 808,789.5 1722.4,729.3 3337.8,811.4 3341.7,891.3 1223,791.8 2859.9,729.7 266,760.6 2968.4,825.4 2333.8,817.8 513.3,833.8 3371.9,748.2 2421.5,839.3 228.8,807.4 502.9,809.8 1338.5,742.4 2131.6,852.9 679.2,819.5 3200.7,797.5 684.2,800.4 1484.2,807.5 3551.9,780 620.9,720.4 3461,859.7 2591.7,883.5 923.5,821.1 1113.7,841.9 2622.6,812.4 1128.1,663 2896.9,839.4 881.3,844.5 1532.4,786 964.9,823.2 266.2,652.6 1805.8,853.4 2574,810.3 608.3,740.4 2903.6,855.4 2869.4,810.1 825.4,826.1 275.9,698.2 452.6,814.3 2404.9,836 2753.4,1021.9 2530.6,811.2 3109.9,689.8 1456.6,812.9 2867.9,767.3 1727.7,804.2 2869.2,724.3 888.3,865.9 2472.5,805.7 2678.4,796.8 2792.4,864.7 2322.1,853.2 214.6,750.8 2297,788.2 2956.6,842.1 1935.7,835.1 2895,820 2061.5,756.6 3316,825.8 2029.5,790.2 2085.1,796.6 1641.4,739.5 3516.8,863.4 402.6,812.1 1416.8,842.5 1164.6,786 2265.6,848.4 1087.3,794.4 691.4,852.6 3120.9,801.6 2119.8,817.1 275.3,802.2 331.9,848.4 2531.1,695.7 881.3,817.3 2318.6,752.3 166.6,841.3 2987.6,786.1 1501.7,759.2 2657.8,796.9 2018.8,737.1 333.3,864.2 2084.8,769 3370.9,851.8 2947.4,752.3 411.1,792 1426.5,821.4 1709.2,775.6 3288.8,923.5 490.5,738.1 1290.5,869.2 2190.3,775.8 3370.5,857.1 2663,772.6 1002.3,826.1 1220.2,731 2732.9,716.2 3231,825.1 1747,840 3276,810.3 883.3,852.6 2133.3,841.8 3016.9,781.4 925.8,821.3 231.1,797.7 790.3,803.8 515.6,776.5 291.9,853.9 3511.3,813.6 1673.4,836 2747,890.8 2445.6,878.8 407.1,849.1 1397.8,768.6 2157.6,844.6 2604.4,798.5 3531.2,774.3 3343.7,949.5 3273.5,806.6 3526.5,806.5 1873.5,847.5 1641.4,726.8 1423.8,894.5 1902,782.1 646.7,859.7 2920.8,915.2 1969.7,929.9 2522.6,1057.4 1935.3,858.4 1873.5,856 2397.6,845.2 1701.6,828.4 2586.1,747.2 2362.7,865.6 2811.8,717.4 2345.7,843.1 1805.6,863.4 1766.7,635.5 2660.1,844 3053,813.7 551.6,832.1 1093.3,884 1847.8,816.9 2099.2,862.5 297.3,929.9 1042.9,794.9 976.2,789.1 3483.5,897.2 703.4,842.4 1103.8,779.4 2968,776.8 3256.6,822.8 2067,706.6 2278.7,765 2502,759.5 3419.4,807.6 881.3,801.7 2792.3,844.9 2256.1,886.4 3211.7,808.8 220.6,791.5 2752,946.4 2065.8,674.1 3151.4,809.3 162.6,838.5 538.6,908.9 3427.6,890.6 883.3,865.6 3218.4,824.4 1006.1,780.6 1183.2,659.4 1120.6,809.7 1031.7,705.4 3118.2,854.7 611.1,819 620.9,721.4 3213.3,855.1 1284.6,720.6 1822.1,858.4 2399.9,842 537.1,875.6 2256.1,903.8 649.9,830.4 951,721.3 3225.7,853.3 2592.2,902.1 3476.8,883.8 884.6,796 1079.1,805.7 2804.6,753.4 2675.9,803.1 1383.8,752.8 2750.9,819.6 411,804.5 2481.9,824.7 1617.9,899.4 1338.5,734.1 1873.5,848.3 2533.2,849.3 1107.6,822.3 666.6,761.9 1182.9,839.7 417.9,867.5 897,860.9 2000.3,777.6 1306.9,855.4 2258.7,856.5 1416.1,792 2296.9,794.8 1933.2,865.4 2258.2,892.4 2345.7,829.8 3568.3,775.6 2178.8,800.4 291.7,859.7 3515.6,746.9 1715.4,825 1104.4,808.5 1754.2,846.2 1822.9,834.4 2051.5,786.4 889.5,843.7 2753.4,1052.6 1113.7,835.9 388,845.2 1272.6,879.5 1591.5,812.5 196,735.3 3544.3,879.4 926.2,706.1 513.3,819.1 1281.2,866.5 2347.7,831.4 2474.8,843 2062.9,663.7 544.7,887 2533.2,807.1 443.9,806.1 2556.5,653.9 2254.8,889.1 2670,831.6 1024.4,746 2226.7,734.7 2929.4,783.8 1467.2,655.8 193.1,748.8 1293.9,871.6 1501.6,753.5 2631.8,939.6 1770.5,847.5 1638,822.9 3005.7,719.4 764.1,809.9 436,821.5 1770.5,839.1 2604,844.5 2686.9,839.2 611.1,819.8 2243.6,843 3368.1,876.9 1413.4,829.4 3551.9,746.8 3215,849.4 1308,796.8 2186.4,816.7 2532.9,841 176.6,794.8 388,863.3 2657.8,817.2 2848.2,844.9 1360.9,765.5 3483.8,847.7 2172.7,805.8 2601.7,793.3 1984.1,751.7 718.1,740.6 2097,798.1 3314.6,841.1 719.8,800.9 331.8,848.1 2297,807.3 3155,846.8 2953.4,782.3 703.1,792.1 1570.2,801.1 2241.5,738.5 3404.2,871.6 2203.7,707.2 1662.3,769.8 1338.5,795.2 2020.3,773.1 2197.5,801.8 2017.7,824.9 538.5,907.1 1916.8,843.5 359.5,780.4 970.5,813.5 1066.3,776 2080.9,764.5 2159.5,829.1 517.5,793.2 1493.5,866 2295.2,807.2 2956.6,832.3 402.2,852 3118.2,754.8 1432.3,854.7 3573.3,917.1 2799.7,872 1197.1,776.4 2241.8,827.2 1831.2,795.9 275.9,735.5 432.2,823.6 2595.9,774.6 3559.1,744 3448.4,779.6 1301.4,830.8 759.9,759.6 2238.3,845.1 2062.9,772.4 1360.9,807 2254.8,837.8 1114.3,859.7 2269.4,886.7 3571.9,897.7 3019.7,788.3 909.6,782.7 1871.7,857.3 3403.3,869.9 2331.8,854.8 3153.1,846.2 597.7,741.4 3560.4,841.2 2656.7,863.8 1782.4,847.1 3087.6,828.2 2417.7,883.4 3230.6,840.9 1853.2,837.6 3526.5,718.5 333.5,874.9 2142.9,880.9 3246.9,754.1 617.3,781.4 3314.6,834 388,880.2 776.1,799.2 1641.4,719.2 2022,776.2 3341.8,818.9 1232.7,799.6 3371.9,826.8 951.8,834.7 2194.7,721.3 1621.8,833.4 2660.8,837.3 2521.5,1065.2 2745.6,858 871.7,646.1 2306.7,710.6 1657,769.1 2585.7,887.2 340,782.4 366.1,771.5 1754.2,812.3 682.1,766.2 2238.4,797.2 1419.1,773.8 290.5,809.9 3573.1,920.7 2342.3,709.8 2501.2,943.9 388,822.7 1416.1,877.7 2364.6,817.4 1574.2,757 1566.9,668.2 2249.6,890.6 2471.9,721.4 616.5,784.8 3118.2,816.7 1885.6,794.3 3343.7,916.3 538.6,893.5 885,840.5 2745.8,853 1682.2,726.8 1773.6,804.2 2869.2,716.9 2531.1,759.5 808,852.6 926.2,742.3 985.7,829.7 1770.5,693.5 2409.5,862.9 3308.2,967.2 3369.6,810.8 571,661.8 3535.2,856 2543.7,858.7 1085.1,784.1 1606.3,813.2 1770.5,749.7 1031.7,793 748.5,732.2 1034.3,771 941.9,835.2 3369.6,863.9 1782.4,824.7 2586.1,898.4 1933.2,890.1 2404.9,867.1 611.4,779.2 2441.6,867.6 1897.4,743.2 2135.2,791 2531.1,853.9 1727.9,769.2 1391.7,781.2 804.4,835 1113.7,828.5 3453.7,744.1 3074.2,803.4 301.7,1000.8 2493.1,813.9 524.2,745.2 3095.1,826.8 2594.9,850.6 2975.4,827.1 1108.3,777.7 1907,778 1428.2,894.1 1539.1,823.8 1608.5,866.4 2901.6,783.6 1179.7,835.4 621.7,733.4 401.1,874.7 1941.5,1041.2 359.5,708.1 1450.1,779.4 2471.9,845.6 2538.2,855.8 650.8,791.5 1338.3,765.6 1777.7,825.7 1610.1,878.5 2015.3,816.8 1542,816.4 2774.3,1085 1025.1,818.5 2030.9,791.3 2364.9,880.3 2929.4,827.5 3118.2,795.4 2238.4,823.6 1674.4,755.3 3088.6,762.7 2884.7,798.4 242.7,811.2 2323.8,848.2 3481.7,857.2 1284.6,745.9 2929.4,859.4 2085.1,828.4 3370.9,822.5 1692.1,788.2 3078,740 2951.5,776 3412.6,864.7 2907,971.7 189.8,739.5 2071.2,783.4 1011,791 2660.8,847.9 602.3,765.4 1092.6,847.6 2131.6,826.5 1995.8,651.7 3014.6,805.9 2588.8,882.5 757.8,794.2 1416.8,788.5 1110.1,833.1 2052,745.2 1683.5,843.8 2457.5,863.3 3052.5,736.5 3000.7,687.2 275.9,689.8 2745.1,818.9 2783.6,854.3 2477.7,778.3 382.2,756.6 568.4,825.1 3496.8,896.1 3004.4,775.3 3121.7,786.5 2031.8,759.2 3326.2,726.6 1340.9,770.6 816.9,804.9 1209.5,740.2 333.3,845.9 1308,752.8 2347.7,835.2 3463.6,807.3 1831.2,792.1 3427.6,825.6 926.2,724.7 3464.3,919.1 1682.7,837.9 231.1,755.3 472.2,762.7 984.2,775.3 1964,1110.4 1453,802.3 1179.7,779.1 2661.6,850 1599.1,784.7 3370.5,837.3 1873.7,740.2 868.7,768.5 2472.7,770.7 1265.5,815.4 3234.8,795.1 795.9,767.4 1497.1,820.4 2848.6,776.7 447.4,846.9 1308,864.3 1338.5,757.1 1701.6,764.9 783.4,767.2 604.8,825.8 1943.4,1073.1 2296.9,775.7 290,828 2958.3,818.9 3504.3,806.4 3188.2,821.4 1312.8,800.4 3526.5,627.1 1902,783.5 831.8,789.2 1818,825.7 2631.6,914.2 291.9,737.1 3210.2,840.8 2423,793.2 2237.9,822.5 1739.6,835.8 253.2,801.3 2987.6,791.6 624,778.3 2385.3,804.1 2413,841.4 325.8,987.9 2712.7,797.2 3002.8,796.8 1431.3,843.3 1818,814.4 2197.5,771.4 2306.7,712 1207.5,734.6 790,782.3 1756.2,786.9 435,839.5 2271.6,850.8 2693.8,771.6 3118.2,845.3 275.9,736.9 2397.6,881.8 2397.6,850.1 691.4,783.3 3021.6,797.5 2745.8,858.2 560.5,719.8 3170.3,772.9 668.5,769.3 1107.6,844.9 1939.9,1003.6 866.9,807.9 1873.5,864.3 3568.1,825.9 3427.6,829.5 2108.3,858.6 1426.5,903.8 2137.2,875.6 2127.7,748.8 964.3,798.1 1165.2,756.8 2795.6,836 3486.7,840.4 333.3,741 1752.9,847 2375.1,777 3573.8,955.2 624.7,767.7 3158.4,663.1 951.2,817.8 2030,737.4 572.3,734.5 384.7,798.4 3540.9,837.4 2745.8,877.9 3571.3,897.2 3443.1,837.7 1826.7,873.2 2400.7,863 3234.5,778.4 179.4,715.2 1782.7,875.7 2524.9,966.5 1327.8,810.1 2921,918 2376.5,871.1 3153.1,856.3 2152.3,859.7 1296,882 416.6,719.8 2022,777.2 1284.6,729.8 1432.3,760.4 1777.7,845.5 2783.6,846.6 3476.8,881.1 1461.2,810.8 1434.9,676.6 2698.4,791 1760.5,836.3 196,728.4 2816.5,816.1 3054.9,819.7 2411.4,878.8 3427.6,839.3 196.5,793.1 2921.4,921.8 1324.5,784.1 1727.7,815.1 430.5,809.2 1541.3,787.8 339.9,803.2 2869.2,759.7 2256.1,827.5 2095.5,795.3 691.4,844.4 1822.9,824.4 919.3,825.3 3250.2,716.4 1040.9,752.3 1483.4,840.7 2563.2,838.7 2404.9,858.7 2784.7,863.6 3370.9,850.5 326.5,918.9 3369.6,813.8 2001,768.8 3563.9,834.8 411.1,810.1 2651.5,1054.5 297.3,949.5 2905.2,931.7 2783.6,870.3 626.2,797.5 2750.9,810.2 875.1,813.5 173.8,791 3155.8,842.6 2441.6,823.7 1120.6,851.9 2142.9,819.6 3109.9,728 872.6,729.5 2364.1,848 3121.7,793.8 2792.3,889.4 3108.2,810.5 2252.9,917.1 3436.9,884.8 2346.7,839 1097.6,820.6 2281.1,695.7 2269.4,770.4 3201.8,790.5 3511.3,797.3 2811.8,717.7 2265.6,889.7 2258.7,869.8 1534.2,752.9 1873,837.4 3062.7,869.2 1091.8,852.2 3128.4,802.3 2929.4,824.6 2571.2,770.5 2141.3,877.8 2095.2,836.6 3088.6,787.2 2807.8,776.2 2238.4,820.1 2139.1,804.9 2348,838.5 748.5,739.6 1927.2,841.5 379.8,774.3 1477.5,769.9 540,843.3 2404.9,856.1 3210.2,835.5 1727.9,812.8 2331.4,701.9 1214.4,806.7 223,780.3 3118.2,805.3 1734.4,703.2 2593.1,807.5 2581.7,788.3 490,679.5 1701.6,821.7 1935.7,933.2 3088.6,804.7 481.8,776.5 1166.1,762.7 2383.6,693.6 2866.4,780.1 829.3,815.5 1787.6,865.9 2659.5,747 2622.6,779.1 2705.8,792.8 2531.1,757.1 2887.4,821.9 955.9,750.2 1873.5,790.8 732.1,640.2 1374.9,782.7 548.2,844.6 2883.9,671.9 2745.8,845.4 2712.7,825.8 2053.3,796.3 2776.9,1025.8 299.4,1046.2 1831.2,792.5 1429.2,723.2 2004.9,803.4 2627.9,874.7 2993.4,755.8 1760.5,837.4 2658.1,870.8 923.5,805.8 1541.3,824.4 395.6,730 2238.8,784 690.4,829.5 2030.9,773.9 1822.9,861.6 835.2,784 3200.7,751.9 792.8,744.4 1341.8,796.2 669.5,775.7 1066.3,785.3 1251.2,832.8 643.1,820.5 423,817.9 1306.2,870.3 400.8,876.3 3238.6,810.9 962.2,804.8 1412.7,845 1024.4,821.7 2987.6,799.9 3052.7,803.9 2853.9,790.7 2745.6,810 636.5,705.1 1463.7,817.4 3541.7,790.8 3200.7,820.3 260.2,763.9 3121.7,758.4 2364.1,884.5 273.9,790.9 2069.9,741.9 1671.6,836 551.6,803 1747,854.9 1119.6,730.3 1646,771 3536.2,881 3465.2,912.7 2108.3,843.4 2750,844.9 750.2,782.4 1031.6,802.4 1512.8,723.8 3568.2,811.2 1426.5,836.6 2030.9,768.3 3360.7,1085.3 3511.2,869.1 3255.5,813.2 2632.1,972.5 616.5,781.2 1040.9,780.6 2478.7,656.1 2622.6,815.5 1942.3,1085 2504.4,1104.4 1110.1,877.5 379.8,777.5 1808.5,823.9 3042.3,766 1467.2,720.8 3556.6,875.4 3307.3,999.7 2330.7,848.1 923.5,795.9 535.8,778.1 1416.8,798 2869.2,753.2 2698.4,790.6 186.2,795.8 1369.4,761 2833.9,819.3 2483.6,812.8 3146.7,766.4 3555.2,892.2 3410.2,835.4 536.9,874.5 2271.1,879.5 1783.5,878 1207.5,796.8 881.3,856.8 291.7,716.8 2882.9,744.4 3504.3,882.2 3103.2,689 2925.7,850.8 2799.7,758.7 3434.4,856.6 2657.8,796.5 2873.3,776.7 2573.1,821.7 340,800.8 1101.2,843 1685,848 2109.8,819.8 2465.6,844 1240.7,775.5 1873.5,813.9 2630,884.4 244.9,799.2 2030.9,791.2 2037.7,702.7 2835.4,800.5 3316.1,803.3 2416.2,878.2 1411.1,869.1 664,822.7 3114.3,837.2 3114.3,812.6 3337.8,710.3 2051.5,806.3 2712.7,739.1 430.5,853.5 2350.9,830.5 1623.9,843.1 3511.3,794.3 1996.5,769.7 2228.7,755.3 1090.7,797.1 816.9,825.6 1037.3,784.1 2813.2,757.6 616.5,754.1 408.4,773.2 3000.7,673.8 752.8,729.4 1979.8,825 3343.7,887.4 1585.8,804 2501.6,891.7 444.7,869.4 3157.2,847.3 244.9,782.9 1040.9,771.8 3416.7,799.9 881.9,858.3 1777.7,844.8 557.4,829.8 2228.7,801 2532.9,819.5 2332.3,770.4 2531.1,811 1899.7,786.4 3276,767.8 3250,829.2 2799.7,795.9 407.1,843.7 3234.1,799.2 2039,776.8 889.5,847.6 3065.5,812.7 882.7,771.1 1829.9,830.3 3316.1,846.3 2069.9,783 1450.2,807.5 616.5,782.3 1635.4,734.3 1255.9,775.6 1332.7,739 1722.1,799 348.5,823.1 3109.9,706.6 1692.1,775.3 3004.4,654.7 2521.8,1063.3 1829.9,855 1857.2,859 2525.4,884.3 1943.8,1104.9 1410.6,838.2 1541.3,838.8 1829.1,857.6 3369.6,846.9 3052.5,767.6 840.5,690 2783.6,748.2 3316.1,817.9 1843.1,703.8 3551.9,703 1037.3,777.7 1412.3,832.3 3108.5,837.4 2375,827.8 1488.1,842.5 3410.6,790.4 2109.2,759.7 2811.8,690.7 1771.6,840.5 2588.2,859.7 3236.3,753.2 284,805.7 2686.4,828.3 2753.2,1016.5 3559.1,802.7 912.5,785.3 1527.8,783.4 3239.1,830.1 1220.2,830.9 1822.8,873.7 595.5,802.5 2173.9,728 1967.1,981.6 409,767.6 340.3,791.2 2972.8,774 2690.8,786.4 1494.6,863.9 2700.2,818 444.7,868.4 1755.3,816.1 1606.3,795.2 3540.2,801.8 2249,882.4 1341.8,775.2 1076.3,824.5 1489.9,858.5 3052.5,759.2 2906.3,949.3 1340.9,777.8 1941,1057.1 897.8,784.1 2168.6,807.5 3504.3,824.3 1360.9,809 1340.9,757.2 2180.3,846.7 2604.4,874.1 2622.6,801.2 1880.9,778.6 3316.1,807.7 1782.4,818.9 1932.2,847.9 1982.8,782.7 853.7,822.7 3544.3,883.6 1883.1,741.6 2592.2,868.2 3109.8,849.3 3269.6,801.1 2745.1,852.2 3209.9,735.8 388,867.9 1641.4,727.5 1270.2,785 3197.4,776.8 1888.7,738.2 2197.5,776.6 839.6,788 1755.3,836.5 2457.4,861.9 2633.5,1000 2404.3,837.6 515.6,777.9 2456.1,871.5 626.2,796.6 2935.3,782.2 168.5,633.5 2906.3,923.6 3314.6,849.1 602.8,806 1338.5,722.8 1078.4,827.2 281.3,758.2 2632.5,970.1 1360.9,764.9 1822.3,799.4 2520.2,1084.2 1412.3,840 552.2,906.6 1570.2,821.2 946.4,838.2 2531.1,864.7 1977.6,755.6 578.8,832.8 1512.8,749.9 2239.6,842.5 836.1,795.7 2804.9,831.8 2404.2,867.6 1543.7,722.2 2085.1,788.5 231.1,763.2 1451.7,799.4 2696,745.6 1607.9,878.1 3462.5,849.4 2530.6,681.2 186.4,738.9 2010.4,820.5 2745.8,782.2 246.6,779.1 1019,752.8 388,874.3 2142.9,874.3 3267.1,759.4 1912.4,774 3241.1,799.1 2527.5,846.9 2984.2,801.7 1225.2,749.6 1679.7,852 1107.6,815.3 1092.6,845.1 696.9,776.5 1852.2,804.5 513.8,719.7 1451.1,811.7 2132.8,837.9 192.2,756.8 2391.4,757.6 3020.7,746.5 1550.3,797.1 360.2,707.1 3364.9,906.9 1781.5,814.4 1024.4,821.8 2454.9,834.4 1659,709 2445.6,834.3 3308.5,958.4 1494.9,825.3 2069.9,792.7 2656.1,829.1 1849,807.7 3417.4,772.8 2462.8,805 1426.5,833.6 2306.7,815.3 803.1,712 2493.1,811.6 3436.6,798.3 3556.6,839.5 333.3,761.8 1220.2,794 275.9,760.3 2268.8,885.9 2189.1,826.5 449.5,803.8 2601.7,786.7 2530.9,853.4 2412,783 1018.2,823.9 710.8,783.4 3234.1,792.1 1575.8,802.1 859.6,797.8 816.9,795.1 2258.7,863.9 2943.1,746.6 3286.5,878.7 1912.4,728.8 2486.7,796.4 2085.1,804.3 1093.3,874.9 1702.3,783.9 2238.5,846.7 1787.6,849.4 926.2,813 2256.1,918.6 2369.6,848.3 3433.7,827.4 3389.6,812.2 2929.4,779.3 390.5,833.2 359.5,769.4 1349.1,792.3 1410.6,845 1534.2,748.8 3437.4,842.9 367.6,775.9 1673,849.2 2718.4,795.7 1789.4,711.8 1770.5,787 897.8,779.1 510.7,750.3 2173.9,776.6 3464.6,921.7 2363.1,860.7 1935.7,829.5 3121.7,816.4 2533.3,868.2 3526.5,860.6 1541.3,811.1 1585.9,799.2 923.5,806.3 436,709.4 2615.9,723.3 2848.5,844.3 2816.5,789.2 764.1,810 3447.5,840.9 3188.4,826.1 981.3,804.2 3042.3,817.6 3200.7,715.8 2532.9,808.2 1482.5,795.5 568.2,835.9 3065.5,808.3 509.4,790.4 3443.1,850.7 3559.1,723.4 3345.7,1037.2 511.2,800.3 2699.9,848.7 757.8,788.8 1935.7,940.1 1969.3,952.9 526.4,790.6 2135.2,740.9 807.1,850.3 3495,750.4 2197.5,801 2869.2,783.6 178.2,790.7 971.5,763.7 1410.6,875.7 1128.1,829.6 417.9,849.2 1865.3,870.4 1853.6,842.2 605.8,762.2 2411.4,882.3 889.5,852.8 3464.3,905.7 1345.8,720.4 3121.7,806.7 3369.6,843.1 1550.3,815.6 3251.8,708.4 292.2,811.1 3047.4,777.9 868.7,793.7 1339.8,667.3 586.3,813.1 2952.4,800.8 3427.6,887.6 1310.8,688 1429.2,718 1274.1,854.8 513.2,802.6 1810.9,858.6 3200.7,792.5 1141.2,787.5 1278.4,850.1 2505,1010.1 2799.7,765 1805.8,674.5 2833.6,822.6 409,783.2 3208.1,798.3 1181.4,711.5 300.4,1029.8 2238.5,796.8 1777.7,841 2474.8,852.4 1141.2,765.1 225.9,785.9 1209.5,810.1 998.1,783.9 3410.6,692.2 294.1,871.8 3441.4,695.8 1110.1,848.5 3487.6,909 1937.8,963.8 2088,723 926.2,701.7 639.6,846.9 1274.1,879.8 1873.5,784 1130,874.8 190.2,803.7 1918.4,829.4 900.9,834.3 2526.3,949.8 2975.9,822.6 2586.1,882.1 1120.6,832.3 2807.2,676 757.8,792.7 2538.9,855.2 3151.4,839 3489.4,916.3 1120.6,785.2 3551.9,812 1865.3,870.5 1805.6,860.2 3007.5,712 3533.7,816.9 225.6,744.3 1971.8,894.5 2959.4,825.2 384,780.2 2238.5,781.3 1093.1,742.1 3290.1,967 2178.8,836.6 1754.2,844.8 2228.7,814.5 2733.2,756.2 3556.6,797 1359.2,761.8 200.1,814.4 2085.1,828.9 326.2,966.7 2848.6,799 1126.6,844.3 2256.1,800 3536.2,744.3 1628.1,848.7 2135.1,891 747.8,773 1701.2,657.6 2528.1,804.9 3231,824.5 1104.4,800.9 3381.4,796.1 2604.1,844.6 3308.5,956.2 3436.8,896.7 2972.4,737.7 1972,844.8 431.3,861.9 2752.1,979.8 1215.1,753 857.5,796.9 2445.6,727.5 2867.9,785.5 1169.8,799.2 2663.4,816.9 2225,819.7 1431.7,842.5 2256.1,781.5 3342.4,830.7 566.6,806.3 3474.3,915.4 3100.4,806.4 1641.4,771.4 3108.5,838.6 1971.8,914.5 2478.3,725.6 881.3,822.8 984.2,806.2 2549.7,839.6 2254.8,837.6 1337.6,750.7 1428.2,886.4 2459,836.6 275.9,682.1 3206.2,783.5 2095.5,851.2 1181.4,812.9 1378.3,777.1 972.8,814.5 3033,784 1825.8,797.3 3479.9,854.1 2133.4,781.9 185,799.1 2269.4,788.9 180.7,751 1597,769.8 2281,809 1607.2,701.8 2017.7,803.5 2015.1,791.5 326,896.8 2837.9,678.8 431.3,844.7 358.1,770.3 436.5,872.3 3371.9,781.5 2465.6,839.9 3410.6,799.1 2664,779 3200.7,726.2 702,812.1 839.2,706 2692.9,825.2 1515.2,796.6 2754,1056 1964.2,1062.9 434.3,780.8 2093.5,687.9 554.7,798.9 503.3,829.5 2686.9,820.7 2698.1,808 2269.4,816.7 182.4,755.6 2811.8,654.3 638.4,757.4 2226.3,631.6 3371.9,824.4 1969.2,977.8 889.5,818.1 1237.3,809.1 2345.7,831.3 1360.9,761.4 1656.5,733.1 1538.2,817.9 1066.3,789.7 204.1,770.1 2387.1,823.1 611.1,764.6 1498.4,838.2 1360.3,814.8 2150.2,812.9 359.5,753 1918.4,758.6 1019,707.1 3427.6,820.7 1487.9,795.9 2256.1,780.1 3188,813.6 2956.6,832 1867.7,865.9 867.8,788.5 2189.1,836.8 1143.7,803.5 432.6,859.3 2778.4,976.4 2904.1,883.5 1942.2,1000.9 970.5,829 1217.2,674.7 2799.7,875.1 2569.3,804.3 3465,889.5 1702.3,816.4 1573.5,760.4 2369.5,730.7 592,796 1942.1,1105.8 2445.6,872.9 299.7,1007.7 1822.9,808.1 283,737.8 1709.2,830.5 1829.9,820.1 689.6,744.2 2204.1,802.4 1146.2,740.3 1770.5,860.8 1107.6,844.2 1770.5,844 2395.5,724.9 1965.2,1074.6 3465.2,843.2 1193.6,793.5 2604.1,855.1 796.9,756.9 3052.5,791.7 3121.7,841.2 1831.2,822.5 2496.8,825.2 2929.4,772 2982.9,799.8 688.8,702.2 1180.9,843.1 710.8,777.5 1078.4,820.7 3459.9,837.6 1606.8,845.4 1432.3,798.4 2018.3,812.8 1753.3,847.7 1296,684.1 2781.7,893.8 2956.6,836.7 2363.4,757.1 2225,839 1133.5,848.1 1040.9,783.2 1927.2,831.6 3217.2,700.6 2699.9,832.5 226.8,794.9 1964.8,1085.6 2465.6,841.5 2686.9,830.7 2127.7,740.4 526.4,792.8 539.7,747 3464.6,841 1831.2,835 360.2,780.2 2712.7,813.5 951,784.4 502.3,831 1413.3,878 2798.2,856.8 2987.6,690.4 1360.9,803 246.6,786.4 534.4,792.2 1760.5,820.8 926.2,735.5 333.3,749.4 1046,751.8 2791.2,868.6 1915.7,846.6 1141.2,809.3 3004.4,707.2 3556.6,871.8 436,701.7 3109.8,850.1 3448.4,848.6 2921,925.2 1458,770.8 1265.5,834.5 1657,802.6 2525.1,982.1 3512.2,865.1 225.6,752.1 1450.1,773.2 3511.2,715.3 1881.6,788.2 2069.9,774.8 2436.8,811.5 2750.9,864 326,957.2 2387,725.1 748.5,744.8 1464,768.7 608.8,814.1 3008.1,809.8 3188.3,826.4 846.3,804.1 1327.8,803.9 1094.4,870.5 1597,757 1633,799.3 2010.9,825.7 3371.9,776.7 388,726.3 2579.3,736.2 1462.1,721.1 3200.7,783.4 1847.8,831.4 3308.5,929.7 3118.2,720.6 2375,857.4 1559.3,803.4 2958.9,805.3 342.2,701.2 3050.9,787.6 2896.9,814 2256.1,892.1 1058.2,791.2 3443.1,872.1 1966.7,978.8 1858.5,817.5 3436.9,821.7 951,824.1 3443.4,886.6 2811.8,703.8 1485.4,867.7 701.6,768.7 300.6,1068.5 3472.8,874.7 2238.3,840.4 3065.6,863.5 434.3,777.2 2000.6,728.8 1252.3,797.1 3551.9,841.8 3369.6,859.4 2622.6,810.7 1582.7,790.4 1374.9,785.2 2241.8,843.6 3511.3,775.7 2661,789 3410.6,846 557.1,853.1 384.7,799.7 1969.2,884.3 901.2,812 3371.9,740.4 3546.7,832.9 2531.1,798 2501.2,899.2 193.3,808.6 3188.2,788 1220.2,709.2 1982.8,753.7 3333.8,787.5 2690,836.7 1783.5,853.3 1141.2,761.8 1834.3,792.2 3343.7,955.3 3443.4,902 3253,796.1 3109.9,826.4 176.6,704.9 400,732.1 1412.3,790.7 2051.5,816 2139.1,792.9 1221.9,807 2245.5,828.1 2873.3,754 856,816 3120.4,847.7 2830.8,816.3 470.3,718.3 2964.2,806.1 1873.5,793.8 1202.2,806.5 1487.3,742 1673.7,797.2 1688.4,815.5 2088,698.7 1338.5,754.6 2109.2,829.8 1606.3,796.1 673.2,695.7 2698.4,778.8 1275.3,855.5 1782.4,833.6 2881.6,819.1 2142.9,835.4 1807.1,839.4 2590.9,886.8 291.2,805.6 2240.6,835.1 1822.8,847.2 1284.6,755.6 1941.2,1039 503.5,814.6 1702.3,807.9 2135.9,849 2408.3,724.7 1281.2,831.1 1638,757.2 1066.3,796 2372.5,788.7 1061.1,810.2 1617.8,819.9 1192.2,784.1 462,810.9 1416.8,798 2139.1,778.4 3308.5,936.9 1173.2,846.1 1440.5,631.2 1337.6,778.5 2168.6,807.4 1715,801.9 1432.3,831.2 3404.2,864.8 1563.3,812.7 2654.5,844.3 1896.2,772 2348,803.4 1128.6,865.2 1769.9,868 3369,872.7 1752.1,765.6 2224,830.8 335.6,805.8 2691,832.6 436,734.9 1638,781.1 2746.9,769.8 2633.1,1002.5 275.9,780.7 1716.6,703.2 3540.9,869.4 1653.1,778.7 2745.1,790.1 1818,830.6 1770.9,818.6 897.8,778.5 2895.2,813 2604,839 1372.6,784 3066.8,870.1 226.8,762.8 1002.6,769.4 1869.9,787.9 3343.7,858.5 2775.8,1018.1 2020.7,789.6 2197.5,788.4 1674.4,831.1 3287.3,650 2306.7,770.6 435.5,849.4 3109.9,725.1 950.2,839.1 179.4,796.8 1972.7,872.8 2266.3,813.9 1019,720 3065.5,853.2 2182.8,830.1 1660,775.4 379.8,780.9 1828.1,817 923.6,756.4 2700.1,794.4 783.4,771 1428.2,867.8 2745.4,738 2663.3,755.7 1870.5,860 2588.2,855.4 1128.1,851.4 556.7,811.6 1613.3,776.9 1363.1,735.5 385.2,776.8 275.9,685.9 2028.4,772.6 1677.6,803.1 1351.2,776.6 3188.2,781.5 2139.1,812.5 1851.4,823.2 1104.4,859.1 3267.1,681.8 1312.8,797.8 2884.7,759.5 3001.9,768.4 3556.6,791.5 726.7,780.6 352.7,776.6 1170.9,828.8 1340.9,805 2457.5,871.9 3403.7,778.2 693.3,781.5 2920.4,930.2 1265.5,820 2929.4,853.8 1066.4,827 3490.2,827.6 800,810.4 1939.8,994.7 2501,847.9 951,782.8 388,816.6 432.6,846.7 721.1,725.7 2484.6,746.2 1621.8,887.4 709.2,768.4 2274.2,752.3 1128.1,784.5 1673.2,827.4 2745.8,856 1521.4,826.7 2788.2,833.4 1456.6,690.9 1069.8,824.5 3475.5,903.2 2745.8,835.6 1692.2,794 2085.1,817 2947.5,805.3 2698.4,787 1356.1,771.9 1760.5,782.8 1682.7,826.4 2443.4,815.3 225.6,735.8 3155.8,857.8 1324.5,800.5 334.2,818.1 2404.5,780 2690,790.7 3369.6,865.6 738.5,796.9 1978.5,821 3165.3,785.1 556.7,821.7 3403.4,754.3 1799.5,769.9 3052.5,728.1 1477.5,800.9 3459.6,874.6 1067,832.2 1121.2,822.5 1935.7,840.3 1829.9,803.8 1457.7,796.1 985.7,829.1 1858.7,836.7 2563.2,804.1 1618.7,879.8 2962,808.6 2746.9,879.9 772.9,706.4 897,795.2 1858.7,843 3042.3,755.2 3429,895.1 1625.3,802.8 1827.2,813.7 168.3,674.7 2799.7,764.7 2525.4,939.5 1638,731.1 285.9,762.5 3371.9,735.1 557.1,858.7 2496.8,818.7 481.8,756.3 3566,843.5 998.7,749.5 390.3,770.1 3307.4,1043.7 3388,815.5 1993.1,801.5 2147,738.2 1288.3,766.4 3511.3,824.8 1962.7,1112.1 981.3,810.4 658.4,813.1 231.1,756.9 1630.5,817.3 419.6,855.5 3078.5,813.1 434.3,847.6 2543.1,849.3 1888.7,784.5 1284.6,800.8 1873.5,794.8 2095.2,858.1 1483.3,839.3 1329.4,764.4 2065.8,783.8 632.9,858.5 3231,836.2 1606.3,835.4 2798.2,800.4 2347.1,822.7 2597.4,852 2092.2,800.3 634.5,786.8 3109.1,864.7 1423.8,884 554.7,873.5 3464.3,876.5 2933.2,798.8 1591.5,812.7 2493.1,817.7 1849,797.1 2539,833.9 3343.7,949.2 3417.2,829 2395.5,737.8 1641.4,781.5 2525.4,898 3129.6,704.9 296.6,920.7 1608.5,875.7 1312.8,773.4 2336,827.1 3004.4,772.7 1623.9,825.8 257.9,715 3308.5,956.5 3101.7,693.6 1169.5,813.6 2528.6,867.5 3166.2,715 418.5,829.1 2929.4,817.6 717.6,759 1822.1,849.8 2282.6,747.4 540,810.4 1340.9,788.6 1984.1,769.5 2839.8,831.3 3200.7,819.8 2243.6,855.4 1270.9,851.3 1428.2,848.5 1019,753.3 696.9,768.5 2241.5,799.6 1432.3,881.9 3273.5,799.6 2587,897.9 172.2,791.9 495.7,806.8 1181.4,804.3 2142.9,879 1873.5,831.3 526.4,811.3 1617.7,887.5 1570.2,823.1 1872.4,815.6 2355.8,819.4 2032.8,790.2 3087.6,789.2 548.4,914.2 1964.3,1092.3 2000.3,792 1255.9,658.4 933.6,771.9 2585.7,799.5 1926.4,831.2 3491.2,900.5 231.1,771.8 1791.9,785 2531.1,864.2 802.8,828.2 1170.5,816.7 684.2,791.2 1129.2,841.4 3308,1022.2 3431.4,875.8 1040.9,794.9 1485.4,827.2 2378.5,852.7 1425.1,897.2 1777.7,843.4 1350,773.5 750.2,781.8 695.5,863.8 862.6,807.7 417,864.2 1349.9,806.7 1682.2,791.1 2997.1,716.1 3188.4,776.6 1826.8,880.8 1485.4,866.4 985.7,834.3 2020.3,759.9 2272.5,853.9 2069.5,766.5 2749.3,900.1 881.3,818 300.3,1070.5 2062.9,761.2 1492,823.2 2896.5,830.4 2131.6,826.5 1128.1,862.1 2405.4,881.1 3492.4,904.9 802.5,682.4 3546.7,875 3536.2,732.2 1253.5,797.6 1782.4,846.8 3034.5,763 650.8,803.8 398.1,815 1181.4,792 416.7,741.3 1374.9,783.5 2807.8,794.5 1498.4,845.2 225.6,791.1 2783.6,839.5 1397.8,764.2 1876.3,688.5 2345.7,827.2 490.5,707.6 846.2,820.7 2708.2,851.2 1323.9,655.3 1599.1,791.2 930.6,751.2 2277.4,782 658.4,822.9 3504.3,858.3 2410.6,826.5 2281,777.9 244.9,802.1 185,721.9 2960.5,810.2 1093.3,847.7 1014.7,708.2 1441.2,806.6 1831.2,801.7 1271.8,792.2 3188.4,769.4 3119.7,811.8 2925.9,879 804.8,824.5 3371.9,822.8 581.3,793.6 3114.3,799.4 724.8,718.9 1769.9,832.6 489.7,780.4 2461.2,818 2951.5,769.7 1416.8,816.5 1579.9,811.6 2929.4,882.1 3526.5,861.2 658.6,772.9 3572.1,870.2 254.1,816.7 1927.2,834.4 1019,741.7 882.9,873.6 2499.8,869 1888.7,719.9 748.5,744.4 2186.5,814.7 1492.5,826.9 2745.8,843.6 3065.5,803.8 975.1,830 2143.1,816.6 1968.7,976.5 503.3,667.4 987.6,791.7 3443.4,627 2405.1,867.5 1005.3,815.4 663.6,648.1 2103.9,797 3085.4,803.5 2190.3,788.4 881.3,849.9 1361.9,778.5 1291.3,836.7 2369.8,890.1 1641.4,797.1 1482.8,825.2 1679.7,822.3 710.1,782.2 1936.7,934.3 3336.5,668 3109.9,704 2197.5,771.3 3575.7,1076.4 1255.9,722.8 434.3,855.1 164.7,715 638.2,849.5 1753,843.2 1264.5,711.3 1182.9,838.6 3012.1,770.2 3052.5,759.2 1550.3,820.4 2172.7,727.6 2670.2,655.5 3402.3,765.5 2587,882.2 1676.4,770.3 1104.5,833.4 738.5,794.9 2452.7,876.7 2726.3,801.4 2830.8,761.6 2590.1,819.8 1129.4,854.3 2633.2,906 2745.8,876.3 3306.6,933.8 1727.9,797.1 2229.1,740.5 815.9,777.6 1099.7,757.2 1181.2,838 3394.2,808.5 2243.1,824.1 1468.8,785.7 1073.3,818.7 2843.6,737 1069.4,767.8 1193.6,781.6 2297,767.5 3504.3,810 1744,805.5 881.3,834.3 1069.1,825 1544.4,805.7 3070.4,800.5 1659,668 2084.2,737.6 1432.3,776.2 378,747.3 3435.9,878 1573.2,770.3 2225,829.9 594.1,774.2 1978.1,805.4 2779.6,828.4 2660.8,828.6 551.6,862.1 1431.3,878.8 1861.6,734.3 3429.7,864.9 3417.4,770.1 2407.1,676 3160.7,781 1114.3,751.1 2328.1,864 2526.6,912.5 2347.7,835.7 1432.3,772.9 951,806.2 660.9,786.8 431.3,844.1 2920.1,853.7 2137.8,826.4 684.2,807.2 1653.5,719.6 1832.2,796.7 551.6,898.9 246.6,786.3 2448.1,705.1 1771.6,865.1 907.4,738.7 1870.6,870.9 1152.5,772.1 2698.9,826.5 2228.9,799.7 3546.3,882.5 1054.9,830.4 1004.7,789.1 906.1,781.8 2240.6,854.9 1614.3,856.5 2239.7,828.8 3404.1,847.8 255,796.9 1770.5,748.9 3504.9,860.4 260.2,665.7 507,742.8 3000.7,757.4 3267.1,727.7 3551.9,830.1 359.5,727.6 1165.6,831.2 3252.6,737.1 1757.8,833.5 495.2,806 2168.6,823.2 1606.3,806.8 2478.3,810.2 1685,823.6 970.5,798.4 1606.3,802.5 2085.1,763.2 3000.7,676.5 1006.1,809.7 2953.4,699.7 1963.4,1100.5 3370.9,858.8 538.5,832.4 867.8,766.3 2115.7,815.8 1935.7,790 1599.1,772.3 1660.7,802.5 829.6,807.5 2245.5,838.5 2165.7,826 1397.8,735.3 3528,885.9 2022,769.3 283,792.6 2611,795.5 691.4,859.4 2533.2,855.9 1419,871.4 542.3,866.7 404.6,828 2660.8,796.6 2004.9,806.7 1769.9,869.7 1141,819.4 2870.9,761.7 2269.4,784.8 3424.7,829.5 3439.3,890.5 2604.4,798.8 2474.8,701.7 2195.8,733.8 1944,1109.8 1278.9,829.5 2372,850.5 1853.6,859.3 786,770.5 1284.6,734.6 2677.4,731 2465.6,832 3231.7,820.9 165.9,826.7 1659,739.5 1662.6,731.5 1574,788.1 1784.2,874.9 1094.4,856.3 367.6,773.2 530.7,766.5 3456.5,841.4 1222.9,814.6 2708.2,810.1 2597.4,885.8 2596.9,781.5 2833.6,851.1 2069.9,744.5 538.6,903.2 3216.2,798 1108.5,837 1688.4,810.5 2561.3,845.3 2141.9,887.3 540,852.4 3568.2,798.2 2409,850 995.7,765.8 3073.1,723.9 2417.5,853.7 1339.1,774.5 618.5,671.5 1172.4,810.6 274.2,749.7 2225,813.8 2101.2,833.3 587.3,800.3 658.9,810.6 1450.1,805 2005.9,825.2 1586.7,793.5 882.7,734.5 727.7,651.1 3227.5,814.1 1657,772.8 1220.2,832.7 1876.8,707.3 2792.3,860.5 498.9,731.4 2929.4,824.6 3544.3,839.4 3522.1,817.8 2692.9,793.2 3490.3,838.3 2331.8,860.8 419.6,844.8 2136.4,865.1 2783.6,779.6 1760.5,829.8 1291.3,834.5 1134.3,866.9 2150.2,840.6 2666.7,784.2 1591.5,733.4 1220.2,742.7 1539.1,766.3 881.3,855.7 620.9,736.5 748.5,762.4 2595.3,880.1 3006.5,753.1 2224,830.5 551.6,876.1 926.9,693 3315.3,798.6 478,750.1 1845.4,742.5 911.9,747.9 3359.8,1095.2 2890.4,823.1 2229.9,804.4 3000.7,702.6 1282.4,785.8 3274,653.8 3274,814.5 1995.5,758.7 1515.2,820.5 750.2,777.8 649.8,822 538.5,869.2 334.2,803.6 796.4,816.1 3327.2,799.1 340,787.9 291.2,786.3 498.9,726.4 2441.6,739.4 2604,854.9 1093.3,882.3 3069,842.7 2095.5,827.6 3083,775.3 1829.9,799.1 2186.4,822.3 1665.5,741.3 3342.4,791.6 1906.6,728.7 1585.8,680 2993.4,791.9 2783.6,856.3 2364.6,833.7 2357.6,805.2 1638,770.7 3518,833.4 2754.2,1092.4 3065.5,851.8 1709.2,779.8 1040.9,777.7 1031.7,775.8 1040.9,760.5 3236,723.4 2752,869.8 3386,781.3 2298.2,814.3 970.5,790.2 1438.8,782.3 972.8,835.5 2062.9,814.8 1786,830.2 3062.7,821.7 2684.4,716.7 1829.9,844.2 704.9,800.6 3178.4,772.3 3504.3,810.4 2948.8,742 970.6,809.5 987.4,835.2 3274.5,822.8 1170.7,805.5 1834.3,801.1 1755.3,821.2 1484.6,857 3129.9,702.9 388,857 2376.5,861.4 3004.4,629.2 1971.8,819.7 3512.2,882.1 1438.3,783.6 2496.8,825.9 1763,833.1 1934.9,857.9 1432.3,772.5 2417.7,880.5 1396.5,749.7 1175.3,828.2 1316.1,771.1 1284.6,705.7 1260.8,726.6 3512.2,843.6 1702.3,794.2 603.6,807.6 2532.9,832.6 1284.6,769.8 3256.6,725.7 521.8,788.5 666.7,745.2 915.8,829.3 2929.4,879.5 872.8,715.8 3444.3,800.7 2252.5,876 1606.3,837.6 1723.6,753 2409.5,834.3 3486.4,870.4 3017.7,792.3 2431.3,786.5 1113.7,871 3109.9,708.5 3443.6,895.9 1338.5,749.6 2160.5,803.9 3224,842.2 1608.5,873.7 2176.4,828.6 970.5,815.2 3151.6,857.1 1172.4,851.8 2906.9,925.7 417.9,835.6 710.8,779.2 3156.9,835.1 2502,951.2 1425.1,833.1 1831.2,821.1 1783.5,836.7 2500.7,903.8 2281.6,743.3 1641.4,784.2 185,803 3342.6,936.2 3381.4,797 3057.3,823.1 2474.8,804.9 3427.4,824.9 2420.8,791.4 270.4,770.3 333.3,738.7 611.1,741.1 3204.9,770.4 1770.5,890 568.4,835.5 1284.6,713.2 1221.9,790.4 2398.2,860.7 1024.5,656.5 1515.2,804.4 2417.1,864.4 3140.1,817.8 3042.3,775.6 2379.9,847.1 2306.7,761.7 2601.7,866.9 2281.1,715.3 1994.6,804.9 1591.5,807.4 369.3,790.9 1078.4,822.5 897.8,772.6 2960.5,794.4 3464.3,915.7 796.3,739.3 3274,785.5 1834.3,857.9 1873.5,795.9 909.5,803.1 1094.4,854.4 2180.3,842 1858.8,804.2 2894.3,798 351,810.6 379.8,767.8 3476.8,853.6 1755.3,803.6 2306.7,758.7 996.9,813.8 3403.4,840.3 3476.8,852.8 3343.7,949.5 171.1,813.8 3464.6,860.7 2441.6,852.5 1801.4,650.1 2132.8,857.4 185.3,757.6 2213.1,826.5 1093.3,837.6 3465.2,843.9 2610.9,804.9 2390.2,823.3 1093.3,824 1116.4,860.1 2483.6,833.8 390.5,875.6 3208.1,779.5 925.7,778.7 1984.1,707.2 359.5,699.3 3436.9,810.9 416.6,793.2 2036.3,643.1 3031.2,649.8 2809,765.8 2387.1,825.9 1026.7,786.6 2319,816.7 2433.7,806.8 554.4,846.8 2377.5,851.7 3504.3,825.1 2833.6,842.6 1306.2,854.7 1115.3,819.5 1935.7,896.4 1324.5,775.6 2448,812.5 3526.5,872.2 3059.7,857 2115.7,829.4 2569.3,781.8 2468.2,738.3 1152.5,796 331.8,878 1092.6,842.6 2698.4,826.1 3551.9,699.7 1539.1,790.1 939,806.6 1918.4,818.7 3223.6,866.1 3004.4,805.8 2675.9,748.9 1121.2,851 1498.4,722.2 923.5,817.3 2454.7,743.4 3410.6,815.5 2712.7,806.7 2811.8,789.3 557.1,866.9 1638,742.2 3311.8,874.4 2501.9,928.7 1031.6,767.6 2037.7,707.7 1430.4,866.3 2061.5,824 2015.5,802.9 2353,842.7 2069.9,726.1 2238.4,803.1 1463.8,793.1 2306.7,737.2 1093.3,814.8 360.2,788.3 3061.6,841.5 3448.4,845.2 3404.1,858.1 1660.7,796.9 1801.8,718.8 572.3,813.2 2178.8,805 3498.8,871.7 1638,827 2745.8,777.8 1641.4,728.5 1638,776.2 2297,770.7 3536.2,724.5 1799,737.7 1840,818.3 616.5,786.3 2034.7,695.2 1831.2,819.7 390.5,806.6 2678.4,781.9 2237.3,779.2 1550.3,810.8 333.3,741 1610,873.5 3078.5,833.1 3573.5,933.6 3395.9,764.3 278.5,793 3239.1,711.3 3057.4,849.7 407.1,843.2 2238.3,843.8 568.2,837.9 1763.9,758.5 3004.4,655.2 2829,800.4 3022.5,790.1 3546.3,834.7 2364.1,844.2 1510.8,701.4 291.9,854.9 2013,849 1969.7,777.6 1522.5,794.5 257.9,806.8 444.7,828.8 1378.3,797.6 2095.5,829.7 789.8,704.8 534.4,800.3 2601.7,882.1 1789.4,854.2 586.3,812.3 951,820.9 2690.8,836.7 2629.8,867.2 3211.7,837 3535.1,869.9 884.4,821.9 639.7,758.1 1895.4,785.8 261,741.9 3246.9,734.6 2929.4,845.5 1856.2,843.1 3306.1,1057.2 355.8,783.1 2142.9,793.5 2975.4,826.5 165.5,751.1 1236.7,792.3 2779,944.7 3556.6,802.8 2848.6,820.6 2601.7,869.9 3542.1,881.2 1338.5,737.8 926.2,749.8 2421.9,839.7 3200.7,793.3 1638,791.3 690.4,808.5 2531.1,744.3 2745.8,845.2 3239.5,772.9 331,651.3 1684.1,848.8 417.7,825.4 2306.7,803.8 3555.2,879.4 1539,800.4 2119.2,804.6 2326.7,793.4 359.5,765.2 2546.2,862.9 388,785.8 2069.9,754.4 715.6,760.1 2306.7,700.6 359.5,754.1 2194.7,750.2 551,752.3 2303.4,784.5 1196.6,777.9 1484.6,798.7 2848.8,794.8 1208.5,824.4 1829.9,829 1631.7,766.3 2660.8,827.4 1681.2,746.5 461.5,757.6 2534.4,836.2 3144.6,700.5 2045.4,781.4 2592.9,877.5 3436.9,897.1 3528,861.4 2409.9,823.1 1748.7,798.1 3488.6,814.7 3305.2,1083.9 2721.5,775.3 3563.1,854.5 3000.7,678.6 1152.5,753.5 817.9,833.4 3492.4,884.3 2119.8,817.1 2142.9,799.1 1870.5,778.6 3118.2,742.2 2295.2,802.1 2256.1,782.7 677.2,674.1 1129.1,804.4 2403.2,871.2 3281.9,783.3 1744.5,832.1 2501.2,901 3542.1,877.3 926.2,691.3 613.7,687.2 2817.3,771.7 2362.1,797.1 2020.3,781.9 3457.3,798.8 352.4,773.7 883.6,868.3 2297,798.5 261.2,764.4 1284.6,764.6 2718.4,791.3 1805.1,767 1692.1,768.9 2217.2,843.2 3065.5,825 3486.7,870.9 2321.3,861.4 526.4,800.9 2325.8,850.3 2496.8,809.3 2501.8,910 1657,734.2 2229.9,808.8 2457.5,772.4 2501.2,880.4 2281.1,718.1 3398,764.2 990.3,805.2 3109.8,836.8 2604,853.8 2173.9,801.4 2190.2,812.5 1409.2,716.1 950.2,831.8 687.4,818.7 1087.3,773.9 1563.6,657.6 2630.3,815.5 3187.4,804 1397.8,773.3 1551.1,816.7 3088.6,800.3 1609.8,894.1 2007.8,835.7 972.6,834.9 2397.6,858.7 2664,805 2226,803.9 970.5,817.3 2173.9,685.8 2668,826.6 2406,829.4 1225.2,776.9 3465.2,837 1220.2,748.9 3306.4,1014 1416.1,868.5 275.9,768.1 1019,783.5 3525.5,823.2 783.4,748.5 1410.6,822.2 431.3,859.9 3427.6,892 867.8,807.7 2493.1,839.1 2632.8,933.6 1927.2,831.5 2811.8,713.7 2501.6,882.5 596.9,814.4 435,736.2 1294.1,799.9 600.7,814.9 2258.7,884.1 434.3,806.5 691.4,845.6 3497.8,908.6 2497.7,883 2920.1,946.9 1698.4,711.4 2111.2,771.8 3068.8,719.3 2428.5,809.4 3208.1,690.8 339.4,740.3 355.2,779.5 3443.4,823.3 2651.4,1080.7 1372.7,764.8 2238.3,847.1 3342,830.7 2987.6,714.5 1702.3,818.5 2705.8,799.3 2278.9,740.6 1873.5,845.5 1019.7,710.3 3114.3,791.8 1880.4,786.5 2190.3,781 3039.6,798.8 2375.8,846.2 407.1,833.9 3119.7,855.7 2331.8,860.3 807.8,854.9 487.5,673.4 1727.7,812.4 3308.4,756.1 503.3,829.4 2410.1,846.8 1416.1,875.2 2847.2,845.7 2993.4,727.2 2095.5,822 1352.1,752.4 1984.1,742 2567.8,816.4 2833.9,817.6 3085.4,812.1 2811.8,710.2 2680.3,776.4 3068.2,806.6 3316.4,807.8 506.7,814.8 274.2,765.9 1332.8,796.8 1654,817.6 1770.5,717.7 2465,847.7 417.9,844.2 970.5,782.6 430.5,848 2347.1,827.7 1655.9,810.1 2274.5,767.3 2581.6,781.8 534.4,756.1 897.8,772.6 1507.5,793.9 294.5,904.1 970.5,814.5 3149.3,845.3 923.5,795.1 1608.5,838.1 3314.8,849.2 2848.8,827.7 967.7,752.7 626.2,800.5 2622.6,810.8 876.5,780.6 1045.1,775.2 3422.9,788.5 2030.9,770.6 2502,964 2229.9,719.6 2752.6,1038.5 2929.4,866.4 3556.6,816.5 3115.4,838.2 481.8,755.9 2528.1,880.9 1770.5,829.2 3234.1,792 2296.3,772.9 384.7,778.5 2306.7,731.6 1803.1,786 2297,774.7 2678.4,803.8 3164.4,733 2918.5,978.3 275.9,740.4 2588.2,891.6 2238.3,829 203.6,795 2859.9,749.4 1674.4,821.9 2465.6,843 2457.5,878 3121.7,846.1 196,725.6 352.7,808.1 713.2,689.9 2243.9,830.2 3120.9,813.1 2593.1,804.1 1807.1,835.4 757.8,787 1255.4,764.5 1848.4,854.5 2867.6,628.5 951,806.9 2142.9,795.9 2441.1,812.4 2142.9,828.6 3404.1,844.3 719.1,718.3 1101.2,886.9 2192.6,744.1 1205,664.6 3109.1,857.8 1831.2,812.6 1323.9,806.3 783.4,775 900.9,795.3 2816.5,811.4 2960.5,824.5 478,743.3 3100.4,819.7 333.3,788.3 2814.9,788.9 2445.6,763.2 3574.2,1052.8 1638,788.5 944.3,839 1935.7,918.5 2186.9,724.9 1504.8,798.8 2673.1,823.3 2952.4,802.8 2019.3,844.8 1306.9,843.3 3200.7,796.8 1673.4,841.9 3341.7,757 2777.2,1000.7 752.8,793.7 2905.6,879.5 2119.8,809.7 1682.7,850.7 2000.3,774.5 1416.8,833.1 3363.2,868.8 1848.3,836.2 1787.6,826.1 331.7,737.8 3109.9,719.6 2457.5,853 352.4,739.4 2935.3,808.9 1298.3,815.4 1852.2,823.6 829.6,757.9 1410,791.1 2121,823.1 3231,817.1 2138.4,834.6 2446.8,873.4 1329.4,805.9 2197.5,770.6 783.4,767 2503.8,1034.4 2896.9,866.2 2365.1,787.8 1322.3,687 3156.9,831.4 3307.7,996.3 1674.4,807.7 2413.4,852.8 1484.6,859.5 2410.1,799.1 1284.6,764.4 1436,759.1 1887.5,705.2 3178.8,798.8 2531.1,716.7 2251.4,832.5 2321.7,833 1979.9,846.6 2142.6,820.8 3114.3,847 1740.7,841.9 668.1,804.5 2303.4,717.8 750.4,793.7 1657,754.7 691.4,836.6 3424.8,709.9 1911.1,786.1 2790.9,874.1 3492,897.4 3476.8,882.3 3566,808.3 2792.3,853 2684.5,830.3 231.1,779.4 2433.7,800.3 394.5,755.8 1284.6,709.8 2661.6,717.5 2406.3,790.7 1485.4,829.8 1685,823.4 1666.3,773.8 3370.5,868.9 1113.7,848.8 2128.5,762.8 1770.5,869.4 1372.6,784.9 2698.4,826.8 2898.6,847.1 3157.9,844.9 2229.9,766.6 333.5,857 436.5,823.7 2357.6,757.7 275.9,711 1284.6,747.8 2783.6,860.5 2022,767.3 2127.7,799.9 1104.4,821.2 2109.2,817 3000.7,728 2958.4,829.4 3343.4,952.8 967.7,756.1 264.7,821.1 2166.4,766.1 1107.6,827.8 3341.7,888.7 1641.4,779 752.8,798.4 1852.2,801.5 2698.4,758.9 2127.7,762.3 2173.9,778.7 1629.2,751.6 1416.1,817.6 2622.6,813.8 3339.2,848.7 3015.2,785 282.5,801.8 2626.3,854.8 3210.2,808.7 2136.6,767.4 3403.7,835.6 3118.2,835.2 1663,805.6 468.3,778.5 1881.8,806.3 2023.4,670.5 333.3,861.3 1432.3,851.9 956.5,801.4 3077.5,805.7 2884.8,741.2 2430,783.8 2792.3,844.1 478,774 3088.6,813.9 3512.2,863.8 2051.5,814.5 2676,836.7 3086.1,833.1 1198.9,814.2 3308.6,960.4 1846.6,864.7 1660.9,708 692.7,862.8 481.8,763.9 705.1,772.8 440.6,842.9 1434.9,799.2 2135.2,848.2 1964.4,1095.1 789.8,781.2 2869.2,745.4 976.2,845.9 1583.8,812.8 1638,806 333.5,826.1 455.2,701.9 374.3,785.7 1798.9,736.8 2186.4,814 3000.7,799.2 490.5,733.1 650.8,769.4 388,876.5 1432.3,811.9 2256.1,889.2 3152.2,851.9 1477.5,802.1 2229.5,684 2166.8,757 1129.1,845.7 230.8,755.6 3118.2,789.7 990.3,808.3 1583.8,822.1 1935.7,863.4 1066.3,798.9 1724.3,831.3 2751.6,984.9 1221.9,845.6 481.8,746.8 3554.6,851.9 1485.4,707.4 2228.7,805.8 1515.2,821 2501.2,911 434.3,819.8 2788.8,860.2 2700.2,809.4 3543.9,744.3 3120.9,861.2 461.5,794.8 2750.9,874 1178.9,706.7 2660.8,807.9 3483.5,869.8 2262.6,887.3 3552.1,871.5 1769.9,829.2 3536.2,746.9 3383.7,756.8 3200.7,733.7 3403.4,816 3481.7,836 2497,858.4 2745.8,709.9 3192.6,815.5 551.6,885.9 704.1,819.4 2245.5,860.5 1843.5,752.5 1747,753.1 3118.2,775.5 1541.3,808.9 1450.6,778.2 1848.4,814.2 3083,799.2 2363.6,852.4 1450.1,774 2303.4,791.8 2811.8,661 2973.6,712.7 1829.9,797.9 1702.3,812.4 1122.3,861 1113.7,862.8 3464.3,914.2 2002.8,676 2790,837.9 2522.8,1062.3 2269.4,877.1 3370.5,856.9 3559.1,703.1 1040.9,727.2 3360.9,988.4 3573.1,886.1 207.8,786.9 565.9,771 3224.6,800.1 1881.8,786.4 1720.6,798 216.6,695.6 3526.5,835.1 748.5,780.8 2041.6,794.7 1172.9,801.4 3343.7,937.5 1621.8,895.7 3516.8,793.1 1689.4,813.2 710.8,740.1 1613.3,801.1 2529.5,843.2 666.6,722.8 3475.8,734.7 2698.4,718.7 2150.8,843.5 3343.4,938.4 2752.1,1033.3 427.8,859.1 3308.5,928.4 2413,823.4 2399.9,879.4 1182.9,832.9 3556.3,883 2138.4,813.9 2299.9,779.1 2501.2,689.4 3121.7,778.3 1002,700.5 2690,824.2 816.9,809.3 3193.9,830.7 3556,872 2887.4,822.1 517.5,707.6 1862.2,788.2 3536,709.9 944.8,819.6 1918.4,809.5 3289.4,938.2 2690,815.3 1349.9,741.8 1539.1,777.4 2071.2,726.9 1438.3,756.5 2176.4,823.4 2525.4,950.8 2004.9,806.5 291.9,834.1 550.6,881.2 2497,751.4 1308,837.7 3504.3,836.3 3464.3,847.3 481.8,742.6 1222.9,666.6 924.5,742.1 1416.8,802.3 275.2,730.3 1293.7,808.3 1477.5,779.2 2126.9,743.5 1848.4,828.3 857.5,783.1 517.5,775.1 3050.9,764 3330.6,733.6 3114.3,821.8 1152.5,773.8 1720.6,778.4 1092.6,868.8 2799.7,834.5 2095.5,827.3 2775.8,1054 3379,789.3 2891.8,703.4 2142.9,842.7 3201.3,824.5 3121.7,793.1 3454.4,895.8 3267.1,776.7 2271.4,892.4 3343.7,932.3 3286.1,829.3 885,853.6 2190.3,813.4 3416.4,802 185.3,731.4 774.7,773.4 1855.1,858.5 2799.7,797 2951.5,767 1926,764.5 3551.9,900.4 214.6,755.8 1284.6,714.7 529.1,817.9 2752,922.2 3468.2,892.2 3224.6,865.1 2408.3,876.7 2397.6,837 490.5,743.4 1717.2,805.2 2600.5,861.6 654.5,798.4 1405.1,782.3 1237.2,789.8 164.5,827.8 2455.6,873.5 1144.4,817.3 1499.4,767.1 1794.2,772.7 187.4,791.4 707.9,770.2 639.3,855.3 3016.9,752.3 1170.5,833.4 2546,840.7 1935.7,867.1 1927.2,840.9 1935.7,859.2 3281.9,828 2690.8,814.1 1701.6,775.1 1304.7,877.1 2531.1,828.3 1498.4,827 283,751.3 840.9,699.9 1312.8,795 2604,835.8 293.5,913.8 3118.2,721.4 1112.7,887.1 1818.7,770.9 2698.4,764.7 1807.1,867.8 351.5,775.9 291.9,822.3 2561.3,857.6 2274.2,800 2628.5,863.4 2731,825.6 1281.2,772 3521.6,749.4 616.5,778.8 2457.5,842.4 3086.6,816.2 2631.8,865.4 3566,843.8 2875,755.7 3370,787.1 1043.6,837 200.6,668.1 2558.9,769.1 2660.1,860.7 1349.9,814.6 1276.8,801.6 2783.6,838.4 2654.1,934.1 3316.1,816.5 2399.7,832.2 2254.8,897.1 1031.6,792.4 2591.7,859.5 2051.5,737.4 348.5,776.1 3187.4,801.5 684.8,724.3 1170.5,817.2 649.9,649.3 3538.3,845.7 633.7,801.2 2142.9,821.1 1275.1,835.9 3119.7,828.1 1295.5,853 2351.4,734.3 987.9,781 1692.1,789.6 2051.5,784.8 3420.8,764.6 2775.1,1049.1 2409.5,865.6 1939.1,963.8 3210.1,857.7 3369.6,834.7 3556.6,826.3 1793.6,806.9 2033.3,745 3166.8,698.9 2399.7,850.5 3465.2,652 1788.6,864.7 2349,787.2 2399.3,855.5 1465.8,763.3 2660.8,794 1338.5,761.6 3436.9,851.1 468.3,736.3 333.3,797.5 3343.4,948.9 655,815.5 2833.9,825.2 3004.4,771.5 2772.7,1089.3 3088.6,806.1 1532.4,790 185.3,787 2612.1,781.2 2966.7,774.8 2496.8,828.4 2712.7,793.6 586.2,805.4 1770.5,763.7 3316.1,841.6 3332.4,723.9 3476.5,917 1056.5,825.9 1628.1,820.3 399.3,877 1164.1,843 2631.1,945 1418.8,887.9 1638,806.6 1657,783.8 2387.1,832.1 2404.9,882.5 3544.3,835.5 1935.7,814.1 3540.6,902.5 1128.1,848.4 1984.1,796.4 1512.8,769.6 165.5,807 3376.7,697.1 3410.2,756 2792.6,861.4 1238.2,762 1599.1,802 3375.1,667.3 2502,905.2 2351.4,820 1753,819.5 3190.3,782.5 3509.5,710.7 3504.3,800.8 673.4,763.9 3337.8,750.9 2461.5,703.4 2348,822.9 1747,856 2816.5,704.9 2306.7,757.4 923.5,769 2496.8,829.1 2478.3,809.4 2804.9,770.3 2281,728.3 1589.5,780.5 2004.3,712.8 1933.6,851.6 1939.9,949.2 3054.9,811.2 1870.5,775.6 388,849.2 1912.9,755.3 2531.6,836.1 401,784.7 563.6,673.9 2631.6,825.8 883.3,873.8 2113.4,776.5 302.1,1081.7 359.5,773.4 3443.8,851.2 1873.4,852.3 1301.4,880.4 2178,857.6 2047.5,798.2 2843.6,787.2 3540.9,863 3326.2,742.9 2935.3,743.9 1090.7,762.8 563.7,795.6 2391.3,840.4 2085.1,794.8 172.2,823.8 325.3,925.4 1431.4,777.3 298.6,998.4 1133.8,814.5 1944.2,1013 2428.5,817.9 1374.5,794.8 748.5,798 2051.5,801.3 1777.7,848.3 3310,880.7 620.9,740.5 2336,793 1709.2,795.9 3057.4,843.8 1416.1,859.7 2367.9,867.5 1991.3,799.5 3450.7,889.1 951,723.6 1935.7,875.2 1822.9,871.4 3287.3,865.7 163,830.7 3210.2,829 1005.8,793.6 2046.1,682.2 931.4,802.1 2411.4,779.6 443.9,652.6 3364.9,848 3267.1,772.6 2523.7,1003.4 2775.6,1016.5 2501.5,754.9 2943.1,798.7 1725.9,827.5 1610.4,864.3 3316.4,829.4 2677.6,743.9 3128.4,772.9 3080.1,709 1175.8,863.4 2197.5,764.4 1243,717.2 1935.7,794.3 1312.8,782.8 462,810 2601.7,844.8 2345.7,813.4 1659,709.8 1322.5,781.7 1006.1,786.1 3512.2,851 1934.5,937.2 1858.7,811.9 2009.2,824.5 1786,835.6 3363.2,979.6 2531.1,718.2 297.8,955.4 210.5,692.6 328.3,847.1 1471.2,802.6 951,825.5 3464.6,881.7 1221.9,747.8 2691.3,829.9 429.7,781.3 3126.1,670 756.7,796.7 1004.7,788 3444.3,903.4 1173.2,824.3 726.8,748.7 3573.1,781.1 945.7,791.8 1638,765.2 2838.6,820 1066.7,743.5 1512.8,728.1 3519.5,805.5 2167.7,794.5 916,827.2 3489.1,895.6 3161.6,744.6 2900.3,869.3 2373.3,880.3 1004.7,630.4 422.5,832.5 1770.5,889.6 3546.7,861.9 2936.7,771.8 2774.1,1069 1628.1,777.1 2566.7,793.8 1813.4,757.2 1004.7,794.1 602.5,777 1485.4,854 1984.1,760.5 1770.5,805.9 2238.5,818.3 3062.7,849.3 1458,788.9 1479.8,747.1 977.9,711.8 299.4,1049.7 2409.5,882.1 2102.4,837.4 2593.7,843.5 951.8,841.1 3343.7,885.5 538.6,853.3 448.5,681.3 1964,996 2496.8,847.2 2060.4,804.3 1040.9,770 513.3,826.2 3511.3,782.2 1621.8,890.5 1092.6,849.4 895,749.5 2836,828.4 3004.4,747.8 2750.9,902.8 704.1,820.3 3315,756.5 434.3,802.7 2779.4,940.4 2830.8,792.1 889.5,844.3 3571.2,866.8 3483.5,859.5 1659,693.8 328.2,857.6 2139.1,873.8 2691.3,762.1 1437.6,805.9 1770.5,753.5 1657,799.6 596,794.8 1225.2,776.7 478,753.9 3066.8,769.8 2896.9,808.5 3369.6,847.4 1777.7,858.9 3571.5,885.9 727.2,792.9 951,740.5 1979.9,842.4 2209.9,674.1 891.5,865.3 384.7,784.7 192,779.3 1182.9,825.4 2963.3,831.1 1112.7,837.6 3035.9,737.6 1066.3,827.4 2457.5,835.6 199.9,814.6 2397,880.4 1050,841.3 2363.7,799.5 2896.9,857.2 1381.8,714.9 1847.5,851.5 2215.5,827.7 3063.4,848.7 1935.7,904.7 3550.2,832.3 1116.4,867.6 3316.4,803.8 2660.8,827.1 2395.5,818.9 1340.9,766.2 225.6,747.6 2412.1,855.6 2691.7,817.3 991.3,817.5 2297,811.3 1260.1,773.5 2609.6,785 659.3,785.5 2465.6,846.9 2188.1,812.4 2397.4,830.9 3188.4,766.3 2085.1,802 961.7,805.2 2935.3,771.4 3386.3,822.2 1776.9,871.9 436,758.2 2363.4,875.3 2229.9,760 3056.9,786.5 2705.8,816.5 2397.6,876.3 1769.9,854.5 1621.8,879.1 3256.9,802.3 2439.3,756.1 265.1,741.3 960.2,783.8 225.6,787.7 1606.3,869 1306.2,880.5 3286.5,860.1 1720.6,808.5 481.8,685.6 2593.1,820.4 2906.3,927.5 1657,812.1 3021.3,808.4 666.7,752.5 3371.9,764.4 1775.3,842.7 333.5,860.5 2947.5,810.7 1853.6,856.1 3536.2,840.3 2931,715.8 3573.1,948 2745.8,888.4 2921.4,919.2 1268.2,785.7 2811.8,789.9 3088.6,792.1 1279.1,880.3 1282.4,815 1410,802.8 1685,644.8 2468.2,789.5 2604,875.6 1701.6,822.2 495.7,785.3 2930.6,798.8 1345.7,739.8 462,812 3109.9,764.8 1348,777.1 3336.2,748.2 2632.6,976.9 1358.8,783.5 490.5,755.7 1770.5,873.3 673.2,800.7 407.4,802.8 3403.7,843.8 1485.9,837.6 2135.2,803 274.2,741.9 3546.7,866.2 2409.5,881.2 3057.7,861.6 807.7,822.7 980.5,759.6 3412.9,800.4 1606.3,871.5 2525.2,976.8 2974.6,817.6 2960.5,827.7 299.5,962 1031.7,787 1606.3,849.8 1268.3,820.1 2139.1,804.5 2750.9,920.4 2716.9,720.9 1284.6,776.2 3338.1,781.9 586.3,768.9 2404.3,735 1539.1,723.4 3155.6,781.3 2030.9,793.1 433.7,846.9 3057.7,857.1 1298.3,814.6 417.9,852.3 3448.4,833.9 2609.6,743.6 551.6,804.1 3114.3,842 3065.5,852.1 2004.2,756.8 2062.9,738.9 1774.1,803.6 1024.4,803.3 1900.1,785.7 164.5,767.2 2976.3,813.5 1804.7,746.5 2779,738 539.1,834 1452.2,771.4 692.8,782.5 1208.5,802.9 2164.5,856.7 1182.9,849.5 2754.6,1027.2 881.3,829.2 225.6,755.2 3206.1,784.7 951,789.5 1341.4,809.4 1984.1,786.2 751.4,768.4 2980,750.5 209.6,794.9 2867.9,752.7 3492.5,824.3 951,842.1 926.2,772.2 1120.1,730.9 1719.1,831.1 666.7,814.1 2576.5,797.9 1583.8,812.3 3410.6,825.7 3266,799 2194.4,777.3 336.7,830.4 3566,794.7 2264.6,772.9 3100.4,807.6 3369.6,875.5 1369.8,771.1 443.6,645.1 1312.8,762.1 2812.5,791.7 972,729.9 1416.8,761.9 3000.7,765.4 2979,723.8 1061.1,824.7 3188.9,739.7 982.4,819.4 3149.4,851.9 2317.1,795.4 3039,819.7 2271.6,838.7 2027.5,751.7 2666.5,814.3 1092.6,799.6 1327.8,786 1373.1,787 2468.2,857 2364.1,840.5 481.8,757.5 3342.8,944.4 3171.4,783.5 1019.2,799.5 889.5,852.7 1319.6,747.5 3188.4,779 1539,810.4 352.7,802.6 411,806.2 2991.5,785.5 1163.5,869.2 3331.3,797.6 444.1,856.4 1777.7,898.7 2663,776.7 2979,803.8 2595.8,863.6 290,782.2 2465.6,770.9 2445.6,873.5 539.5,902.2 1587,805.6 2811.8,713.2 3316.1,834.6 253,633.8 3371.9,794.7 2495,804.1 1802.8,800.7 342.6,791.5 1683.9,809.2 3062.7,868 2209.2,808.9 684.2,805.1 3267.1,814.8 2705.8,794.5 3188.2,783.5 1416.8,848.6 2604.4,795.4 1592.6,778.1 2975.4,829.1 2397.6,829.2 3124.1,762.4 359.5,788.1 2792.3,850.2 2721.5,770.9 2386.2,662.4 2143.1,844.5 1839.2,772 3491.1,908.7 1019,773.9 2166.4,843.4 2688.9,812.3 2468.2,721.4 1168.4,831.7 2833.9,831 1120.6,825.3 1858.7,866 2009.2,838.9 2847.2,767.6 2832.6,791.8 3476.5,899.3 1770.5,849.4 1580.9,797.8 225.6,737.3 1436,758.7 3496.4,854.2 638.2,849.7 3536.2,791.6 2158.1,800 2095.5,708.6 2799.7,858.6 2142.4,835.4 3053,807.7 2898,852.4 2585.6,881.8 2493.1,806.5 1771,874.5 1644.3,750.5 2525.4,874 2991,766.8 3152.2,818.9 3371.9,822.7 3462.5,835.8 1972,874.9 3109.9,842.9 3128.4,838.3 1920,815.2 3544.3,838.2 2859.9,775.1 1323.9,800.6 1117.1,881.7 3479.1,880.7 1794.5,801.3 232.3,808.8 1273.3,878.3 883.3,837 2903.8,869.6 1871.7,835.2 2785.1,862 573.2,818.3 1786,845.2 1904.2,771.2 2650.2,1092.9 2525.4,953.6 1940,980.1 2051.5,805.4 3563.1,759 3464.6,849.9 3574.9,993.4 3559.1,843.1 444.7,860.9 2071.2,792.8 1832.6,868.2 2159.1,728.9 1539.1,781.7 3476.8,851.2 445.3,859 2404.9,855.5 2468.2,698.5 1293.7,838.1 3120.9,782.1 1114.3,875.5 333.5,780.5 538.6,870.1 2799.7,758.1 1935.7,877.7 2457.5,869.5 3470,887 1870.5,813.3 1807,862.5 333.3,780.9 1883.1,769.9 2166.4,851.7 3427.6,868.8 2781.8,892.3 294.1,911.3 2604.4,795.3 1611.4,734.3 538.6,824.9 2173.9,749.1 3121.7,762.4 3286,776.1 1057.3,814.1 1093.3,863.9 2468.2,722.1 1146.2,712.3 3444.3,886.1 2084.2,823.7 513.3,815.8 2724.9,821.4 1709.2,694.8 1807.1,838 2664,781 2270.6,868.2 2605.2,806.8 1115.3,832.4 1980.2,850.7 2391.4,781.5 1858.7,846.8 3536.2,720.3 2364.6,821.4 2925.7,879.9 2633.9,968.2 557.4,855.9 3341.7,871.6 1702.3,819.9 1561.7,729 1657,783.3 1072,733 1633,664.5 2238.4,823 1995.5,809.4 1220.2,833.1 526.4,797.6 655,811.7 2409.5,865.1 3475.2,863.1 2934.5,801.8 2108.3,831.3 750.2,781.4 2281,809.7 407.1,838.1 229.2,773.3 2721.5,805.3 2654.5,903.8 2150.7,857.1 2698.4,726.7 1278.9,705.2 3417.4,794.2 1861.9,698.2 3382.4,782.6 1550.3,822.6 2423.5,769.1 3571.3,901.8 1923,725.2 1163.1,857.7 1657,787.3 950.2,826.9 1214.2,833.8 3308.5,910.9 2481.4,689.6 1451.7,800.1 2369.6,773.2 3108.6,790.8 1770.5,846 3371.9,748.7 2686.9,838.8 1432.3,833.3 1433.3,847.6 813.8,862.5 333.3,819.4 1360.9,775.8 182.4,790.8 2792.3,869.1 2501.2,748.2 1180.9,824.5 2811.8,705.4 2468.2,731.9 390.5,876.6 3042.3,815.9 1432.3,851 1871.7,828.4 3555.1,788.7 3312,827.9 1423.8,885.1 1361.9,788.4 3078.5,685.6 1485.4,853 1037.3,765.2 3088.6,750.1 843.7,800.8 2427,804.2 1805.6,863.5 1628.1,822.7 1440.5,721.8 3370.9,781.9 1329.4,698.2 2397.4,872.6 1306.9,842.5 2807.8,764.9 379.8,778 1220.2,801.4 770.8,711.2 2745.8,863.8 3369.6,853.5 3200.7,754.1 2110.8,737.2 2936.5,705.6 1427.7,852.8 3370.9,841.1 3072.2,815.5 472.2,798.2 1416.8,829.7 495.7,794.7 1079.1,767.1 1805.6,748.2 1812.3,784.9 2848.6,807.2 1426.5,898.9 1872.3,842.6 818,845.5 335.4,829 248.6,790.5 2726.5,814.9 244.9,786.1 2391.4,793.8 472.2,758.7 3371.9,734.4 535.7,768.9 3000.7,783.3 2022,762 1829.9,865.7 3329.2,691.2 3193.4,798.6 2409.5,818.3 1418.8,890.4 3118.2,783.1 2313.7,655 3306.6,984.6 1281.2,882.8 2501.5,887.6 2346.7,749.2 3551.9,695 638.2,830.2 429.8,848.2 970.5,830.9 2592.6,843 2816.5,786 1595.6,780.1 881.3,816.9 592,744.3 3267.1,822.2 2267.4,898.9 275.9,735.8 586.3,811.6 1828.5,881.8 3267.1,751.9 434.3,834.2 1755.3,843.9 2898.1,793.1 1692.1,786.2 1940.8,1041.3 3100.7,775 2095.1,858.4 1532.9,824.3 3362.2,939.6 2132.8,877.2 3308.5,852.6 1254,723.9 2068.4,777.5 1770.9,888.2 3342.2,894.5 2142.9,834.7 1142.6,712.2 607.5,808.2 2502,948 2486.6,772.5 698.9,670.5 1770.5,740.9 2698.4,732.4 702,859.6 2306.7,787 2271.6,853 882.7,822.9 1371.6,771.7 1829.9,790.4 3154.8,851.2 1434.9,757 3065.5,840.5 2661.6,815.8 1386.2,757.8 3571.2,791.1 2127.5,703.6 1831.2,805.2 1319.8,725.8 3504.3,872.8 3064,780.8 1338.5,754.1 2592.2,876.1 2189.1,836.2 2018.8,810 1308,821.4 2145.1,800.2 3417.1,825.4 2779.4,782.9 2454.9,824.2 430.9,864 2935.3,778.3 297.7,979 2975.9,828.8 180.7,739.6 691.4,841.4 2168.6,809.1 3427.6,881.2 2675.9,796.4 926.2,725.7 3109.9,801.5 1416.1,834 2151.7,843.3 2095.1,841.6 851.8,210.3 851.8,216.9 851.8,221.8 851.8,277.7 851.8,433.7 851.8,543.5 838.7,493 339.5,350.9 1320.8,370.2 3511.1,292.6 772.8,401.6 772.8,414.2 772.8,428.3 772.8,433 772.8,438 772.8,443 772.8,450.6 772.8,463.1 772.8,570.4 772.8,573.5 772.8,585.5 772.8,590.5 772.8,608.7 772.8,620 1912.2,454.3 1912.2,485.8 1912.2,540.3 1912.2,628.1 1929.3,451.6 2209.7,379.6 2064.7,401.6 2064.7,442.6 2064.7,445.5 2064.7,531.6 2064.7,534.8 2064.7,537.7 1733.4,465.4 2209.7,503.1 2209.7,544.3 2291.4,459.7 2291.4,500.3 2291.4,504 2291.4,507.2 2291.4,516.3 2291.4,520.9 2178.5,521.4 2177,539.5 2235.2,526.9 2242.7,529.4 2023.3,527.6 1885,533.8 280,489.7 280,495.4 280,518.2 280,522.3 280,600.5 280,623.4 280,634.4 280,639.7 256.8,519.4 256.8,554.9 256.8,565 256.8,568.3 256.8,600.5 256.8,624.2 212.8,560.2 293.1,574.5 225.4,585 293.1,612 188.7,633.1 392.1,548.8 392.1,557 392.1,565 392.1,575 392.1,585 392.1,588.3 392.1,591.6 392.1,594.9 392.1,598.2 392.1,601.5 392.1,604.8 392.1,608.2 392.1,611.5 392.1,614.8 392.1,618.1 392.1,621.4 392.1,624.7 392.1,628 444.3,547.6 441,563.4 430.8,576.5 474,539.8 474,556.9 474,604.6 533.1,539.4 533.1,541.8 533.1,598.9 533.1,601.5 559.6,558.1 559.6,582.2 559.6,587.5 559.6,604.2 606.1,620.1 607.3,635.2 665.2,558.1 665.2,571.6 683.1,545.1 683.1,610.3 683.1,634.4 710,516.6 723.5,550.4 722.3,591.2 751.2,554.5 823.4,525.5 823.4,541.8 823.4,625 823.4,630 823.4,635 823.4,640 838.4,552.9 838.4,598.9 838.4,620.1 938.7,594 930.1,608.7 938.7,607.9 955.4,614.4 1069.2,536.2 1097.1,538.6 1113.6,533 1069.2,564.1 1142.6,602.6 1131,621.8 1127.5,638.6 1177.1,627 1159.7,620.4 1159.7,624.6 1159.7,628.8 1243.5,568.7 1260.3,572.5 1243.5,597 1277.8,607.5 1276,634 1320.8,556.4 1366.2,570.1 1366.2,628.1 1395.2,536.2 1395.2,539 1395.2,542.5 1395.2,556.4 1395.2,571.5 1395.2,574.7 1395.2,577.9 1395.2,581.1 1395.2,584.3 1395.2,587.5 1395.2,590.7 1395.2,593.9 1395.2,597.1 1395.2,600.4 1395.2,603.6 1395.2,606.8 1395.2,610 1395.2,613.2 1395.2,616.4 1395.2,619.6 1395.2,622.8 1395.2,626 1379.8,609.9 1416.5,605.4 1430.5,602.6 1466.8,619 1491.3,590.7 1508,578.1 1508,583.4 1542.3,558.2 1492,631.9 1736.5,564.1 1726,592.4 1749.8,620 1687.3,632.3 1805.4,612.4 1805.4,622.8 1805.4,634.4 2209.6,380 2235.1,567.3 2242.8,572.2 2242.8,600.1 2242.8,603.6 2235.1,616.9 2334.3,574.3 2319.3,598.4 2334.3,598.7 2375.5,605 2349,627.4 2367.2,626.3 2446.8,520.8 2446.8,530 2446.8,533 2446.8,535.5 2446.8,544.9 2446.8,586.1 2446.8,595.6 2446.8,615.8 2446.8,618 2446.8,629 2459.4,587.2 2459.4,590 2459.4,625.3 2471.6,620.4 2471.6,624 2498.5,533 2498.5,542.8 2562.8,495.3 2562.8,502.3 2562.8,530.2 2562.8,536.5 2562.8,541.4 2562.8,554 2562.8,571.5 2562.8,581.3 2562.8,589 2562.8,615.9 2562.8,626.3 2570.2,512.8 2577.8,510 2577.8,599.4 2570.2,618.3 2570.2,629.8 2527.5,603.6 2691.4,559.9 2684.8,571.1 2673.6,620.4 2727.4,487.3 2727.4,582.7 2737.9,612.4 2742,630 2742,635 2106.1,598.4 2106.1,607.8 2106.1,630.2 2149.8,626 2149.8,629.5 2149.8,633 1999.6,623.9 2041.2,623.2 2958.6,465.3 2805.6,550.9 2808.7,609.9 2808.7,621.8 2945,588.2 2962.8,604 2945,623.9 2945,629.8 2945,635 2991.1,617.6 2991.1,621.8 2991.1,632.3 3043.5,600.1 3061.4,622.8 3104.3,531.3 3091.1,612 3091.1,631.6 3102.6,632.3 3114.5,630.5 3149.4,585.8 3184.7,630.9 3243,628.1 3204.6,489.4 3204.6,496.4 3204.6,509.3 3263.7,523.6 3263.7,534.4 3263.7,547.7 3263.7,551.2 3263.7,553.7 3263.7,559.9 3263.7,565.9 3263.7,582.7 3263.7,634 3270.6,592.4 3278,618.3 3278,628.1 3285.7,487.3 3290.9,505.4 3310.8,582.3 3332.8,562 3337,630.2 3370.6,628.8 3399.2,506.8 3434.2,537.6 3443.9,611.7 3511,458.6 3516.6,608.2 3516.6,618.3 3516.6,624.6 824,642 824,645.7 824,649.8 824,654.1 824,659 824,663.2 824,668 824,669.4 824,672.4 824,677.3 824,681.1 824,685.8 824,687.6 824,690.6 824,692.9 824,696.2 824,699.7 824,701.1 824,703.2 824,705.5 824,710.3 824,714.5 824,716.4 824,720.8 824,722.6 824,726.2 824,728 824,729.3 824,733.9 824,736 824,738.1 824,743.2 824,747.8 824,750.2 824,755.2 824,758.5 824,762.4 824,764.5 824,769.3 824,773.3 824,778.3 824,783 824,785.4 824,788.1 824,790 824,791.8 824,793.4 824,795.8 824,799.4 824,800.7 824,804.6 824,807.2 824,809.6 824,814 824,817.2 824,819.7 824,822.8 824,826.8 824,828.3 824,833.3 824,834.7 1394.8,679 1394.8,683.5 1394.8,684.9 1394.8,689.2 1394.8,691.9 1394.8,695.4 1394.8,696.7 1394.8,698.1 1394.8,700.1 1394.8,705.1 1394.8,707.1 1394.8,711.3 1394.8,716.1 1394.8,721 1394.8,723.6 1394.8,726.3 1394.8,729.6 1394.8,733.8 1394.8,735.5 1394.8,739.7 1394.8,744 1394.8,748.6 1394.8,750 1394.8,754.9 1394.8,756.6 1394.8,759.1 1394.8,762.8 1394.8,767.6 1394.8,770.2 1394.8,775 1394.8,778.4 1394.8,780.8 1394.8,783.3 1394.8,785.3 1394.8,786.9 1394.8,788.7 1394.8,792.7 1394.8,797.8 1394.8,799.7 1394.8,801.1 1394.8,806.2 1394.8,809.5 1394.8,812.4 1394.8,814.6 1394.8,818.1 1394.8,822.6 1394.8,825.6 1394.8,828.5 1394.8,830 1394.8,834.8 2562.8,640 2562.8,646 2562.8,654.4 2562.8,657.7 2562.8,665.4 2562.8,674.6 2562.8,681.6 2562.8,689.6 2562.8,692.8 2562.8,698.3 2562.8,701.8 2562.8,710.3 2562.8,714.8 2562.8,720.5 2562.8,730.1 2562.8,738.6 2562.8,748 2562.8,753.7 2562.8,759.6 2562.8,767.3 2562.8,773.1 2562.8,777.6 2562.8,782.9 2562.8,786.4 2562.8,791.5 3263.7,642 3263.7,651.3 3263.7,658.2 3263.7,664.2 3263.7,669.1 3263.7,672.1 3263.7,676.5 3263.7,684.5 3263.7,693.1 3263.7,698.1 3263.7,706.2 3263.7,714.2 3263.7,721.6 3263.7,728.8 3263.7,736.6 3263.7,741.6 3263.7,749.1 3263.7,753.5 3263.7,759.4 2446.8,636 2446.8,644.6 2446.8,649.9 2446.8,660.6 2446.8,668.9 2446.8,676.5 2446.8,679.4 2446.8,686.8 2446.8,691.7 2446.8,700.2 2446.8,706.9 2446.8,716.5 2446.8,724.8 2446.8,734.3 2446.8,740 3337,640 3337,650.3 3337,661.4 3337,668 3337,679.3 3337,690.8 3337,700.6 3337,713.2 3337,725.6 3337,733.8 3337,742.1 3337,746.8 3337,758.1 772.8,640 772.8,646.8 772.8,655.4 772.8,664.3 772.8,673.2 772.8,677.4 772.8,686.8 772.8,694.5 772.8,702.9 772.8,709.2 772.8,717.2 772.8,726.5 772.8,734.7 772.8,743.5 772.8,746.6 772.8,750.7 772.8,757.2 772.8,765.5 772.8,770.1 772.8,778.7 772.8,786.8 772.8,789.9 772.8,796.7 392.1,640 392.1,644.2 392.1,649.2 392.1,656.3 392.1,661.8 392.1,667.5 392.1,671.5 392.1,680.1 392.1,687.8 392.1,698 1651,682 1651,685.4 1651,692.8 1651,694.9 1651,699.3 1651,703 1651,707.4 1651,710.1 1651,717.1 1651,721.3 1651,723.6 1651,729.2 1651,731.8 1651,737.1 1651,741.1 1651,746.6 1651,754.3 1111,682 1111,685.6 1111,691.1 1111,695.8 1111,699.2 1111,701.5 1111,705.9 1111,710.2 1317,722 1317,728.2 1317,732.8 1317,736.1 1317,741.9 1317,743.5 1317,745.7 1317,750 1317,754.5 1317,756.8 1317,761.4"/>
<polyline class="m" points="198.9,539 362.8,601.8 390.5,633.1 773.2,546.7 773.2,634 2618,638.6 2973.7,621.8"/>
<polyline class="l" points="2992.2,529.5 2980.3,627.4 3193.1,637.9 2497.8,575 3091.1,513.1 3317.5,595.6 3337,600.5 3337,613.4"/>
<g stroke-width="4.45" stroke-dasharray="17.78 17.79" fill="none"><line x1="163.3" x2="3641.6" y1="210.6" y2="210.6" stroke="#ff0000" stroke-opacity=".7"/><line x1="163.3" x2="3641.6" y1="495.5" y2="495.5" stroke="#0000ff" stroke-opacity=".7"/></g>
<g stroke="#7f7f7f" stroke-width="2.3" stroke-linecap="butt">
<line x1="851.9" y1="167.1" x2="851.9" y2="207.9"/>
<line x1="339.5" y1="307.7" x2="339.5" y2="346.5"/>
<line x1="697" y1="357.9" x2="729.6" y2="397.4"/>
<line x1="829.5" y1="358.7" x2="775.7" y2="398.6"/>
<line x1="1320.8" y1="326.1" x2="1320.8" y2="365.3"/>
<line x1="1817.4" y1="434.2" x2="1903.2" y2="452.4"/>
<line x1="1958.7" y1="390.2" x2="1931" y2="448.3"/>
<line x1="2121.1" y1="343.7" x2="2067.3" y2="398.9"/>
<line x1="2252.4" y1="321.7" x2="2211.9" y2="376.1"/>
<line x1="3511.1" y1="248.6" x2="3511.1" y2="289.9"/>
</g>
<text class="gl" x="851.9" y="160.2">GSK3B-DT</text>
<text class="gl" x="340.3" y="300.4">HDGF</text>
<text class="gl" x="696.5" y="349.7">CAND2</text>
<text class="gl" x="833" y="350.5">CDHR4</text>
<text class="gl" x="1321" y="319.6">JAKMIP2</text>
<text class="gl" x="1805.7" y="426.6">BNC2</text>
<text class="gl" x="1959" y="382.6">HMGB3P23</text>
<text class="gl" x="2123" y="336.4">BEND7</text>
<text class="gl" x="2252.5" y="313">STK33</text>
<text class="gl" x="3511.9" y="242.4">DIAPH2</text>
<text x="779.9" textLength="2243.6" lengthAdjust="spacingAndGlyphs" y="84.5" font-size="58.33" font-weight="bold" fill="#000">Manhattan Plot - codeine__prescribed_allcovar_binary_gr1_codeine__prescribed</text>
<text class="ax" x="143.3" y="1127.9" text-anchor="end">0</text>
<text class="ax" x="143.3" y="880.2" text-anchor="end">2</text>
<text class="ax" x="143.3" y="632.5" text-anchor="end">4</text>
<text class="ax" x="143.3" y="384.8" text-anchor="end">6</text>
<text class="ax" x="143.3" y="137.1" text-anchor="end">8</text>
<text class="ax" x="304.5" y="1161.6" text-anchor="middle">1</text>
<text class="ax" x="580.8" y="1161.6" text-anchor="middle">2</text>
<text class="ax" x="828.6" y="1161.6" text-anchor="middle">3</text>
<text class="ax" x="1047.5" y="1161.6" text-anchor="middle">4</text>
<text class="ax" x="1257.1" y="1161.6" text-anchor="middle">5</text>
<text class="ax" x="1455.4" y="1161.6" text-anchor="middle">6</text>
<text class="ax" x="1641.3" y="1161.6" text-anchor="middle">7</text>
<text class="ax" x="1812.3" y="1161.6" text-anchor="middle">8</text>
<text class="ax" x="1972.5" y="1161.6" text-anchor="middle">9</text>
<text class="ax" x="2126.2" y="1161.6" text-anchor="middle">10</text>
<text class="ax" x="2276.7" y="1161.6" text-anchor="middle">11</text>
<text class="ax" x="2429.0" y="1161.6" text-anchor="middle">12</text>
<text class="ax" x="2568.6" y="1161.6" text-anchor="middle">13</text>
<text class="ax" x="2693.0" y="1161.6" text-anchor="middle">14</text>
<text class="ax" x="2810.8" y="1161.6" text-anchor="middle">15</text>
<text class="ax" x="2918.9" y="1161.6" text-anchor="middle">16</text>
<text class="ax" x="3016.8" y="1161.6" text-anchor="middle">17</text>
<text class="ax" x="3108.5" y="1161.6" text-anchor="middle">18</text>
<text class="ax" x="3186.8" y="1161.6" text-anchor="middle">19</text>
<text class="ax" x="3255.2" y="1161.6" text-anchor="middle">20</text>
<text class="ax" x="3315.8" y="1161.6" text-anchor="middle">21</text>
<text class="ax" x="3373.1" y="1161.6" text-anchor="middle">22</text>
<text class="ax" x="3490.5" y="1161.6" text-anchor="middle">X</text>
<text class="ax" x="3609.3" y="1161.6" text-anchor="middle">Y</text>
<text x="1902.5" y="1289.5" text-anchor="middle" font-size="50" fill="#000">Chromosome</text>
<g transform="translate(89.3,732) rotate(-90)" fill="#000" font-size="50"><text x="0" y="0">−</text><text x="45.5" y="0">log</text><text x="115" y="9" font-size="35">10</text><text x="153" y="-2" font-size="61" textLength="16" lengthAdjust="spacingAndGlyphs">(</text><text x="176" y="0" font-style="italic">P</text><text x="215" y="-2" font-size="61" textLength="16" lengthAdjust="spacingAndGlyphs">)</text></g>
<text class="ax" x="198.9" textLength="271.5" lengthAdjust="spacingAndGlyphs" y="1306.2">λ overall: 1.0568</text>
<text class="ax" x="198.0" textLength="3591.3" lengthAdjust="spacingAndGlyphs" y="1385.4">SNV: 1.0647, CNV_regions_down: 0.8914, CNV_regions_up: 0.8459, LOF: 0.9978, MPC: 1.0561, CNV_genes_down: 0.8726, CNV_genes_up: 0.8514, CYP_dosages: 1.4030, DRAGEN_CYP2D6: 0.0979, HLA: 1.0390</text>
<text x="197.0" textLength="1687.2" lengthAdjust="spacingAndGlyphs" y="1464" font-size="33.33" fill="#808080">Results: marpiech-comp-plink2-codeine__prescribed_allcovar_binary_gr1_codeine__prescribed-plink2-results.tsv</text>
<text x="3711.3" y="262" font-size="41.67" font-weight="bold" fill="#000">Variant Class</text>
<circle cx="3746" cy="323.7" r="19.1" fill="#1B9E77" stroke="#1B9E77" fill-opacity=".8" stroke-opacity=".8" stroke-width="2.95"/>
<text class="lg" x="3803.3" y="337.3">CNV_genes_down</text>
<circle cx="3746" cy="395.7" r="19.1" fill="#D95F02" stroke="#D95F02" fill-opacity=".8" stroke-opacity=".8" stroke-width="2.95"/>
<text class="lg" x="3803.3" y="409.3">CNV_genes_up</text>
<circle cx="3746" cy="467.7" r="19.1" fill="#7570B3" stroke="#7570B3" fill-opacity=".8" stroke-opacity=".8" stroke-width="2.95"/>
<text class="lg" x="3803.3" y="481.3">CNV_regions_down</text>
<circle cx="3746" cy="539.7" r="19.1" fill="#E7298A" stroke="#E7298A" fill-opacity=".8" stroke-opacity=".8" stroke-width="2.95"/>
<text class="lg" x="3803.3" y="553.3">CNV_regions_up</text>
<circle cx="3746" cy="611.7" r="19.1" fill="#66A61E" stroke="#66A61E" fill-opacity=".8" stroke-opacity=".8" stroke-width="2.95"/>
<text class="lg" x="3803.3" y="625.3">CYP_dosages</text>
<circle cx="3746" cy="683.7" r="19.1" fill="#E6AB02" stroke="#E6AB02" fill-opacity=".8" stroke-opacity=".8" stroke-width="2.95"/>
<text class="lg" x="3803.3" y="697.3">DRAGEN_CYP2D6</text>
<circle cx="3746" cy="755.7" r="19.1" fill="#A6761D" stroke="#A6761D" fill-opacity=".8" stroke-opacity=".8" stroke-width="2.95"/>
<text class="lg" x="3803.3" y="769.3">HLA</text>
<circle cx="3746" cy="827.7" r="19.1" fill="#666666" stroke="#666666" fill-opacity=".8" stroke-opacity=".8" stroke-width="2.95"/>
<text class="lg" x="3803.3" y="841.3">LOF</text>
<circle cx="3746" cy="899.7" r="19.1" fill="#66C2A5" stroke="#66C2A5" fill-opacity=".8" stroke-opacity=".8" stroke-width="2.95"/>
<text class="lg" x="3803.3" y="913.3">MPC</text>
<circle cx="3746" cy="971.7" r="19.1" fill="#999999" stroke="#999999" fill-opacity=".8" stroke-opacity=".8" stroke-width="2.95"/>
<text class="lg" x="3803.3" y="985.3">SNV</text>
</svg></body></html>
